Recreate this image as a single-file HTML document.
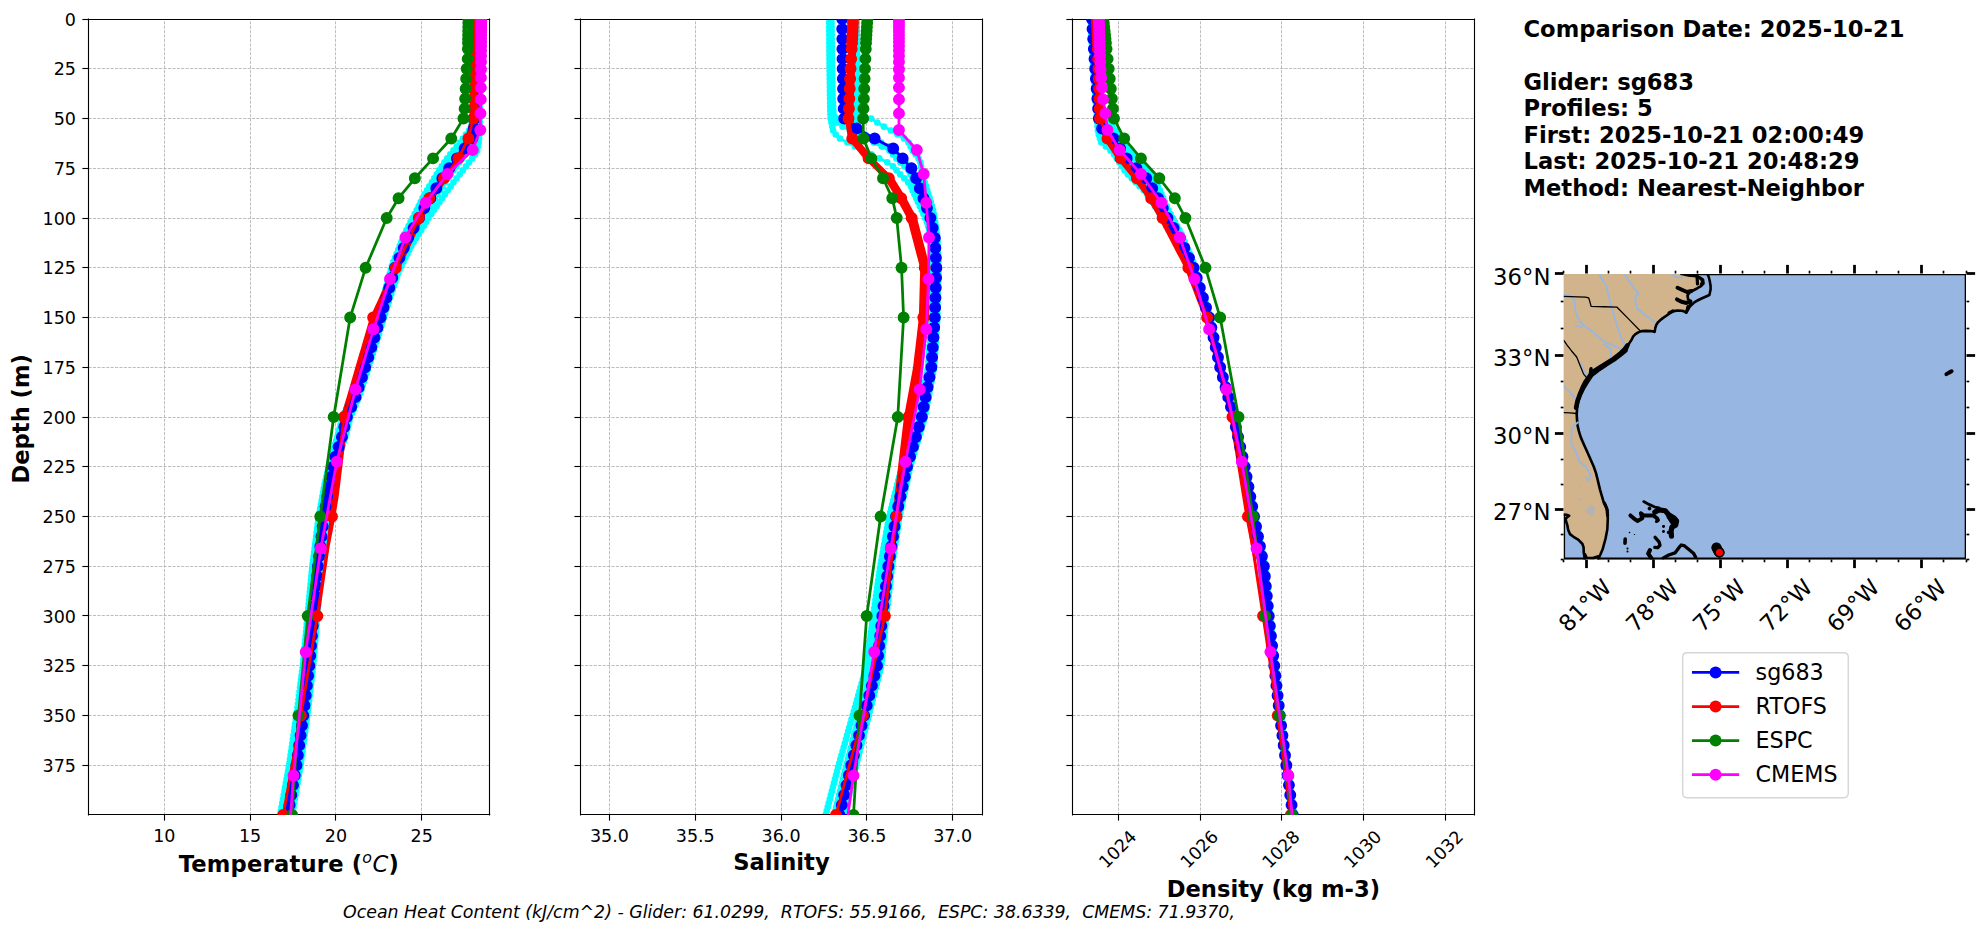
<!DOCTYPE html>
<html><head><meta charset="utf-8"><title>Glider comparison</title>
<style>html,body{margin:0;padding:0;background:#fff;overflow:hidden}svg{display:block}text{white-space:pre}</style></head><body>
<svg width="1978" height="934" viewBox="0 0 1424.16 672.48" version="1.1"><defs><style type="text/css">*{stroke-linejoin: round; stroke-linecap: butt}</style></defs><g id="figure_1"><g id="patch_1"><path d="M 0 672.48 L 1424.16 672.48 L 1424.16 0 L 0 0 z " style="fill: #ffffff"/></g><g id="axes_1"><g id="patch_2"><path d="M 63.72 586.76 L 352.58 586.76 L 352.58 13.75 L 63.72 13.75 z " style="fill: #ffffff"/></g><g id="matplotlib.axis_1"><g id="xtick_1"><g id="line2d_1"><path d="M 118.44 586.76 L 118.44 13.75" clip-path="url(#pdf5bd7e26a)" style="fill: none; stroke-dasharray: 2.22,0.96; stroke-dashoffset: 0; stroke: #b0b0b0; stroke-width: 0.6"/></g><g id="line2d_2"><defs><path id="m469b586308" d="M 0 0 L 0 4.4 " style="stroke: #000000; stroke-width: 0.8"/></defs><g><use href="#m469b586308" x="118.44" y="586.44" style="stroke: #000000; stroke-width: 0.8"/></g></g><g id="text_1"><text style="font-size: 12.6px; font-family: 'DejaVu Sans', 'Liberation Sans', sans-serif; text-anchor: middle" x="118.28" y="606.04" transform="rotate(-0 118.28 606.04)">10</text></g></g><g id="xtick_2"><g id="line2d_3"><path d="M 180.36 586.76 L 180.36 13.75" clip-path="url(#pdf5bd7e26a)" style="fill: none; stroke-dasharray: 2.22,0.96; stroke-dashoffset: 0; stroke: #b0b0b0; stroke-width: 0.6"/></g><g id="line2d_4"><g><use href="#m469b586308" x="180.36" y="586.44" style="stroke: #000000; stroke-width: 0.8"/></g></g><g id="text_2"><text style="font-size: 12.6px; font-family: 'DejaVu Sans', 'Liberation Sans', sans-serif; text-anchor: middle" x="180.07" y="606.04" transform="rotate(-0 180.07 606.04)">15</text></g></g><g id="xtick_3"><g id="line2d_5"><path d="M 241.56 586.76 L 241.56 13.75" clip-path="url(#pdf5bd7e26a)" style="fill: none; stroke-dasharray: 2.22,0.96; stroke-dashoffset: 0; stroke: #b0b0b0; stroke-width: 0.6"/></g><g id="line2d_6"><g><use href="#m469b586308" x="241.56" y="586.44" style="stroke: #000000; stroke-width: 0.8"/></g></g><g id="text_3"><text style="font-size: 12.6px; font-family: 'DejaVu Sans', 'Liberation Sans', sans-serif; text-anchor: middle" x="241.86" y="606.04" transform="rotate(-0 241.86 606.04)">20</text></g></g><g id="xtick_4"><g id="line2d_7"><path d="M 303.48 586.76 L 303.48 13.75" clip-path="url(#pdf5bd7e26a)" style="fill: none; stroke-dasharray: 2.22,0.96; stroke-dashoffset: 0; stroke: #b0b0b0; stroke-width: 0.6"/></g><g id="line2d_8"><g><use href="#m469b586308" x="303.48" y="586.44" style="stroke: #000000; stroke-width: 0.8"/></g></g><g id="text_4"><text style="font-size: 12.6px; font-family: 'DejaVu Sans', 'Liberation Sans', sans-serif; text-anchor: middle" x="303.65" y="606.04" transform="rotate(-0 303.65 606.04)">25</text></g></g><g id="text_5"><g transform="translate(128.61 628.37)"><text style="font-weight: 700; font-size: 16.3px; font-family: 'DejaVu Sans', 'Liberation Sans', sans-serif"><tspan x="0" y="-0.6" textLength="132.15" lengthAdjust="spacing">Temperature (</tspan><tspan x="132.28" y="-6.72" style="font-weight: 400; font-style: oblique; font-size: 11.41px; font-family: 'DejaVu Sans', 'Liberation Sans', sans-serif">o</tspan><tspan x="139.68" y="-0.6" style="font-weight: 400; font-style: oblique; font-size: 16.3px; font-family: 'DejaVu Sans', 'Liberation Sans', sans-serif">C</tspan><tspan x="151.02" y="-0.6">)</tspan></text></g></g></g><g id="matplotlib.axis_2"><g id="ytick_1"><g id="line2d_9"><path d="M 63.72 14.04 L 352.58 14.04" clip-path="url(#pdf5bd7e26a)" style="fill: none; stroke-dasharray: 2.22,0.96; stroke-dashoffset: 0; stroke: #b0b0b0; stroke-width: 0.6"/></g><g id="line2d_10"><defs><path id="ma31aeadfb0" d="M 0 0 L -4.4 0 " style="stroke: #000000; stroke-width: 0.8"/></defs><g><use href="#ma31aeadfb0" x="63.72" y="14.04" style="stroke: #000000; stroke-width: 0.8"/></g></g><g id="text_6"><text style="font-size: 12.6px; font-family: 'DejaVu Sans', 'Liberation Sans', sans-serif; text-anchor: end" x="54.72" y="18.54" transform="rotate(-0 54.72 18.54)">0</text></g></g><g id="ytick_2"><g id="line2d_11"><path d="M 63.72 49.32 L 352.58 49.32" clip-path="url(#pdf5bd7e26a)" style="fill: none; stroke-dasharray: 2.22,0.96; stroke-dashoffset: 0; stroke: #b0b0b0; stroke-width: 0.6"/></g><g id="line2d_12"><g><use href="#ma31aeadfb0" x="63.72" y="49.32" style="stroke: #000000; stroke-width: 0.8"/></g></g><g id="text_7"><text style="font-size: 12.6px; font-family: 'DejaVu Sans', 'Liberation Sans', sans-serif; text-anchor: end" x="54.72" y="54.35" transform="rotate(-0 54.72 54.35)">25</text></g></g><g id="ytick_3"><g id="line2d_13"><path d="M 63.72 85.32 L 352.58 85.32" clip-path="url(#pdf5bd7e26a)" style="fill: none; stroke-dasharray: 2.22,0.96; stroke-dashoffset: 0; stroke: #b0b0b0; stroke-width: 0.6"/></g><g id="line2d_14"><g><use href="#ma31aeadfb0" x="63.72" y="85.32" style="stroke: #000000; stroke-width: 0.8"/></g></g><g id="text_8"><text style="font-size: 12.6px; font-family: 'DejaVu Sans', 'Liberation Sans', sans-serif; text-anchor: end" x="54.72" y="90.17" transform="rotate(-0 54.72 90.17)">50</text></g></g><g id="ytick_4"><g id="line2d_15"><path d="M 63.72 121.32 L 352.58 121.32" clip-path="url(#pdf5bd7e26a)" style="fill: none; stroke-dasharray: 2.22,0.96; stroke-dashoffset: 0; stroke: #b0b0b0; stroke-width: 0.6"/></g><g id="line2d_16"><g><use href="#ma31aeadfb0" x="63.72" y="121.32" style="stroke: #000000; stroke-width: 0.8"/></g></g><g id="text_9"><text style="font-size: 12.6px; font-family: 'DejaVu Sans', 'Liberation Sans', sans-serif; text-anchor: end" x="54.72" y="125.98" transform="rotate(-0 54.72 125.98)">75</text></g></g><g id="ytick_5"><g id="line2d_17"><path d="M 63.72 157.32 L 352.58 157.32" clip-path="url(#pdf5bd7e26a)" style="fill: none; stroke-dasharray: 2.22,0.96; stroke-dashoffset: 0; stroke: #b0b0b0; stroke-width: 0.6"/></g><g id="line2d_18"><g><use href="#ma31aeadfb0" x="63.72" y="157.32" style="stroke: #000000; stroke-width: 0.8"/></g></g><g id="text_10"><text style="font-size: 12.6px; font-family: 'DejaVu Sans', 'Liberation Sans', sans-serif; text-anchor: end" x="54.72" y="161.79" transform="rotate(-0 54.72 161.79)">100</text></g></g><g id="ytick_6"><g id="line2d_19"><path d="M 63.72 192.6 L 352.58 192.6" clip-path="url(#pdf5bd7e26a)" style="fill: none; stroke-dasharray: 2.22,0.96; stroke-dashoffset: 0; stroke: #b0b0b0; stroke-width: 0.6"/></g><g id="line2d_20"><g><use href="#ma31aeadfb0" x="63.72" y="192.6" style="stroke: #000000; stroke-width: 0.8"/></g></g><g id="text_11"><text style="font-size: 12.6px; font-family: 'DejaVu Sans', 'Liberation Sans', sans-serif; text-anchor: end" x="54.72" y="197.61" transform="rotate(-0 54.72 197.61)">125</text></g></g><g id="ytick_7"><g id="line2d_21"><path d="M 63.72 228.6 L 352.58 228.6" clip-path="url(#pdf5bd7e26a)" style="fill: none; stroke-dasharray: 2.22,0.96; stroke-dashoffset: 0; stroke: #b0b0b0; stroke-width: 0.6"/></g><g id="line2d_22"><g><use href="#ma31aeadfb0" x="63.72" y="228.6" style="stroke: #000000; stroke-width: 0.8"/></g></g><g id="text_12"><text style="font-size: 12.6px; font-family: 'DejaVu Sans', 'Liberation Sans', sans-serif; text-anchor: end" x="54.72" y="233.42" transform="rotate(-0 54.72 233.42)">150</text></g></g><g id="ytick_8"><g id="line2d_23"><path d="M 63.72 264.6 L 352.58 264.6" clip-path="url(#pdf5bd7e26a)" style="fill: none; stroke-dasharray: 2.22,0.96; stroke-dashoffset: 0; stroke: #b0b0b0; stroke-width: 0.6"/></g><g id="line2d_24"><g><use href="#ma31aeadfb0" x="63.72" y="264.6" style="stroke: #000000; stroke-width: 0.8"/></g></g><g id="text_13"><text style="font-size: 12.6px; font-family: 'DejaVu Sans', 'Liberation Sans', sans-serif; text-anchor: end" x="54.72" y="269.23" transform="rotate(-0 54.72 269.23)">175</text></g></g><g id="ytick_9"><g id="line2d_25"><path d="M 63.72 300.6 L 352.58 300.6" clip-path="url(#pdf5bd7e26a)" style="fill: none; stroke-dasharray: 2.22,0.96; stroke-dashoffset: 0; stroke: #b0b0b0; stroke-width: 0.6"/></g><g id="line2d_26"><g><use href="#ma31aeadfb0" x="63.72" y="300.6" style="stroke: #000000; stroke-width: 0.8"/></g></g><g id="text_14"><text style="font-size: 12.6px; font-family: 'DejaVu Sans', 'Liberation Sans', sans-serif; text-anchor: end" x="54.72" y="305.05" transform="rotate(-0 54.72 305.05)">200</text></g></g><g id="ytick_10"><g id="line2d_27"><path d="M 63.72 335.88 L 352.58 335.88" clip-path="url(#pdf5bd7e26a)" style="fill: none; stroke-dasharray: 2.22,0.96; stroke-dashoffset: 0; stroke: #b0b0b0; stroke-width: 0.6"/></g><g id="line2d_28"><g><use href="#ma31aeadfb0" x="63.72" y="335.88" style="stroke: #000000; stroke-width: 0.8"/></g></g><g id="text_15"><text style="font-size: 12.6px; font-family: 'DejaVu Sans', 'Liberation Sans', sans-serif; text-anchor: end" x="54.72" y="340.86" transform="rotate(-0 54.72 340.86)">225</text></g></g><g id="ytick_11"><g id="line2d_29"><path d="M 63.72 371.88 L 352.58 371.88" clip-path="url(#pdf5bd7e26a)" style="fill: none; stroke-dasharray: 2.22,0.96; stroke-dashoffset: 0; stroke: #b0b0b0; stroke-width: 0.6"/></g><g id="line2d_30"><g><use href="#ma31aeadfb0" x="63.72" y="371.88" style="stroke: #000000; stroke-width: 0.8"/></g></g><g id="text_16"><text style="font-size: 12.6px; font-family: 'DejaVu Sans', 'Liberation Sans', sans-serif; text-anchor: end" x="54.72" y="376.67" transform="rotate(-0 54.72 376.67)">250</text></g></g><g id="ytick_12"><g id="line2d_31"><path d="M 63.72 407.88 L 352.58 407.88" clip-path="url(#pdf5bd7e26a)" style="fill: none; stroke-dasharray: 2.22,0.96; stroke-dashoffset: 0; stroke: #b0b0b0; stroke-width: 0.6"/></g><g id="line2d_32"><g><use href="#ma31aeadfb0" x="63.72" y="407.88" style="stroke: #000000; stroke-width: 0.8"/></g></g><g id="text_17"><text style="font-size: 12.6px; font-family: 'DejaVu Sans', 'Liberation Sans', sans-serif; text-anchor: end" x="54.72" y="412.48" transform="rotate(-0 54.72 412.48)">275</text></g></g><g id="ytick_13"><g id="line2d_33"><path d="M 63.72 443.16 L 352.58 443.16" clip-path="url(#pdf5bd7e26a)" style="fill: none; stroke-dasharray: 2.22,0.96; stroke-dashoffset: 0; stroke: #b0b0b0; stroke-width: 0.6"/></g><g id="line2d_34"><g><use href="#ma31aeadfb0" x="63.72" y="443.16" style="stroke: #000000; stroke-width: 0.8"/></g></g><g id="text_18"><text style="font-size: 12.6px; font-family: 'DejaVu Sans', 'Liberation Sans', sans-serif; text-anchor: end" x="54.72" y="448.3" transform="rotate(-0 54.72 448.3)">300</text></g></g><g id="ytick_14"><g id="line2d_35"><path d="M 63.72 479.16 L 352.58 479.16" clip-path="url(#pdf5bd7e26a)" style="fill: none; stroke-dasharray: 2.22,0.96; stroke-dashoffset: 0; stroke: #b0b0b0; stroke-width: 0.6"/></g><g id="line2d_36"><g><use href="#ma31aeadfb0" x="63.72" y="479.16" style="stroke: #000000; stroke-width: 0.8"/></g></g><g id="text_19"><text style="font-size: 12.6px; font-family: 'DejaVu Sans', 'Liberation Sans', sans-serif; text-anchor: end" x="54.72" y="484.11" transform="rotate(-0 54.72 484.11)">325</text></g></g><g id="ytick_15"><g id="line2d_37"><path d="M 63.72 515.16 L 352.58 515.16" clip-path="url(#pdf5bd7e26a)" style="fill: none; stroke-dasharray: 2.22,0.96; stroke-dashoffset: 0; stroke: #b0b0b0; stroke-width: 0.6"/></g><g id="line2d_38"><g><use href="#ma31aeadfb0" x="63.72" y="515.16" style="stroke: #000000; stroke-width: 0.8"/></g></g><g id="text_20"><text style="font-size: 12.6px; font-family: 'DejaVu Sans', 'Liberation Sans', sans-serif; text-anchor: end" x="54.72" y="519.92" transform="rotate(-0 54.72 519.92)">350</text></g></g><g id="ytick_16"><g id="line2d_39"><path d="M 63.72 551.16 L 352.58 551.16" clip-path="url(#pdf5bd7e26a)" style="fill: none; stroke-dasharray: 2.22,0.96; stroke-dashoffset: 0; stroke: #b0b0b0; stroke-width: 0.6"/></g><g id="line2d_40"><g><use href="#ma31aeadfb0" x="63.72" y="551.16" style="stroke: #000000; stroke-width: 0.8"/></g></g><g id="text_21"><text style="font-size: 12.6px; font-family: 'DejaVu Sans', 'Liberation Sans', sans-serif; text-anchor: end" x="54.72" y="555.74" transform="rotate(-0 54.72 555.74)">375</text></g></g><g id="text_22"><text style="font-weight: 700; font-size: 16.3px; font-family: 'DejaVu Sans', 'Liberation Sans', sans-serif; text-anchor: middle" x="21.08" y="301.55" transform="rotate(-90 21.08 301.55)">Depth (m)</text></g></g><g id="line2d_41"><path d="M 341.28 13.75 L 340.99 59.59 L 340.84 71.05 L 340.6 79.65 L 340.1 85.38 L 339.08 91.11 L 337.71 93.97 L 322.02 114.03 L 316.16 122.62 L 307.47 136.95 L 304.27 142.68 L 294.13 162.74 L 292.64 165.6 L 291.32 168.47 L 282.2 191.39 L 274.99 217.17 L 269.69 234.36 L 256.77 274.47 L 252.98 285.93 L 246.68 300.26 L 242.97 314.58 L 238.15 328.91 L 232.61 354.69 L 229.5 371.88 L 224.73 409.13 L 217.88 480.76 L 212.59 520.87 L 207.92 552.38 L 201.7 586.76 L 201.7 586.76 " clip-path="url(#pdf5bd7e26a)" style="fill: none; stroke: #00ffff; stroke-width: 2; stroke-linecap: square"/><defs><path id="m551fde6e4b" d="M 0 2.4 C 0.64 2.4 1.25 2.15 1.7 1.7 C 2.15 1.25 2.4 0.64 2.4 0 C 2.4 -0.64 2.15 -1.25 1.7 -1.7 C 1.25 -2.15 0.64 -2.4 0 -2.4 C -0.64 -2.4 -1.25 -2.15 -1.7 -1.7 C -2.15 -1.25 -2.4 -0.64 -2.4 0 C -2.4 0.64 -2.15 1.25 -1.7 1.7 C -1.25 2.15 -0.64 2.4 0 2.4 z "/></defs><g clip-path="url(#pdf5bd7e26a)"><path d="M341.28 13.75h0M341.25 16.62h0M341.23 19.48h0M341.2 22.35h0M341.18 25.21h0M341.15 28.08h0M341.13 30.94h0M341.1 33.81h0M341.09 36.67h0M341.07 39.54h0M341.06 42.4h0M341.05 45.27h0M341.04 48.13h0M341.02 51h0M341.01 53.86h0M341 56.73h0M340.99 59.59h0M340.97 62.46h0M340.94 65.32h0M340.89 68.19h0M340.84 71.05h0M340.79 73.92h0M340.75 76.78h0M340.6 79.65h0M340.35 82.51h0M340.1 85.38h0M339.59 88.24h0M339.08 91.11h0M337.71 93.97h0M335.46 96.84h0M333.22 99.7h0M330.98 102.57h0M328.74 105.43h0M326.5 108.3h0M324.26 111.16h0M322.02 114.03h0M320.03 116.89h0M318.03 119.76h0M316.16 122.62h0M314.41 125.49h0M312.67 128.35h0M310.91 131.22h0M309.15 134.08h0M307.47 136.95h0M305.87 139.81h0M304.27 142.68h0M302.84 145.54h0M301.46 148.41h0M300.08 151.27h0M298.6 154.14h0M297.11 157h0M295.62 159.87h0M294.13 162.74h0M292.64 165.6h0M291.32 168.47h0M290.17 171.33h0M289.02 174.2h0M287.87 177.06h0M286.71 179.93h0M285.56 182.79h0M284.41 185.66h0M283.26 188.52h0M282.2 191.39h0M281.4 194.25h0M280.61 197.12h0M279.82 199.98h0M279.03 202.85h0M278.24 205.71h0M277.44 208.58h0M276.65 211.44h0M275.86 214.31h0M274.99 217.17h0M274.12 220.04h0M273.25 222.9h0M272.39 225.77h0M271.52 228.63h0M270.6 231.5h0M269.69 234.36h0M268.77 237.23h0M267.86 240.09h0M266.94 242.96h0M266.03 245.82h0M265.12 248.69h0M264.2 251.55h0M263.29 254.42h0M262.37 257.28h0M261.46 260.15h0M260.54 263.01h0M259.61 265.88h0M258.66 268.74h0M257.72 271.61h0M256.77 274.47h0M255.82 277.34h0M254.87 280.2h0M253.93 283.07h0M252.98 285.93h0M251.72 288.8h0M250.46 291.66h0M249.2 294.53h0M247.94 297.39h0M246.68 300.26h0M245.94 303.12h0M245.19 305.99h0M244.45 308.85h0M243.71 311.72h0M242.97 314.58h0M242.01 317.45h0M241.04 320.31h0M240.08 323.18h0M239.11 326.04h0M238.15 328.91h0M237.53 331.77h0M236.91 334.64h0M236.28 337.5h0M235.64 340.37h0M235 343.23h0M234.36 346.1h0M233.71 348.96h0M233.13 351.83h0M232.61 354.69h0M232.1 357.56h0M231.58 360.42h0M231.06 363.29h0M230.54 366.15h0M230.02 369.02h0M229.5 371.88h0M229.13 374.75h0M228.76 377.61h0M228.39 380.48h0M228.02 383.34h0M227.65 386.21h0M227.28 389.07h0M226.9 391.94h0M226.53 394.8h0M226.16 397.67h0M225.79 400.54h0M225.42 403.4h0M225.05 406.27h0M224.73 409.13h0M224.46 412h0M224.19 414.86h0M223.91 417.73h0M223.64 420.59h0M223.37 423.46h0M223.1 426.32h0M222.83 429.19h0M222.56 432.05h0M222.28 434.92h0M222.01 437.78h0M221.74 440.65h0M221.47 443.51h0M221.2 446.38h0M220.92 449.24h0M220.65 452.11h0M220.38 454.97h0M220.11 457.84h0M219.84 460.7h0M219.56 463.57h0M219.29 466.43h0M219.02 469.3h0M218.75 472.16h0M218.48 475.03h0M218.21 477.89h0M217.88 480.76h0M217.51 483.62h0M217.14 486.49h0M216.77 489.35h0M216.4 492.22h0M216.03 495.08h0M215.66 497.95h0M215.29 500.81h0M214.92 503.68h0M214.55 506.54h0M214.18 509.41h0M213.81 512.27h0M213.43 515.14h0M213.01 518h0M212.59 520.87h0M212.17 523.73h0M211.75 526.6h0M211.33 529.46h0M210.91 532.33h0M210.49 535.19h0M210.07 538.06h0M209.65 540.92h0M209.23 543.79h0M208.81 546.65h0M208.39 549.52h0M207.92 552.38h0M207.4 555.25h0M206.89 558.11h0M206.37 560.98h0M205.85 563.84h0M205.33 566.71h0M204.81 569.57h0M204.29 572.44h0M203.77 575.3h0M203.25 578.17h0M202.73 581.03h0M202.21 583.9h0M201.7 586.76h0" style="fill:none;stroke:#00ffff;stroke-width:4.8;stroke-linecap:round"/></g></g><g id="line2d_42"><path d="M 342.55 13.75 L 342.23 62.46 L 342.1 73.92 L 341.96 82.51 L 341.42 88.24 L 341.01 91.11 L 339.94 96.84 L 321.94 119.76 L 317.9 125.49 L 310.92 136.95 L 304.26 148.41 L 299.83 157 L 293.57 168.47 L 292.2 171.33 L 283.74 191.39 L 282.01 197.12 L 274.47 222.9 L 270.08 237.23 L 258.4 274.47 L 254.71 285.93 L 248.53 300.26 L 244.95 314.58 L 240.25 328.91 L 234.94 354.69 L 231.97 371.88 L 227.42 409.13 L 220.98 480.76 L 215.92 520.87 L 211.43 552.38 L 205.4 586.76 L 205.4 586.76 " clip-path="url(#pdf5bd7e26a)" style="fill: none; stroke: #00ffff; stroke-width: 2; stroke-linecap: square"/><g clip-path="url(#pdf5bd7e26a)"><path d="M342.55 13.75h0M342.52 16.62h0M342.5 19.48h0M342.48 22.35h0M342.45 25.21h0M342.43 28.08h0M342.4 30.94h0M342.38 33.81h0M342.35 36.67h0M342.33 39.54h0M342.31 42.4h0M342.3 45.27h0M342.29 48.13h0M342.28 51h0M342.27 53.86h0M342.25 56.73h0M342.24 59.59h0M342.23 62.46h0M342.22 65.32h0M342.2 68.19h0M342.15 71.05h0M342.1 73.92h0M342.06 76.78h0M342.01 79.65h0M341.96 82.51h0M341.71 85.38h0M341.42 88.24h0M341.01 91.11h0M340.47 93.97h0M339.94 96.84h0M337.67 99.7h0M335.41 102.57h0M333.14 105.43h0M330.88 108.3h0M328.61 111.16h0M326.34 114.03h0M324.08 116.89h0M321.94 119.76h0M319.92 122.62h0M317.9 125.49h0M316.13 128.35h0M314.38 131.22h0M312.63 134.08h0M310.92 136.95h0M309.23 139.81h0M307.55 142.68h0M305.86 145.54h0M304.26 148.41h0M302.81 151.27h0M301.37 154.14h0M299.83 157h0M298.26 159.87h0M296.7 162.74h0M295.13 165.6h0M293.57 168.47h0M292.2 171.33h0M291 174.2h0M289.79 177.06h0M288.58 179.93h0M287.37 182.79h0M286.16 185.66h0M284.95 188.52h0M283.74 191.39h0M282.83 194.25h0M282.01 197.12h0M281.18 199.98h0M280.35 202.85h0M279.52 205.71h0M278.7 208.58h0M277.87 211.44h0M277.04 214.31h0M276.18 217.17h0M275.33 220.04h0M274.47 222.9h0M273.61 225.77h0M272.75 228.63h0M271.86 231.5h0M270.97 234.36h0M270.08 237.23h0M269.19 240.09h0M268.3 242.96h0M267.41 245.82h0M266.52 248.69h0M265.63 251.55h0M264.74 254.42h0M263.85 257.28h0M262.97 260.15h0M262.08 263.01h0M261.17 265.88h0M260.25 268.74h0M259.32 271.61h0M258.4 274.47h0M257.48 277.34h0M256.56 280.2h0M255.63 283.07h0M254.71 285.93h0M253.47 288.8h0M252.24 291.66h0M251 294.53h0M249.77 297.39h0M248.53 300.26h0M247.81 303.12h0M247.1 305.99h0M246.38 308.85h0M245.66 311.72h0M244.95 314.58h0M244.01 317.45h0M243.07 320.31h0M242.13 323.18h0M241.19 326.04h0M240.25 328.91h0M239.66 331.77h0M239.07 334.64h0M238.46 337.5h0M237.84 340.37h0M237.22 343.23h0M236.61 346.1h0M235.99 348.96h0M235.43 351.83h0M234.94 354.69h0M234.44 357.56h0M233.95 360.42h0M233.45 363.29h0M232.96 366.15h0M232.47 369.02h0M231.97 371.88h0M231.62 374.75h0M231.26 377.61h0M230.91 380.48h0M230.55 383.34h0M230.2 386.21h0M229.85 389.07h0M229.49 391.94h0M229.14 394.8h0M228.78 397.67h0M228.43 400.54h0M228.07 403.4h0M227.72 406.27h0M227.42 409.13h0M227.16 412h0M226.9 414.86h0M226.65 417.73h0M226.39 420.59h0M226.14 423.46h0M225.88 426.32h0M225.63 429.19h0M225.37 432.05h0M225.12 434.92h0M224.86 437.78h0M224.61 440.65h0M224.35 443.51h0M224.1 446.38h0M223.84 449.24h0M223.58 452.11h0M223.33 454.97h0M223.07 457.84h0M222.82 460.7h0M222.56 463.57h0M222.31 466.43h0M222.05 469.3h0M221.8 472.16h0M221.54 475.03h0M221.29 477.89h0M220.98 480.76h0M220.63 483.62h0M220.27 486.49h0M219.92 489.35h0M219.56 492.22h0M219.21 495.08h0M218.86 497.95h0M218.5 500.81h0M218.15 503.68h0M217.79 506.54h0M217.44 509.41h0M217.08 512.27h0M216.73 515.14h0M216.33 518h0M215.92 520.87h0M215.52 523.73h0M215.12 526.6h0M214.71 529.46h0M214.31 532.33h0M213.9 535.19h0M213.5 538.06h0M213.1 540.92h0M212.69 543.79h0M212.29 546.65h0M211.89 549.52h0M211.43 552.38h0M210.93 555.25h0M210.43 558.11h0M209.93 560.98h0M209.42 563.84h0M208.92 566.71h0M208.42 569.57h0M207.92 572.44h0M207.41 575.3h0M206.91 578.17h0M206.41 581.03h0M205.9 583.9h0M205.4 586.76h0" style="fill:none;stroke:#00ffff;stroke-width:4.8;stroke-linecap:round"/></g></g><g id="line2d_43"><path d="M 343.19 13.75 L 342.85 65.32 L 342.72 76.78 L 342.57 85.38 L 342.05 91.11 L 341.66 93.97 L 340.64 99.7 L 322.83 122.62 L 318.85 128.35 L 305.05 151.27 L 300.44 159.87 L 293.97 171.33 L 285.25 191.39 L 284.2 194.25 L 272.21 234.36 L 259.64 274.47 L 255.95 285.93 L 249.77 300.26 L 246.18 314.58 L 241.49 328.91 L 236.17 354.69 L 233.21 371.88 L 228.76 409.13 L 222.53 480.76 L 217.59 520.87 L 213.19 552.38 L 207.26 586.76 L 207.26 586.76 " clip-path="url(#pdf5bd7e26a)" style="fill: none; stroke: #00ffff; stroke-width: 2; stroke-linecap: square"/><g clip-path="url(#pdf5bd7e26a)"><path d="M343.19 13.75h0M343.17 16.62h0M343.14 19.48h0M343.12 22.35h0M343.09 25.21h0M343.07 28.08h0M343.04 30.94h0M343.02 33.81h0M342.99 36.67h0M342.97 39.54h0M342.94 42.4h0M342.93 45.27h0M342.92 48.13h0M342.91 51h0M342.9 53.86h0M342.88 56.73h0M342.87 59.59h0M342.86 62.46h0M342.85 65.32h0M342.83 68.19h0M342.82 71.05h0M342.77 73.92h0M342.72 76.78h0M342.67 79.65h0M342.62 82.51h0M342.57 85.38h0M342.31 88.24h0M342.05 91.11h0M341.66 93.97h0M341.15 96.84h0M340.64 99.7h0M338.4 102.57h0M336.16 105.43h0M333.92 108.3h0M331.67 111.16h0M329.43 114.03h0M327.19 116.89h0M324.95 119.76h0M322.83 122.62h0M320.84 125.49h0M318.85 128.35h0M317.11 131.22h0M315.37 134.08h0M313.63 136.95h0M311.88 139.81h0M310.14 142.68h0M308.4 145.54h0M306.66 148.41h0M305.05 151.27h0M303.55 154.14h0M302.06 157h0M300.44 159.87h0M298.82 162.74h0M297.21 165.6h0M295.59 168.47h0M293.97 171.33h0M292.73 174.2h0M291.48 177.06h0M290.23 179.93h0M288.99 182.79h0M287.74 185.66h0M286.49 188.52h0M285.25 191.39h0M284.2 194.25h0M283.35 197.12h0M282.5 199.98h0M281.65 202.85h0M280.8 205.71h0M279.94 208.58h0M279.09 211.44h0M278.24 214.31h0M277.39 217.17h0M276.54 220.04h0M275.69 222.9h0M274.84 225.77h0M273.99 228.63h0M273.1 231.5h0M272.21 234.36h0M271.32 237.23h0M270.43 240.09h0M269.54 242.96h0M268.65 245.82h0M267.76 248.69h0M266.87 251.55h0M265.98 254.42h0M265.09 257.28h0M264.2 260.15h0M263.31 263.01h0M262.4 265.88h0M261.48 268.74h0M260.56 271.61h0M259.64 274.47h0M258.71 277.34h0M257.79 280.2h0M256.87 283.07h0M255.95 285.93h0M254.71 288.8h0M253.47 291.66h0M252.24 294.53h0M251 297.39h0M249.77 300.26h0M249.05 303.12h0M248.33 305.99h0M247.62 308.85h0M246.9 311.72h0M246.18 314.58h0M245.24 317.45h0M244.3 320.31h0M243.37 323.18h0M242.43 326.04h0M241.49 328.91h0M240.89 331.77h0M240.3 334.64h0M239.7 337.5h0M239.08 340.37h0M238.46 343.23h0M237.84 346.1h0M237.22 348.96h0M236.67 351.83h0M236.17 354.69h0M235.68 357.56h0M235.18 360.42h0M234.69 363.29h0M234.2 366.15h0M233.7 369.02h0M233.21 371.88h0M232.86 374.75h0M232.52 377.61h0M232.17 380.48h0M231.82 383.34h0M231.48 386.21h0M231.13 389.07h0M230.79 391.94h0M230.44 394.8h0M230.09 397.67h0M229.75 400.54h0M229.4 403.4h0M229.06 406.27h0M228.76 409.13h0M228.51 412h0M228.26 414.86h0M228.02 417.73h0M227.77 420.59h0M227.52 423.46h0M227.28 426.32h0M227.03 429.19h0M226.78 432.05h0M226.53 434.92h0M226.29 437.78h0M226.04 440.65h0M225.79 443.51h0M225.55 446.38h0M225.3 449.24h0M225.05 452.11h0M224.8 454.97h0M224.56 457.84h0M224.31 460.7h0M224.06 463.57h0M223.82 466.43h0M223.57 469.3h0M223.32 472.16h0M223.07 475.03h0M222.83 477.89h0M222.53 480.76h0M222.18 483.62h0M221.84 486.49h0M221.49 489.35h0M221.15 492.22h0M220.8 495.08h0M220.45 497.95h0M220.11 500.81h0M219.76 503.68h0M219.42 506.54h0M219.07 509.41h0M218.72 512.27h0M218.38 515.14h0M217.98 518h0M217.59 520.87h0M217.19 523.73h0M216.8 526.6h0M216.4 529.46h0M216.01 532.33h0M215.61 535.19h0M215.21 538.06h0M214.82 540.92h0M214.42 543.79h0M214.03 546.65h0M213.63 549.52h0M213.19 552.38h0M212.69 555.25h0M212.2 558.11h0M211.7 560.98h0M211.21 563.84h0M210.72 566.71h0M210.22 569.57h0M209.73 572.44h0M209.23 575.3h0M208.74 578.17h0M208.24 581.03h0M207.75 583.9h0M207.26 586.76h0" style="fill:none;stroke:#00ffff;stroke-width:4.8;stroke-linecap:round"/></g></g><g id="line2d_44"><path d="M 340.72 13.75 L 340.62 30.94 L 340.37 71.05 L 340.25 82.51 L 340.2 85.38 L 340.35 91.11 L 340.1 96.84 L 339.86 99.7 L 339.11 105.43 L 322.43 128.35 L 318.55 134.08 L 313.15 142.68 L 305.87 154.14 L 301.11 162.74 L 294.35 174.2 L 285.32 194.25 L 278.44 217.17 L 274.33 231.5 L 260.87 274.47 L 257.18 285.93 L 251 300.26 L 247.42 314.58 L 242.72 328.91 L 237.41 354.69 L 234.44 371.88 L 230.1 409.13 L 224.08 480.76 L 219.25 520.87 L 214.94 552.38 L 209.11 586.76 L 209.11 586.76 " clip-path="url(#pdf5bd7e26a)" style="fill: none; stroke: #00ffff; stroke-width: 2; stroke-linecap: square"/><g clip-path="url(#pdf5bd7e26a)"><path d="M340.72 13.75h0M340.72 16.62h0M340.72 19.48h0M340.7 22.35h0M340.67 25.21h0M340.65 28.08h0M340.62 30.94h0M340.6 33.81h0M340.57 36.67h0M340.55 39.54h0M340.52 42.4h0M340.5 45.27h0M340.47 48.13h0M340.46 51h0M340.45 53.86h0M340.44 56.73h0M340.42 59.59h0M340.41 62.46h0M340.4 65.32h0M340.39 68.19h0M340.37 71.05h0M340.36 73.92h0M340.35 76.78h0M340.3 79.65h0M340.25 82.51h0M340.2 85.38h0M340.28 88.24h0M340.35 91.11h0M340.23 93.97h0M340.1 96.84h0M339.86 99.7h0M339.48 102.57h0M339.11 105.43h0M337.01 108.3h0M334.91 111.16h0M332.81 114.03h0M330.71 116.89h0M328.61 119.76h0M326.51 122.62h0M324.41 125.49h0M322.43 128.35h0M320.49 131.22h0M318.55 134.08h0M316.79 136.95h0M314.97 139.81h0M313.15 142.68h0M311.33 145.54h0M309.51 148.41h0M307.69 151.27h0M305.87 154.14h0M304.3 157h0M302.75 159.87h0M301.11 162.74h0M299.42 165.6h0M297.73 168.47h0M296.04 171.33h0M294.35 174.2h0M293.06 177.06h0M291.77 179.93h0M290.48 182.79h0M289.19 185.66h0M287.9 188.52h0M286.61 191.39h0M285.32 194.25h0M284.45 197.12h0M283.58 199.98h0M282.71 202.85h0M281.85 205.71h0M280.98 208.58h0M280.12 211.44h0M279.25 214.31h0M278.44 217.17h0M277.64 220.04h0M276.83 222.9h0M276.03 225.77h0M275.22 228.63h0M274.33 231.5h0M273.44 234.36h0M272.55 237.23h0M271.67 240.09h0M270.78 242.96h0M269.89 245.82h0M269 248.69h0M268.11 251.55h0M267.22 254.42h0M266.33 257.28h0M265.44 260.15h0M264.55 263.01h0M263.64 265.88h0M262.72 268.74h0M261.8 271.61h0M260.87 274.47h0M259.95 277.34h0M259.03 280.2h0M258.1 283.07h0M257.18 285.93h0M255.95 288.8h0M254.71 291.66h0M253.47 294.53h0M252.24 297.39h0M251 300.26h0M250.29 303.12h0M249.57 305.99h0M248.85 308.85h0M248.14 311.72h0M247.42 314.58h0M246.48 317.45h0M245.54 320.31h0M244.6 323.18h0M243.66 326.04h0M242.72 328.91h0M242.13 331.77h0M241.54 334.64h0M240.93 337.5h0M240.31 340.37h0M239.7 343.23h0M239.08 346.1h0M238.46 348.96h0M237.9 351.83h0M237.41 354.69h0M236.91 357.56h0M236.42 360.42h0M235.93 363.29h0M235.43 366.15h0M234.94 369.02h0M234.44 371.88h0M234.11 374.75h0M233.77 377.61h0M233.43 380.48h0M233.09 383.34h0M232.75 386.21h0M232.42 389.07h0M232.08 391.94h0M231.74 394.8h0M231.4 397.67h0M231.07 400.54h0M230.73 403.4h0M230.39 406.27h0M230.1 409.13h0M229.86 412h0M229.62 414.86h0M229.38 417.73h0M229.15 420.59h0M228.91 423.46h0M228.67 426.32h0M228.43 429.19h0M228.19 432.05h0M227.95 434.92h0M227.71 437.78h0M227.47 440.65h0M227.23 443.51h0M227 446.38h0M226.76 449.24h0M226.52 452.11h0M226.28 454.97h0M226.04 457.84h0M225.8 460.7h0M225.56 463.57h0M225.32 466.43h0M225.08 469.3h0M224.85 472.16h0M224.61 475.03h0M224.37 477.89h0M224.08 480.76h0M223.74 483.62h0M223.4 486.49h0M223.07 489.35h0M222.73 492.22h0M222.39 495.08h0M222.05 497.95h0M221.71 500.81h0M221.38 503.68h0M221.04 506.54h0M220.7 509.41h0M220.36 512.27h0M220.03 515.14h0M219.64 518h0M219.25 520.87h0M218.86 523.73h0M218.48 526.6h0M218.09 529.46h0M217.7 532.33h0M217.32 535.19h0M216.93 538.06h0M216.54 540.92h0M216.15 543.79h0M215.77 546.65h0M215.38 549.52h0M214.94 552.38h0M214.46 555.25h0M213.97 558.11h0M213.48 560.98h0M213 563.84h0M212.51 566.71h0M212.03 569.57h0M211.54 572.44h0M211.05 575.3h0M210.57 578.17h0M210.08 581.03h0M209.6 583.9h0M209.11 586.76h0" style="fill:none;stroke:#00ffff;stroke-width:4.8;stroke-linecap:round"/></g></g><g id="line2d_45"><path d="M 346.03 13.75 L 345.95 33.81 L 345.68 76.78 L 345.59 85.38 L 345.19 96.84 L 344.65 102.57 L 343.61 108.3 L 342.23 111.16 L 326.49 131.22 L 322.38 136.95 L 318.33 142.68 L 308.49 157 L 303.31 165.6 L 296.12 177.06 L 287.66 194.25 L 286.54 197.12 L 279.89 217.17 L 273.79 237.23 L 262.11 274.47 L 258.42 285.93 L 252.24 300.26 L 248.65 314.58 L 243.96 328.91 L 238.64 354.69 L 235.68 371.88 L 231.34 409.13 L 225.31 480.76 L 220.49 520.87 L 216.18 552.38 L 210.35 586.76 L 210.35 586.76 " clip-path="url(#pdf5bd7e26a)" style="fill: none; stroke: #00ffff; stroke-width: 2; stroke-linecap: square"/><g clip-path="url(#pdf5bd7e26a)"><path d="M346.03 13.75h0M346.03 16.62h0M346.03 19.48h0M346.03 22.35h0M346.02 25.21h0M346 28.08h0M345.97 30.94h0M345.95 33.81h0M345.92 36.67h0M345.9 39.54h0M345.87 42.4h0M345.85 45.27h0M345.82 48.13h0M345.8 51h0M345.78 53.86h0M345.77 56.73h0M345.76 59.59h0M345.74 62.46h0M345.73 65.32h0M345.72 68.19h0M345.71 71.05h0M345.69 73.92h0M345.68 76.78h0M345.67 79.65h0M345.64 82.51h0M345.59 85.38h0M345.52 88.24h0M345.44 91.11h0M345.37 93.97h0M345.19 96.84h0M344.92 99.7h0M344.65 102.57h0M344.13 105.43h0M343.61 108.3h0M342.23 111.16h0M339.98 114.03h0M337.73 116.89h0M335.48 119.76h0M333.23 122.62h0M330.98 125.49h0M328.73 128.35h0M326.49 131.22h0M324.5 134.08h0M322.38 136.95h0M320.3 139.81h0M318.33 142.68h0M316.36 145.54h0M314.4 148.41h0M312.43 151.27h0M310.46 154.14h0M308.49 157h0M306.79 159.87h0M305.1 162.74h0M303.31 165.6h0M301.48 168.47h0M299.65 171.33h0M297.82 174.2h0M296.12 177.06h0M294.71 179.93h0M293.3 182.79h0M291.89 185.66h0M290.48 188.52h0M289.07 191.39h0M287.66 194.25h0M286.54 197.12h0M285.57 199.98h0M284.61 202.85h0M283.64 205.71h0M282.68 208.58h0M281.71 211.44h0M280.75 214.31h0M279.89 217.17h0M279.03 220.04h0M278.18 222.9h0M277.32 225.77h0M276.46 228.63h0M275.57 231.5h0M274.68 234.36h0M273.79 237.23h0M272.9 240.09h0M272.01 242.96h0M271.12 245.82h0M270.23 248.69h0M269.34 251.55h0M268.45 254.42h0M267.56 257.28h0M266.67 260.15h0M265.78 263.01h0M264.88 265.88h0M263.95 268.74h0M263.03 271.61h0M262.11 274.47h0M261.19 277.34h0M260.26 280.2h0M259.34 283.07h0M258.42 285.93h0M257.18 288.8h0M255.95 291.66h0M254.71 294.53h0M253.47 297.39h0M252.24 300.26h0M251.52 303.12h0M250.81 305.99h0M250.09 308.85h0M249.37 311.72h0M248.65 314.58h0M247.72 317.45h0M246.78 320.31h0M245.84 323.18h0M244.9 326.04h0M243.96 328.91h0M243.37 331.77h0M242.77 334.64h0M242.17 337.5h0M241.55 340.37h0M240.93 343.23h0M240.31 346.1h0M239.7 348.96h0M239.14 351.83h0M238.64 354.69h0M238.15 357.56h0M237.66 360.42h0M237.16 363.29h0M236.67 366.15h0M236.17 369.02h0M235.68 371.88h0M235.34 374.75h0M235 377.61h0M234.67 380.48h0M234.33 383.34h0M233.99 386.21h0M233.65 389.07h0M233.31 391.94h0M232.98 394.8h0M232.64 397.67h0M232.3 400.54h0M231.96 403.4h0M231.63 406.27h0M231.34 409.13h0M231.1 412h0M230.86 414.86h0M230.62 417.73h0M230.38 420.59h0M230.14 423.46h0M229.9 426.32h0M229.66 429.19h0M229.43 432.05h0M229.19 434.92h0M228.95 437.78h0M228.71 440.65h0M228.47 443.51h0M228.23 446.38h0M227.99 449.24h0M227.75 452.11h0M227.51 454.97h0M227.28 457.84h0M227.04 460.7h0M226.8 463.57h0M226.56 466.43h0M226.32 469.3h0M226.08 472.16h0M225.84 475.03h0M225.6 477.89h0M225.31 480.76h0M224.98 483.62h0M224.64 486.49h0M224.3 489.35h0M223.96 492.22h0M223.63 495.08h0M223.29 497.95h0M222.95 500.81h0M222.61 503.68h0M222.27 506.54h0M221.94 509.41h0M221.6 512.27h0M221.26 515.14h0M220.87 518h0M220.49 520.87h0M220.1 523.73h0M219.71 526.6h0M219.33 529.46h0M218.94 532.33h0M218.55 535.19h0M218.16 538.06h0M217.78 540.92h0M217.39 543.79h0M217 546.65h0M216.62 549.52h0M216.18 552.38h0M215.69 555.25h0M215.21 558.11h0M214.72 560.98h0M214.23 563.84h0M213.75 566.71h0M213.26 569.57h0M212.78 572.44h0M212.29 575.3h0M211.8 578.17h0M211.32 581.03h0M210.83 583.9h0M210.35 586.76h0" style="fill:none;stroke:#00ffff;stroke-width:4.8;stroke-linecap:round"/></g></g><g id="FillBetweenPolyCollection_1"><defs><path id="m012cafd486" d="M 343.73 -658.73 L 338.69 -658.73 L 338.68 -655.86 L 338.66 -653 L 338.64 -650.13 L 338.62 -647.27 L 338.6 -644.4 L 338.58 -641.54 L 338.56 -638.67 L 338.54 -635.81 L 338.52 -632.94 L 338.5 -630.08 L 338.48 -627.21 L 338.46 -624.35 L 338.44 -621.48 L 338.42 -618.62 L 338.4 -615.75 L 338.38 -612.89 L 338.36 -610.02 L 338.34 -607.16 L 338.32 -604.29 L 338.3 -601.43 L 338.28 -598.56 L 338.26 -595.7 L 338.24 -592.83 L 338.22 -589.97 L 338.2 -587.1 L 337.45 -584.24 L 336.7 -581.37 L 335.94 -578.51 L 335.19 -575.64 L 334.44 -572.78 L 332.95 -569.91 L 331.52 -567.05 L 330.08 -564.18 L 328.65 -561.32 L 327.22 -558.45 L 325.12 -555.59 L 323.02 -552.72 L 320.92 -549.86 L 318.83 -546.99 L 316.73 -544.13 L 314.63 -541.26 L 312.53 -538.4 L 310.43 -535.53 L 308.33 -532.67 L 306.23 -529.8 L 304.73 -526.94 L 303.22 -524.07 L 301.72 -521.21 L 300.21 -518.34 L 298.7 -515.48 L 297.38 -512.61 L 296.06 -509.74 L 294.74 -506.88 L 293.41 -504.01 L 292.09 -501.15 L 290.77 -498.28 L 289.45 -495.42 L 288.12 -492.55 L 286.8 -489.69 L 285.48 -486.82 L 284.15 -483.96 L 282.83 -481.09 L 281.52 -478.23 L 280.22 -475.36 L 278.91 -472.5 L 277.61 -469.63 L 276.31 -466.77 L 275 -463.9 L 273.7 -461.04 L 272.4 -458.17 L 271.1 -455.31 L 269.79 -452.44 L 268.49 -449.58 L 267.19 -446.71 L 265.88 -443.85 L 265.05 -440.98 L 264.21 -438.12 L 263.37 -435.25 L 262.53 -432.39 L 261.69 -429.52 L 260.85 -426.66 L 260.02 -423.79 L 259.18 -420.93 L 258.34 -418.06 L 257.5 -415.2 L 256.66 -412.33 L 255.82 -409.47 L 254.99 -406.6 L 254.15 -403.74 L 253.31 -400.87 L 252.47 -398.01 L 251.63 -395.14 L 250.79 -392.28 L 249.96 -389.41 L 249.12 -386.55 L 248.28 -383.68 L 247.44 -380.82 L 246.6 -377.95 L 245.76 -375.09 L 244.93 -372.22 L 244.58 -369.36 L 244.24 -366.49 L 243.89 -363.63 L 243.55 -360.76 L 243.21 -357.9 L 242.86 -355.03 L 242.52 -352.17 L 242.17 -349.3 L 241.83 -346.44 L 241.49 -343.57 L 241.14 -340.71 L 240.8 -337.84 L 240.45 -334.98 L 240.11 -332.11 L 239.77 -329.25 L 239.42 -326.38 L 239.08 -323.52 L 238.73 -320.65 L 238.39 -317.79 L 238.05 -314.92 L 237.83 -312.06 L 237.61 -309.19 L 237.4 -306.33 L 237.18 -303.46 L 236.96 -300.6 L 236.67 -297.73 L 236.38 -294.87 L 236.09 -292 L 235.8 -289.14 L 235.51 -286.27 L 235.22 -283.41 L 234.93 -280.54 L 234.57 -277.68 L 234.15 -274.81 L 233.73 -271.94 L 233.31 -269.08 L 232.89 -266.21 L 232.47 -263.35 L 232.05 -260.48 L 231.63 -257.62 L 231.21 -254.75 L 230.79 -251.89 L 230.37 -249.02 L 229.95 -246.16 L 229.53 -243.29 L 229.11 -240.43 L 228.69 -237.56 L 228.27 -234.7 L 227.85 -231.83 L 227.43 -228.97 L 226.96 -226.1 L 226.48 -223.24 L 226.01 -220.37 L 225.53 -217.51 L 225.06 -214.64 L 224.58 -211.78 L 224.11 -208.91 L 223.64 -206.05 L 223.16 -203.18 L 222.69 -200.32 L 222.21 -197.45 L 221.74 -194.59 L 221.26 -191.72 L 220.79 -188.86 L 220.31 -185.99 L 219.84 -183.13 L 219.36 -180.26 L 218.89 -177.4 L 218.42 -174.53 L 217.94 -171.67 L 217.47 -168.8 L 216.99 -165.94 L 216.52 -163.07 L 216.04 -160.21 L 215.57 -157.34 L 215.06 -154.48 L 214.55 -151.61 L 214.04 -148.75 L 213.53 -145.88 L 213.02 -143.02 L 212.51 -140.15 L 212 -137.29 L 211.49 -134.42 L 210.99 -131.56 L 210.48 -128.69 L 209.97 -125.83 L 209.46 -122.96 L 208.95 -120.1 L 208.44 -117.23 L 207.93 -114.37 L 207.42 -111.5 L 206.91 -108.64 L 206.4 -105.77 L 205.89 -102.91 L 205.39 -100.04 L 204.88 -97.18 L 204.37 -94.31 L 203.86 -91.45 L 203.35 -88.58 L 202.84 -85.72 L 205 -85.72 L 205 -85.72 L 205.51 -88.58 L 206.02 -91.45 L 206.53 -94.31 L 207.04 -97.18 L 207.55 -100.04 L 208.05 -102.91 L 208.56 -105.77 L 209.07 -108.64 L 209.58 -111.5 L 210.09 -114.37 L 210.6 -117.23 L 211.11 -120.1 L 211.62 -122.96 L 212.13 -125.83 L 212.64 -128.69 L 213.15 -131.56 L 213.65 -134.42 L 214.16 -137.29 L 214.67 -140.15 L 215.18 -143.02 L 215.69 -145.88 L 216.2 -148.75 L 216.71 -151.61 L 217.22 -154.48 L 217.73 -157.34 L 218.2 -160.21 L 218.68 -163.07 L 219.15 -165.94 L 219.63 -168.8 L 220.1 -171.67 L 220.58 -174.53 L 221.05 -177.4 L 221.52 -180.26 L 222 -183.13 L 222.47 -185.99 L 222.95 -188.86 L 223.42 -191.72 L 223.9 -194.59 L 224.37 -197.45 L 224.85 -200.32 L 225.32 -203.18 L 225.8 -206.05 L 226.27 -208.91 L 226.74 -211.78 L 227.22 -214.64 L 227.69 -217.51 L 228.17 -220.37 L 228.64 -223.24 L 229.12 -226.1 L 229.59 -228.97 L 230.01 -231.83 L 230.43 -234.7 L 230.85 -237.56 L 231.27 -240.43 L 231.69 -243.29 L 232.11 -246.16 L 232.53 -249.02 L 232.95 -251.89 L 233.37 -254.75 L 233.79 -257.62 L 234.21 -260.48 L 234.63 -263.35 L 235.05 -266.21 L 235.47 -269.08 L 235.89 -271.94 L 236.31 -274.81 L 236.73 -277.68 L 237.22 -280.54 L 237.77 -283.41 L 238.32 -286.27 L 238.87 -289.14 L 239.42 -292 L 239.97 -294.87 L 240.52 -297.73 L 241.07 -300.6 L 241.54 -303.46 L 242.02 -306.33 L 242.49 -309.19 L 242.97 -312.06 L 243.45 -314.92 L 243.79 -317.79 L 244.14 -320.65 L 244.49 -323.52 L 244.84 -326.38 L 245.19 -329.25 L 245.53 -332.11 L 245.88 -334.98 L 246.23 -337.84 L 246.58 -340.71 L 246.93 -343.57 L 247.27 -346.44 L 247.62 -349.3 L 247.97 -352.17 L 248.32 -355.03 L 248.67 -357.9 L 249.01 -360.76 L 249.36 -363.63 L 249.71 -366.49 L 250.06 -369.36 L 250.41 -372.22 L 251.25 -375.09 L 252.09 -377.95 L 252.93 -380.82 L 253.78 -383.68 L 254.62 -386.55 L 255.46 -389.41 L 256.3 -392.28 L 257.15 -395.14 L 257.99 -398.01 L 258.83 -400.87 L 259.67 -403.74 L 260.51 -406.6 L 261.36 -409.47 L 262.2 -412.33 L 263.04 -415.2 L 263.88 -418.06 L 264.73 -420.93 L 265.57 -423.79 L 266.41 -426.66 L 267.25 -429.52 L 268.1 -432.39 L 268.94 -435.25 L 269.78 -438.12 L 270.62 -440.98 L 271.47 -443.85 L 272.77 -446.71 L 274.08 -449.58 L 275.39 -452.44 L 276.69 -455.31 L 278 -458.17 L 279.31 -461.04 L 280.61 -463.9 L 281.92 -466.77 L 283.23 -469.63 L 284.54 -472.5 L 285.84 -475.36 L 287.15 -478.23 L 288.47 -481.09 L 289.79 -483.96 L 291.12 -486.82 L 292.45 -489.69 L 293.77 -492.55 L 295.1 -495.42 L 296.43 -498.28 L 297.75 -501.15 L 299.08 -504.01 L 300.41 -506.88 L 301.73 -509.74 L 303.06 -512.61 L 304.39 -515.48 L 305.9 -518.34 L 307.41 -521.21 L 308.92 -524.07 L 310.43 -526.94 L 311.94 -529.8 L 314.04 -532.67 L 316.14 -535.53 L 318.24 -538.4 L 320.35 -541.26 L 322.45 -544.13 L 324.55 -546.99 L 326.66 -549.86 L 328.76 -552.72 L 330.86 -555.59 L 332.96 -558.45 L 334.4 -561.32 L 335.84 -564.18 L 337.27 -567.05 L 338.71 -569.91 L 340.08 -572.78 L 340.71 -575.64 L 341.34 -578.51 L 341.98 -581.37 L 342.61 -584.24 L 343.24 -587.1 L 343.26 -589.97 L 343.28 -592.83 L 343.3 -595.7 L 343.32 -598.56 L 343.34 -601.43 L 343.36 -604.29 L 343.38 -607.16 L 343.4 -610.02 L 343.42 -612.89 L 343.44 -615.75 L 343.46 -618.62 L 343.48 -621.48 L 343.5 -624.35 L 343.52 -627.21 L 343.54 -630.08 L 343.56 -632.94 L 343.58 -635.81 L 343.6 -638.67 L 343.62 -641.54 L 343.64 -644.4 L 343.66 -647.27 L 343.68 -650.13 L 343.7 -653 L 343.72 -655.86 L 343.73 -658.73 z "/></defs><g clip-path="url(#pdf5bd7e26a)"><use href="#m012cafd486" x="0.36" y="672.84" style="fill: #ff0000"/></g></g><g id="patch_3"><path d="M 63.72 586.76 L 63.72 13.75" style="fill: none; stroke: #000000; stroke-width: 0.8; stroke-linejoin: miter; stroke-linecap: square"/></g><g id="patch_4"><path d="M 352.44 586.76 L 352.44 13.75" style="fill: none; stroke: #000000; stroke-width: 0.8; stroke-linejoin: miter; stroke-linecap: square"/></g><g id="patch_5"><path d="M 63.72 586.44 L 352.58 586.44" style="fill: none; stroke: #000000; stroke-width: 0.8; stroke-linejoin: miter; stroke-linecap: square"/></g><g id="patch_6"><path d="M 63.72 14.04 L 352.58 14.04" style="fill: none; stroke: #000000; stroke-width: 0.8; stroke-linejoin: miter; stroke-linecap: square"/></g><g id="line2d_46"><path d="M 342.57 13.75 L 342.51 20.91 L 342.45 28.08 L 342.39 35.24 L 342.33 42.4 L 342.3 49.57 L 342.27 56.73 L 342.23 63.89 L 342.2 71.05 L 342.08 78.22 L 341.96 85.38 L 341.34 92.54 L 340.1 99.7 L 334.54 106.87 L 328.98 114.03 L 323.42 121.19 L 318.48 128.35 L 314.15 135.52 L 309.83 142.68 L 305.5 149.84 L 301.79 157 L 297.78 164.17 L 293.76 171.33 L 290.67 178.49 L 287.58 185.66 L 284.49 192.82 L 282.39 199.98 L 280.29 207.14 L 278.19 214.31 L 276.09 221.47 L 273.99 228.63 L 271.76 235.79 L 269.54 242.96 L 267.32 250.12 L 265.09 257.28 L 262.87 264.44 L 260.56 271.61 L 258.25 278.77 L 255.95 285.93 L 252.86 293.1 L 249.77 300.26 L 247.98 307.42 L 246.18 314.58 L 243.84 321.75 L 241.49 328.91 L 240 336.07 L 238.46 343.23 L 236.91 350.4 L 235.68 357.56 L 234.44 364.72 L 233.21 371.88 L 232.34 379.05 L 231.48 386.21 L 230.61 393.37 L 229.75 400.54 L 228.88 407.7 L 228.26 414.86 L 227.65 422.02 L 227.03 429.19 L 226.41 436.35 L 225.79 443.51 L 225.17 450.67 L 224.56 457.84 L 223.94 465 L 223.32 472.16 L 222.7 479.32 L 221.84 486.49 L 220.97 493.65 L 220.11 500.81 L 219.24 507.97 L 218.38 515.14 L 217.39 522.3 L 216.4 529.46 L 215.41 536.63 L 214.42 543.79 L 213.43 550.95 L 212.2 558.11 L 210.96 565.28 L 209.73 572.44 L 208.49 579.6 L 207.26 586.76 " clip-path="url(#pdf5bd7e26a)" style="fill: none; stroke: #0000ff; stroke-width: 2; stroke-linecap: square"/><defs><path id="m5e9c58046e" d="M 0 3.8 C 1.01 3.8 1.97 3.4 2.69 2.69 C 3.4 1.97 3.8 1.01 3.8 0 C 3.8 -1.01 3.4 -1.97 2.69 -2.69 C 1.97 -3.4 1.01 -3.8 0 -3.8 C -1.01 -3.8 -1.97 -3.4 -2.69 -2.69 C -3.4 -1.97 -3.8 -1.01 -3.8 0 C -3.8 1.01 -3.4 1.97 -2.69 2.69 C -1.97 3.4 -1.01 3.8 0 3.8 z " style="stroke: #0000ff"/></defs><g clip-path="url(#pdf5bd7e26a)"><path d="M342.57 13.75h0M342.51 20.91h0M342.45 28.08h0M342.39 35.24h0M342.33 42.4h0M342.3 49.57h0M342.27 56.73h0M342.23 63.89h0M342.2 71.05h0M342.08 78.22h0M341.96 85.38h0M341.34 92.54h0M340.1 99.7h0M334.54 106.87h0M328.98 114.03h0M323.42 121.19h0M318.48 128.35h0M314.15 135.52h0M309.83 142.68h0M305.5 149.84h0M301.79 157h0M297.78 164.17h0M293.76 171.33h0M290.67 178.49h0M287.58 185.66h0M284.49 192.82h0M282.39 199.98h0M280.29 207.14h0M278.19 214.31h0M276.09 221.47h0M273.99 228.63h0M271.76 235.79h0M269.54 242.96h0M267.32 250.12h0M265.09 257.28h0M262.87 264.44h0M260.56 271.61h0M258.25 278.77h0M255.95 285.93h0M252.86 293.1h0M249.77 300.26h0M247.98 307.42h0M246.18 314.58h0M243.84 321.75h0M241.49 328.91h0M240 336.07h0M238.46 343.23h0M236.91 350.4h0M235.68 357.56h0M234.44 364.72h0M233.21 371.88h0M232.34 379.05h0M231.48 386.21h0M230.61 393.37h0M229.75 400.54h0M228.88 407.7h0M228.26 414.86h0M227.65 422.02h0M227.03 429.19h0M226.41 436.35h0M225.79 443.51h0M225.17 450.67h0M224.56 457.84h0M223.94 465h0M223.32 472.16h0M222.7 479.32h0M221.84 486.49h0M220.97 493.65h0M220.11 500.81h0M219.24 507.97h0M218.38 515.14h0M217.39 522.3h0M216.4 529.46h0M215.41 536.63h0M214.42 543.79h0M213.43 550.95h0M212.2 558.11h0M210.96 565.28h0M209.73 572.44h0M208.49 579.6h0M207.26 586.76h0" style="fill:none;stroke:#0000ff;stroke-width:8.6;stroke-linecap:round"/></g></g><g id="line2d_47"><path d="M 341.21 13.75 L 341.2 16.62 L 341.18 19.48 L 341.16 22.35 L 341.14 25.21 L 341.12 28.08 L 341.1 30.94 L 341.07 35.24 L 341.02 42.4 L 340.97 49.57 L 340.92 56.73 L 340.87 63.89 L 340.82 71.05 L 340.77 78.22 L 340.72 85.38 L 337.26 99.7 L 330.09 114.03 L 319.59 128.35 L 309.08 142.68 L 301.55 157 L 284.99 192.82 L 268.67 228.63 L 247.67 300.26 L 239.02 371.88 L 228.51 443.51 L 216.65 515.14 L 203.92 586.76 L 193.22 673.48 " clip-path="url(#pdf5bd7e26a)" style="fill: none; stroke: #ff0000; stroke-width: 2; stroke-linecap: square"/><defs><path id="m0191178d98" d="M 0 3.8 C 1.01 3.8 1.97 3.4 2.69 2.69 C 3.4 1.97 3.8 1.01 3.8 0 C 3.8 -1.01 3.4 -1.97 2.69 -2.69 C 1.97 -3.4 1.01 -3.8 0 -3.8 C -1.01 -3.8 -1.97 -3.4 -2.69 -2.69 C -3.4 -1.97 -3.8 -1.01 -3.8 0 C -3.8 1.01 -3.4 1.97 -2.69 2.69 C -1.97 3.4 -1.01 3.8 0 3.8 z " style="stroke: #ff0000"/></defs><g clip-path="url(#pdf5bd7e26a)"><path d="M341.21 13.75h0M341.2 16.62h0M341.18 19.48h0M341.16 22.35h0M341.14 25.21h0M341.12 28.08h0M341.1 30.94h0M341.07 35.24h0M341.02 42.4h0M340.97 49.57h0M340.92 56.73h0M340.87 63.89h0M340.82 71.05h0M340.77 78.22h0M340.72 85.38h0M337.26 99.7h0M330.09 114.03h0M319.59 128.35h0M309.08 142.68h0M301.55 157h0M284.99 192.82h0M268.67 228.63h0M247.67 300.26h0M239.02 371.88h0M228.51 443.51h0M216.65 515.14h0M203.92 586.76h0M186.25 730.02h0" style="fill:none;stroke:#ff0000;stroke-width:8.6;stroke-linecap:round"/></g></g><g id="line2d_48"><path d="M 337.26 13.75 L 337.21 16.62 L 337.16 19.48 L 337.11 22.35 L 337.06 25.21 L 337.01 28.08 L 336.96 30.94 L 336.89 35.24 L 336.77 42.4 L 336.02 49.57 L 335.65 56.73 L 335.28 63.89 L 334.91 71.05 L 334.54 78.22 L 333.68 85.38 L 324.9 99.7 L 311.8 114.03 L 298.7 128.35 L 286.96 142.68 L 278.44 157 L 263.24 192.82 L 252.11 228.63 L 240.25 300.26 L 230.61 371.88 L 221.59 443.51 L 214.92 515.14 L 210.35 586.76 L 203.24 673.48 " clip-path="url(#pdf5bd7e26a)" style="fill: none; stroke: #008000; stroke-width: 2; stroke-linecap: square"/><defs><path id="m16afb9689b" d="M 0 3.8 C 1.01 3.8 1.97 3.4 2.69 2.69 C 3.4 1.97 3.8 1.01 3.8 0 C 3.8 -1.01 3.4 -1.97 2.69 -2.69 C 1.97 -3.4 1.01 -3.8 0 -3.8 C -1.01 -3.8 -1.97 -3.4 -2.69 -2.69 C -3.4 -1.97 -3.8 -1.01 -3.8 0 C -3.8 1.01 -3.4 1.97 -2.69 2.69 C -1.97 3.4 -1.01 3.8 0 3.8 z " style="stroke: #008000"/></defs><g clip-path="url(#pdf5bd7e26a)"><path d="M337.26 13.75h0M337.21 16.62h0M337.16 19.48h0M337.11 22.35h0M337.06 25.21h0M337.01 28.08h0M336.96 30.94h0M336.89 35.24h0M336.77 42.4h0M336.02 49.57h0M335.65 56.73h0M335.28 63.89h0M334.91 71.05h0M334.54 78.22h0M333.68 85.38h0M324.9 99.7h0M311.8 114.03h0M298.7 128.35h0M286.96 142.68h0M278.44 157h0M263.24 192.82h0M252.11 228.63h0M240.25 300.26h0M230.61 371.88h0M221.59 443.51h0M214.92 515.14h0M210.35 586.76h0M198.61 730.02h0" style="fill:none;stroke:#008000;stroke-width:8.6;stroke-linecap:round"/></g></g><g id="line2d_49"><path d="M 346.52 14.46 L 346.51 15.96 L 346.5 17.54 L 346.49 19.22 L 346.48 21.03 L 346.47 22.98 L 346.46 25.11 L 346.44 27.47 L 346.42 30.09 L 346.4 33.04 L 346.38 36.4 L 346.36 40.25 L 346.33 44.69 L 346.3 49.87 L 346.26 55.93 L 346.21 63.08 L 346.15 71.55 L 345.91 81.62 L 345.79 93.64 L 340.35 108.02 L 322.18 125.28 L 306.49 146.01 L 291.91 170.94 L 280.79 200.93 L 268.92 237.01 L 255.95 280.38 L 242.48 332.45 L 230.98 394.86 L 220.11 469.48 L 211.33 558.42 L 203.55 664.03 " clip-path="url(#pdf5bd7e26a)" style="fill: none; stroke: #ff00ff; stroke-width: 2; stroke-linecap: square"/><defs><path id="m396e9d902f" d="M 0 3.8 C 1.01 3.8 1.97 3.4 2.69 2.69 C 3.4 1.97 3.8 1.01 3.8 0 C 3.8 -1.01 3.4 -1.97 2.69 -2.69 C 1.97 -3.4 1.01 -3.8 0 -3.8 C -1.01 -3.8 -1.97 -3.4 -2.69 -2.69 C -3.4 -1.97 -3.8 -1.01 -3.8 0 C -3.8 1.01 -3.4 1.97 -2.69 2.69 C -1.97 3.4 -1.01 3.8 0 3.8 z " style="stroke: #ff00ff"/></defs><g clip-path="url(#pdf5bd7e26a)"><path d="M346.52 14.46h0M346.51 15.96h0M346.5 17.54h0M346.49 19.22h0M346.48 21.03h0M346.47 22.98h0M346.46 25.11h0M346.44 27.47h0M346.42 30.09h0M346.4 33.04h0M346.38 36.4h0M346.36 40.25h0M346.33 44.69h0M346.3 49.87h0M346.26 55.93h0M346.21 63.08h0M346.15 71.55h0M345.91 81.62h0M345.79 93.64h0M340.35 108.02h0M322.18 125.28h0M306.49 146.01h0M291.91 170.94h0M280.79 200.93h0M268.92 237.01h0M255.95 280.38h0M242.48 332.45h0M230.98 394.86h0M220.11 469.48h0M211.33 558.42h0M203.55 664.03h0" style="fill:none;stroke:#ff00ff;stroke-width:8.6;stroke-linecap:round"/></g></g></g><g id="axes_2"><g id="patch_7"><path d="M 418.03 586.76 L 707.18 586.76 L 707.18 13.75 L 418.03 13.75 z " style="fill: #ffffff"/></g><g id="matplotlib.axis_3"><g id="xtick_5"><g id="line2d_50"><path d="M 438.84 586.76 L 438.84 13.75" clip-path="url(#pc8701a8b06)" style="fill: none; stroke-dasharray: 2.22,0.96; stroke-dashoffset: 0; stroke: #b0b0b0; stroke-width: 0.6"/></g><g id="line2d_51"><g><use href="#m469b586308" x="438.84" y="586.44" style="stroke: #000000; stroke-width: 0.8"/></g></g><g id="text_23"><text style="font-size: 12.6px; font-family: 'DejaVu Sans', 'Liberation Sans', sans-serif; text-anchor: middle" x="438.79" y="606.04" transform="rotate(-0 438.79 606.04)">35.0</text></g></g><g id="xtick_6"><g id="line2d_52"><path d="M 500.76 586.76 L 500.76 13.75" clip-path="url(#pc8701a8b06)" style="fill: none; stroke-dasharray: 2.22,0.96; stroke-dashoffset: 0; stroke: #b0b0b0; stroke-width: 0.6"/></g><g id="line2d_53"><g><use href="#m469b586308" x="500.76" y="586.44" style="stroke: #000000; stroke-width: 0.8"/></g></g><g id="text_24"><text style="font-size: 12.6px; font-family: 'DejaVu Sans', 'Liberation Sans', sans-serif; text-anchor: middle" x="500.58" y="606.04" transform="rotate(-0 500.58 606.04)">35.5</text></g></g><g id="xtick_7"><g id="line2d_54"><path d="M 562.68 586.76 L 562.68 13.75" clip-path="url(#pc8701a8b06)" style="fill: none; stroke-dasharray: 2.22,0.96; stroke-dashoffset: 0; stroke: #b0b0b0; stroke-width: 0.6"/></g><g id="line2d_55"><g><use href="#m469b586308" x="562.68" y="586.44" style="stroke: #000000; stroke-width: 0.8"/></g></g><g id="text_25"><text style="font-size: 12.6px; font-family: 'DejaVu Sans', 'Liberation Sans', sans-serif; text-anchor: middle" x="562.36" y="606.04" transform="rotate(-0 562.36 606.04)">36.0</text></g></g><g id="xtick_8"><g id="line2d_56"><path d="M 623.88 586.76 L 623.88 13.75" clip-path="url(#pc8701a8b06)" style="fill: none; stroke-dasharray: 2.22,0.96; stroke-dashoffset: 0; stroke: #b0b0b0; stroke-width: 0.6"/></g><g id="line2d_57"><g><use href="#m469b586308" x="623.88" y="586.44" style="stroke: #000000; stroke-width: 0.8"/></g></g><g id="text_26"><text style="font-size: 12.6px; font-family: 'DejaVu Sans', 'Liberation Sans', sans-serif; text-anchor: middle" x="624.15" y="606.04" transform="rotate(-0 624.15 606.04)">36.5</text></g></g><g id="xtick_9"><g id="line2d_58"><path d="M 685.8 586.76 L 685.8 13.75" clip-path="url(#pc8701a8b06)" style="fill: none; stroke-dasharray: 2.22,0.96; stroke-dashoffset: 0; stroke: #b0b0b0; stroke-width: 0.6"/></g><g id="line2d_59"><g><use href="#m469b586308" x="685.8" y="586.44" style="stroke: #000000; stroke-width: 0.8"/></g></g><g id="text_27"><text style="font-size: 12.6px; font-family: 'DejaVu Sans', 'Liberation Sans', sans-serif; text-anchor: middle" x="685.93" y="606.04" transform="rotate(-0 685.93 606.04)">37.0</text></g></g><g id="text_28"><text style="font-weight: 700; font-size: 16.3px; font-family: 'DejaVu Sans', 'Liberation Sans', sans-serif; text-anchor: middle" x="562.61" y="626.6" transform="rotate(-0 562.61 626.6)">Salinity</text></g></g><g id="matplotlib.axis_4"><g id="ytick_17"><g id="line2d_60"><path d="M 418.03 14.04 L 707.18 14.04" clip-path="url(#pc8701a8b06)" style="fill: none; stroke-dasharray: 2.22,0.96; stroke-dashoffset: 0; stroke: #b0b0b0; stroke-width: 0.6"/></g><g id="line2d_61"><g><use href="#ma31aeadfb0" x="417.96" y="14.04" style="stroke: #000000; stroke-width: 0.8"/></g></g></g><g id="ytick_18"><g id="line2d_62"><path d="M 418.03 49.32 L 707.18 49.32" clip-path="url(#pc8701a8b06)" style="fill: none; stroke-dasharray: 2.22,0.96; stroke-dashoffset: 0; stroke: #b0b0b0; stroke-width: 0.6"/></g><g id="line2d_63"><g><use href="#ma31aeadfb0" x="417.96" y="49.32" style="stroke: #000000; stroke-width: 0.8"/></g></g></g><g id="ytick_19"><g id="line2d_64"><path d="M 418.03 85.32 L 707.18 85.32" clip-path="url(#pc8701a8b06)" style="fill: none; stroke-dasharray: 2.22,0.96; stroke-dashoffset: 0; stroke: #b0b0b0; stroke-width: 0.6"/></g><g id="line2d_65"><g><use href="#ma31aeadfb0" x="417.96" y="85.32" style="stroke: #000000; stroke-width: 0.8"/></g></g></g><g id="ytick_20"><g id="line2d_66"><path d="M 418.03 121.32 L 707.18 121.32" clip-path="url(#pc8701a8b06)" style="fill: none; stroke-dasharray: 2.22,0.96; stroke-dashoffset: 0; stroke: #b0b0b0; stroke-width: 0.6"/></g><g id="line2d_67"><g><use href="#ma31aeadfb0" x="417.96" y="121.32" style="stroke: #000000; stroke-width: 0.8"/></g></g></g><g id="ytick_21"><g id="line2d_68"><path d="M 418.03 157.32 L 707.18 157.32" clip-path="url(#pc8701a8b06)" style="fill: none; stroke-dasharray: 2.22,0.96; stroke-dashoffset: 0; stroke: #b0b0b0; stroke-width: 0.6"/></g><g id="line2d_69"><g><use href="#ma31aeadfb0" x="417.96" y="157.32" style="stroke: #000000; stroke-width: 0.8"/></g></g></g><g id="ytick_22"><g id="line2d_70"><path d="M 418.03 192.6 L 707.18 192.6" clip-path="url(#pc8701a8b06)" style="fill: none; stroke-dasharray: 2.22,0.96; stroke-dashoffset: 0; stroke: #b0b0b0; stroke-width: 0.6"/></g><g id="line2d_71"><g><use href="#ma31aeadfb0" x="417.96" y="192.6" style="stroke: #000000; stroke-width: 0.8"/></g></g></g><g id="ytick_23"><g id="line2d_72"><path d="M 418.03 228.6 L 707.18 228.6" clip-path="url(#pc8701a8b06)" style="fill: none; stroke-dasharray: 2.22,0.96; stroke-dashoffset: 0; stroke: #b0b0b0; stroke-width: 0.6"/></g><g id="line2d_73"><g><use href="#ma31aeadfb0" x="417.96" y="228.6" style="stroke: #000000; stroke-width: 0.8"/></g></g></g><g id="ytick_24"><g id="line2d_74"><path d="M 418.03 264.6 L 707.18 264.6" clip-path="url(#pc8701a8b06)" style="fill: none; stroke-dasharray: 2.22,0.96; stroke-dashoffset: 0; stroke: #b0b0b0; stroke-width: 0.6"/></g><g id="line2d_75"><g><use href="#ma31aeadfb0" x="417.96" y="264.6" style="stroke: #000000; stroke-width: 0.8"/></g></g></g><g id="ytick_25"><g id="line2d_76"><path d="M 418.03 300.6 L 707.18 300.6" clip-path="url(#pc8701a8b06)" style="fill: none; stroke-dasharray: 2.22,0.96; stroke-dashoffset: 0; stroke: #b0b0b0; stroke-width: 0.6"/></g><g id="line2d_77"><g><use href="#ma31aeadfb0" x="417.96" y="300.6" style="stroke: #000000; stroke-width: 0.8"/></g></g></g><g id="ytick_26"><g id="line2d_78"><path d="M 418.03 335.88 L 707.18 335.88" clip-path="url(#pc8701a8b06)" style="fill: none; stroke-dasharray: 2.22,0.96; stroke-dashoffset: 0; stroke: #b0b0b0; stroke-width: 0.6"/></g><g id="line2d_79"><g><use href="#ma31aeadfb0" x="417.96" y="335.88" style="stroke: #000000; stroke-width: 0.8"/></g></g></g><g id="ytick_27"><g id="line2d_80"><path d="M 418.03 371.88 L 707.18 371.88" clip-path="url(#pc8701a8b06)" style="fill: none; stroke-dasharray: 2.22,0.96; stroke-dashoffset: 0; stroke: #b0b0b0; stroke-width: 0.6"/></g><g id="line2d_81"><g><use href="#ma31aeadfb0" x="417.96" y="371.88" style="stroke: #000000; stroke-width: 0.8"/></g></g></g><g id="ytick_28"><g id="line2d_82"><path d="M 418.03 407.88 L 707.18 407.88" clip-path="url(#pc8701a8b06)" style="fill: none; stroke-dasharray: 2.22,0.96; stroke-dashoffset: 0; stroke: #b0b0b0; stroke-width: 0.6"/></g><g id="line2d_83"><g><use href="#ma31aeadfb0" x="417.96" y="407.88" style="stroke: #000000; stroke-width: 0.8"/></g></g></g><g id="ytick_29"><g id="line2d_84"><path d="M 418.03 443.16 L 707.18 443.16" clip-path="url(#pc8701a8b06)" style="fill: none; stroke-dasharray: 2.22,0.96; stroke-dashoffset: 0; stroke: #b0b0b0; stroke-width: 0.6"/></g><g id="line2d_85"><g><use href="#ma31aeadfb0" x="417.96" y="443.16" style="stroke: #000000; stroke-width: 0.8"/></g></g></g><g id="ytick_30"><g id="line2d_86"><path d="M 418.03 479.16 L 707.18 479.16" clip-path="url(#pc8701a8b06)" style="fill: none; stroke-dasharray: 2.22,0.96; stroke-dashoffset: 0; stroke: #b0b0b0; stroke-width: 0.6"/></g><g id="line2d_87"><g><use href="#ma31aeadfb0" x="417.96" y="479.16" style="stroke: #000000; stroke-width: 0.8"/></g></g></g><g id="ytick_31"><g id="line2d_88"><path d="M 418.03 515.16 L 707.18 515.16" clip-path="url(#pc8701a8b06)" style="fill: none; stroke-dasharray: 2.22,0.96; stroke-dashoffset: 0; stroke: #b0b0b0; stroke-width: 0.6"/></g><g id="line2d_89"><g><use href="#ma31aeadfb0" x="417.96" y="515.16" style="stroke: #000000; stroke-width: 0.8"/></g></g></g><g id="ytick_32"><g id="line2d_90"><path d="M 418.03 551.16 L 707.18 551.16" clip-path="url(#pc8701a8b06)" style="fill: none; stroke-dasharray: 2.22,0.96; stroke-dashoffset: 0; stroke: #b0b0b0; stroke-width: 0.6"/></g><g id="line2d_91"><g><use href="#ma31aeadfb0" x="417.96" y="551.16" style="stroke: #000000; stroke-width: 0.8"/></g></g></g></g><g id="line2d_92"><path d="M 616.92 13.75 L 617.28 45.27 L 617.67 65.32 L 618.26 76.78 L 619.66 79.65 L 622.29 82.51 L 627.23 85.38 L 631.64 88.24 L 636.38 91.11 L 641.45 93.97 L 650.95 99.7 L 654.1 102.57 L 657.18 108.3 L 661.35 114.03 L 662.65 116.89 L 664.75 128.35 L 667.63 136.95 L 671.77 151.27 L 674.34 165.6 L 674.63 168.47 L 675.09 191.39 L 673.08 228.63 L 669.52 263.01 L 669.05 265.88 L 661.22 300.26 L 648.99 337.5 L 640.21 371.88 L 633.62 409.13 L 627.93 449.24 L 624.21 477.89 L 623.62 480.76 L 602.72 555.25 L 594.49 586.76 L 594.49 586.76 " clip-path="url(#pc8701a8b06)" style="fill: none; stroke: #00ffff; stroke-width: 2; stroke-linecap: square"/><g clip-path="url(#pc8701a8b06)"><path d="M616.92 13.75h0M616.94 16.62h0M616.97 19.48h0M616.99 22.35h0M617.02 25.21h0M617.04 28.08h0M617.06 30.94h0M617.09 33.81h0M617.13 36.67h0M617.18 39.54h0M617.23 42.4h0M617.28 45.27h0M617.32 48.13h0M617.37 51h0M617.42 53.86h0M617.47 56.73h0M617.52 59.59h0M617.57 62.46h0M617.67 65.32h0M617.82 68.19h0M617.97 71.05h0M618.12 73.92h0M618.26 76.78h0M619.66 79.65h0M622.29 82.51h0M627.23 85.38h0M631.64 88.24h0M636.38 91.11h0M641.45 93.97h0M646.2 96.84h0M650.95 99.7h0M654.1 102.57h0M655.64 105.43h0M657.18 108.3h0M659.26 111.16h0M661.35 114.03h0M662.65 116.89h0M663.18 119.76h0M663.7 122.62h0M664.22 125.49h0M664.75 128.35h0M665.74 131.22h0M666.72 134.08h0M667.63 136.95h0M668.46 139.81h0M669.29 142.68h0M670.12 145.54h0M670.94 148.41h0M671.77 151.27h0M672.29 154.14h0M672.8 157h0M673.31 159.87h0M673.83 162.74h0M674.34 165.6h0M674.63 168.47h0M674.69 171.33h0M674.76 174.2h0M674.82 177.06h0M674.89 179.93h0M674.95 182.79h0M675.01 185.66h0M675.08 188.52h0M675.09 191.39h0M674.94 194.25h0M674.79 197.12h0M674.63 199.98h0M674.48 202.85h0M674.33 205.71h0M674.18 208.58h0M674.03 211.44h0M673.88 214.31h0M673.72 217.17h0M673.56 220.04h0M673.4 222.9h0M673.24 225.77h0M673.08 228.63h0M672.78 231.5h0M672.49 234.36h0M672.19 237.23h0M671.89 240.09h0M671.6 242.96h0M671.3 245.82h0M671 248.69h0M670.71 251.55h0M670.41 254.42h0M670.11 257.28h0M669.82 260.15h0M669.52 263.01h0M669.05 265.88h0M668.39 268.74h0M667.74 271.61h0M667.09 274.47h0M666.44 277.34h0M665.78 280.2h0M665.13 283.07h0M664.48 285.93h0M663.83 288.8h0M663.17 291.66h0M662.52 294.53h0M661.87 297.39h0M661.22 300.26h0M660.27 303.12h0M659.32 305.99h0M658.37 308.85h0M657.42 311.72h0M656.47 314.58h0M655.52 317.45h0M654.57 320.31h0M653.62 323.18h0M652.68 326.04h0M651.73 328.91h0M650.78 331.77h0M649.83 334.64h0M648.99 337.5h0M648.26 340.37h0M647.52 343.23h0M646.79 346.1h0M646.06 348.96h0M645.33 351.83h0M644.6 354.69h0M643.87 357.56h0M643.14 360.42h0M642.4 363.29h0M641.67 366.15h0M640.94 369.02h0M640.21 371.88h0M639.7 374.75h0M639.19 377.61h0M638.68 380.48h0M638.17 383.34h0M637.66 386.21h0M637.14 389.07h0M636.63 391.94h0M636.12 394.8h0M635.61 397.67h0M635.1 400.54h0M634.59 403.4h0M634.08 406.27h0M633.62 409.13h0M633.21 412h0M632.8 414.86h0M632.38 417.73h0M631.97 420.59h0M631.56 423.46h0M631.15 426.32h0M630.74 429.19h0M630.32 432.05h0M629.91 434.92h0M629.5 437.78h0M629.09 440.65h0M628.68 443.51h0M628.3 446.38h0M627.93 449.24h0M627.56 452.11h0M627.19 454.97h0M626.81 457.84h0M626.44 460.7h0M626.07 463.57h0M625.7 466.43h0M625.33 469.3h0M624.95 472.16h0M624.58 475.03h0M624.21 477.89h0M623.62 480.76h0M622.81 483.62h0M622 486.49h0M621.2 489.35h0M620.39 492.22h0M619.58 495.08h0M618.77 497.95h0M617.97 500.81h0M617.16 503.68h0M616.35 506.54h0M615.55 509.41h0M614.74 512.27h0M613.93 515.14h0M613.12 518h0M612.32 520.87h0M611.51 523.73h0M610.7 526.6h0M609.89 529.46h0M609.09 532.33h0M608.28 535.19h0M607.47 538.06h0M606.66 540.92h0M605.86 543.79h0M605.05 546.65h0M604.24 549.52h0M603.46 552.38h0M602.72 555.25h0M601.97 558.11h0M601.22 560.98h0M600.47 563.84h0M599.72 566.71h0M598.98 569.57h0M598.23 572.44h0M597.48 575.3h0M596.73 578.17h0M595.98 581.03h0M595.24 583.9h0M594.49 586.76h0" style="fill:none;stroke:#00ffff;stroke-width:4.8;stroke-linecap:round"/></g></g><g id="line2d_93"><path d="M 598.71 13.75 L 599.14 51 L 599.58 71.05 L 600.17 82.51 L 602.81 85.38 L 606.86 88.24 L 617.28 93.97 L 628.85 99.7 L 639.95 105.43 L 644.63 111.16 L 647.24 114.03 L 653.01 119.76 L 656.98 128.35 L 661.3 139.81 L 666.24 154.14 L 667.63 159.87 L 669.6 168.47 L 669.98 171.33 L 671.23 191.39 L 671.13 199.98 L 670.61 228.63 L 668.23 263.01 L 667.86 265.88 L 661.22 300.26 L 650.27 337.5 L 642.68 371.88 L 636.73 409.13 L 631.74 449.24 L 628.51 477.89 L 627.97 480.76 L 608.35 555.25 L 600.67 586.76 L 600.67 586.76 " clip-path="url(#pc8701a8b06)" style="fill: none; stroke: #00ffff; stroke-width: 2; stroke-linecap: square"/><g clip-path="url(#pc8701a8b06)"><path d="M598.71 13.75h0M598.74 16.62h0M598.76 19.48h0M598.79 22.35h0M598.81 25.21h0M598.84 28.08h0M598.86 30.94h0M598.89 33.81h0M598.91 36.67h0M598.94 39.54h0M598.99 42.4h0M599.04 45.27h0M599.09 48.13h0M599.14 51h0M599.18 53.86h0M599.23 56.73h0M599.28 59.59h0M599.33 62.46h0M599.38 65.32h0M599.43 68.19h0M599.58 71.05h0M599.73 73.92h0M599.88 76.78h0M600.02 79.65h0M600.17 82.51h0M602.81 85.38h0M606.86 88.24h0M612.07 91.11h0M617.28 93.97h0M623.14 96.84h0M628.85 99.7h0M634.4 102.57h0M639.95 105.43h0M642.29 108.3h0M644.63 111.16h0M647.24 114.03h0M650.13 116.89h0M653.01 119.76h0M654.33 122.62h0M655.66 125.49h0M656.98 128.35h0M658.07 131.22h0M659.17 134.08h0M660.24 136.95h0M661.3 139.81h0M662.29 142.68h0M663.28 145.54h0M664.27 148.41h0M665.26 151.27h0M666.24 154.14h0M666.98 157h0M667.63 159.87h0M668.29 162.74h0M668.94 165.6h0M669.6 168.47h0M669.98 171.33h0M670.16 174.2h0M670.34 177.06h0M670.52 179.93h0M670.7 182.79h0M670.87 185.66h0M671.05 188.52h0M671.23 191.39h0M671.23 194.25h0M671.18 197.12h0M671.13 199.98h0M671.08 202.85h0M671.03 205.71h0M670.98 208.58h0M670.93 211.44h0M670.88 214.31h0M670.82 217.17h0M670.77 220.04h0M670.71 222.9h0M670.66 225.77h0M670.61 228.63h0M670.41 231.5h0M670.21 234.36h0M670.01 237.23h0M669.82 240.09h0M669.62 242.96h0M669.42 245.82h0M669.22 248.69h0M669.03 251.55h0M668.83 254.42h0M668.63 257.28h0M668.43 260.15h0M668.23 263.01h0M667.86 265.88h0M667.31 268.74h0M666.75 271.61h0M666.2 274.47h0M665.64 277.34h0M665.09 280.2h0M664.54 283.07h0M663.98 285.93h0M663.43 288.8h0M662.88 291.66h0M662.32 294.53h0M661.77 297.39h0M661.22 300.26h0M660.37 303.12h0M659.52 305.99h0M658.67 308.85h0M657.82 311.72h0M656.97 314.58h0M656.12 317.45h0M655.27 320.31h0M654.41 323.18h0M653.56 326.04h0M652.71 328.91h0M651.86 331.77h0M651.01 334.64h0M650.27 337.5h0M649.64 340.37h0M649.01 343.23h0M648.37 346.1h0M647.74 348.96h0M647.11 351.83h0M646.48 354.69h0M645.84 357.56h0M645.21 360.42h0M644.58 363.29h0M643.95 366.15h0M643.31 369.02h0M642.68 371.88h0M642.22 374.75h0M641.76 377.61h0M641.3 380.48h0M640.84 383.34h0M640.37 386.21h0M639.91 389.07h0M639.45 391.94h0M638.99 394.8h0M638.53 397.67h0M638.07 400.54h0M637.61 403.4h0M637.14 406.27h0M636.73 409.13h0M636.37 412h0M636.01 414.86h0M635.65 417.73h0M635.28 420.59h0M634.92 423.46h0M634.56 426.32h0M634.2 429.19h0M633.83 432.05h0M633.47 434.92h0M633.11 437.78h0M632.75 440.65h0M632.38 443.51h0M632.06 446.38h0M631.74 449.24h0M631.41 452.11h0M631.09 454.97h0M630.77 457.84h0M630.45 460.7h0M630.12 463.57h0M629.8 466.43h0M629.48 469.3h0M629.15 472.16h0M628.83 475.03h0M628.51 477.89h0M627.97 480.76h0M627.21 483.62h0M626.45 486.49h0M625.69 489.35h0M624.94 492.22h0M624.18 495.08h0M623.42 497.95h0M622.66 500.81h0M621.9 503.68h0M621.15 506.54h0M620.39 509.41h0M619.63 512.27h0M618.87 515.14h0M618.12 518h0M617.36 520.87h0M616.6 523.73h0M615.84 526.6h0M615.08 529.46h0M614.33 532.33h0M613.57 535.19h0M612.81 538.06h0M612.05 540.92h0M611.29 543.79h0M610.54 546.65h0M609.78 549.52h0M609.05 552.38h0M608.35 555.25h0M607.65 558.11h0M606.95 560.98h0M606.26 563.84h0M605.56 566.71h0M604.86 569.57h0M604.16 572.44h0M603.46 575.3h0M602.76 578.17h0M602.06 581.03h0M601.37 583.9h0M600.67 586.76h0" style="fill:none;stroke:#00ffff;stroke-width:4.8;stroke-linecap:round"/></g></g><g id="line2d_94"><path d="M 597.95 13.75 L 598.39 53.86 L 598.84 73.92 L 599.43 85.38 L 602.46 88.24 L 606.65 91.11 L 617.32 96.84 L 629.16 102.57 L 640.53 108.3 L 645.47 114.03 L 648.22 116.89 L 654.25 122.62 L 657.16 128.35 L 663.86 145.54 L 668.1 157 L 671.67 171.33 L 673.2 191.39 L 673.3 194.25 L 673.08 228.63 L 670.71 263.01 L 670.33 265.88 L 663.69 300.26 L 652.74 337.5 L 645.15 371.88 L 639.42 409.13 L 634.65 449.24 L 631.59 477.89 L 631.07 480.76 L 611.88 555.25 L 604.37 586.76 L 604.37 586.76 " clip-path="url(#pc8701a8b06)" style="fill: none; stroke: #00ffff; stroke-width: 2; stroke-linecap: square"/><g clip-path="url(#pc8701a8b06)"><path d="M597.95 13.75h0M597.97 16.62h0M598 19.48h0M598.02 22.35h0M598.05 25.21h0M598.07 28.08h0M598.1 30.94h0M598.12 33.81h0M598.15 36.67h0M598.17 39.54h0M598.2 42.4h0M598.25 45.27h0M598.29 48.13h0M598.34 51h0M598.39 53.86h0M598.44 56.73h0M598.49 59.59h0M598.54 62.46h0M598.59 65.32h0M598.64 68.19h0M598.69 71.05h0M598.84 73.92h0M598.99 76.78h0M599.14 79.65h0M599.28 82.51h0M599.43 85.38h0M602.46 88.24h0M606.65 91.11h0M611.99 93.97h0M617.32 96.84h0M623.32 99.7h0M629.16 102.57h0M634.85 105.43h0M640.53 108.3h0M643 111.16h0M645.47 114.03h0M648.22 116.89h0M651.23 119.76h0M654.25 122.62h0M655.7 125.49h0M657.16 128.35h0M658.29 131.22h0M659.42 134.08h0M660.55 136.95h0M661.68 139.81h0M662.8 142.68h0M663.86 145.54h0M664.92 148.41h0M665.98 151.27h0M667.04 154.14h0M668.1 157h0M668.81 159.87h0M669.53 162.74h0M670.24 165.6h0M670.95 168.47h0M671.67 171.33h0M671.89 174.2h0M672.1 177.06h0M672.32 179.93h0M672.54 182.79h0M672.76 185.66h0M672.98 188.52h0M673.2 191.39h0M673.3 194.25h0M673.28 197.12h0M673.26 199.98h0M673.24 202.85h0M673.23 205.71h0M673.21 208.58h0M673.19 211.44h0M673.17 214.31h0M673.15 217.17h0M673.13 220.04h0M673.12 222.9h0M673.1 225.77h0M673.08 228.63h0M672.88 231.5h0M672.68 234.36h0M672.49 237.23h0M672.29 240.09h0M672.09 242.96h0M671.89 245.82h0M671.69 248.69h0M671.5 251.55h0M671.3 254.42h0M671.1 257.28h0M670.9 260.15h0M670.71 263.01h0M670.33 265.88h0M669.78 268.74h0M669.22 271.61h0M668.67 274.47h0M668.12 277.34h0M667.56 280.2h0M667.01 283.07h0M666.46 285.93h0M665.9 288.8h0M665.35 291.66h0M664.79 294.53h0M664.24 297.39h0M663.69 300.26h0M662.84 303.12h0M661.99 305.99h0M661.14 308.85h0M660.29 311.72h0M659.44 314.58h0M658.59 317.45h0M657.74 320.31h0M656.89 323.18h0M656.04 326.04h0M655.19 328.91h0M654.34 331.77h0M653.49 334.64h0M652.74 337.5h0M652.11 340.37h0M651.48 343.23h0M650.85 346.1h0M650.21 348.96h0M649.58 351.83h0M648.95 354.69h0M648.32 357.56h0M647.68 360.42h0M647.05 363.29h0M646.42 366.15h0M645.78 369.02h0M645.15 371.88h0M644.71 374.75h0M644.26 377.61h0M643.82 380.48h0M643.37 383.34h0M642.93 386.21h0M642.48 389.07h0M642.04 391.94h0M641.59 394.8h0M641.15 397.67h0M640.7 400.54h0M640.26 403.4h0M639.81 406.27h0M639.42 409.13h0M639.07 412h0M638.73 414.86h0M638.38 417.73h0M638.03 420.59h0M637.69 423.46h0M637.34 426.32h0M637 429.19h0M636.65 432.05h0M636.3 434.92h0M635.96 437.78h0M635.61 440.65h0M635.27 443.51h0M634.96 446.38h0M634.65 449.24h0M634.35 452.11h0M634.04 454.97h0M633.73 457.84h0M633.43 460.7h0M633.12 463.57h0M632.82 466.43h0M632.51 469.3h0M632.2 472.16h0M631.9 475.03h0M631.59 477.89h0M631.07 480.76h0M630.32 483.62h0M629.58 486.49h0M628.84 489.35h0M628.1 492.22h0M627.36 495.08h0M626.62 497.95h0M625.88 500.81h0M625.13 503.68h0M624.39 506.54h0M623.65 509.41h0M622.91 512.27h0M622.17 515.14h0M621.43 518h0M620.69 520.87h0M619.94 523.73h0M619.2 526.6h0M618.46 529.46h0M617.72 532.33h0M616.98 535.19h0M616.24 538.06h0M615.5 540.92h0M614.75 543.79h0M614.01 546.65h0M613.27 549.52h0M612.56 552.38h0M611.88 555.25h0M611.2 558.11h0M610.51 560.98h0M609.83 563.84h0M609.15 566.71h0M608.47 569.57h0M607.78 572.44h0M607.1 575.3h0M606.42 578.17h0M605.74 581.03h0M605.06 583.9h0M604.37 586.76h0" style="fill:none;stroke:#00ffff;stroke-width:4.8;stroke-linecap:round"/></g></g><g id="line2d_95"><path d="M 615 13.75 L 615.1 30.94 L 615.45 59.59 L 615.89 79.65 L 616.19 85.38 L 615.66 91.11 L 617.88 93.97 L 621.26 96.84 L 630.32 102.57 L 640.55 108.3 L 650.3 114.03 L 653.63 119.76 L 655.57 122.62 L 659.98 128.35 L 664.19 139.81 L 668.5 151.27 L 671.57 159.87 L 672.36 162.74 L 674.97 174.2 L 675.85 194.25 L 674.12 231.5 L 671.94 263.01 L 671.57 265.88 L 664.92 300.26 L 653.98 337.5 L 646.39 371.88 L 640.87 409.13 L 636.33 449.24 L 633.43 477.89 L 632.93 480.76 L 614.17 555.25 L 606.85 586.76 L 606.85 586.76 " clip-path="url(#pc8701a8b06)" style="fill: none; stroke: #00ffff; stroke-width: 2; stroke-linecap: square"/><g clip-path="url(#pc8701a8b06)"><path d="M615 13.75h0M615 16.62h0M615 19.48h0M615.03 22.35h0M615.05 25.21h0M615.08 28.08h0M615.1 30.94h0M615.12 33.81h0M615.15 36.67h0M615.17 39.54h0M615.2 42.4h0M615.22 45.27h0M615.25 48.13h0M615.3 51h0M615.35 53.86h0M615.4 56.73h0M615.45 59.59h0M615.5 62.46h0M615.55 65.32h0M615.59 68.19h0M615.64 71.05h0M615.69 73.92h0M615.74 76.78h0M615.89 79.65h0M616.04 82.51h0M616.19 85.38h0M615.92 88.24h0M615.66 91.11h0M617.88 93.97h0M621.26 96.84h0M625.79 99.7h0M630.32 102.57h0M635.51 105.43h0M640.55 108.3h0M645.42 111.16h0M650.3 114.03h0M651.97 116.89h0M653.63 119.76h0M655.57 122.62h0M657.77 125.49h0M659.98 128.35h0M661 131.22h0M662.03 134.08h0M663.09 136.95h0M664.19 139.81h0M665.29 142.68h0M666.39 145.54h0M667.47 148.41h0M668.5 151.27h0M669.52 154.14h0M670.55 157h0M671.57 159.87h0M672.36 162.74h0M673.01 165.6h0M673.67 168.47h0M674.32 171.33h0M674.97 174.2h0M675.11 177.06h0M675.23 179.93h0M675.35 182.79h0M675.48 185.66h0M675.6 188.52h0M675.73 191.39h0M675.85 194.25h0M675.72 197.12h0M675.59 199.98h0M675.46 202.85h0M675.33 205.71h0M675.2 208.58h0M675.07 211.44h0M674.94 214.31h0M674.81 217.17h0M674.69 220.04h0M674.56 222.9h0M674.44 225.77h0M674.31 228.63h0M674.12 231.5h0M673.92 234.36h0M673.72 237.23h0M673.52 240.09h0M673.33 242.96h0M673.13 245.82h0M672.93 248.69h0M672.73 251.55h0M672.54 254.42h0M672.34 257.28h0M672.14 260.15h0M671.94 263.01h0M671.57 265.88h0M671.01 268.74h0M670.46 271.61h0M669.91 274.47h0M669.35 277.34h0M668.8 280.2h0M668.24 283.07h0M667.69 285.93h0M667.14 288.8h0M666.58 291.66h0M666.03 294.53h0M665.48 297.39h0M664.92 300.26h0M664.07 303.12h0M663.22 305.99h0M662.37 308.85h0M661.52 311.72h0M660.67 314.58h0M659.82 317.45h0M658.97 320.31h0M658.12 323.18h0M657.27 326.04h0M656.42 328.91h0M655.57 331.77h0M654.72 334.64h0M653.98 337.5h0M653.35 340.37h0M652.71 343.23h0M652.08 346.1h0M651.45 348.96h0M650.82 351.83h0M650.18 354.69h0M649.55 357.56h0M648.92 360.42h0M648.29 363.29h0M647.65 366.15h0M647.02 369.02h0M646.39 371.88h0M645.96 374.75h0M645.53 377.61h0M645.1 380.48h0M644.67 383.34h0M644.25 386.21h0M643.82 389.07h0M643.39 391.94h0M642.96 394.8h0M642.53 397.67h0M642.1 400.54h0M641.68 403.4h0M641.25 406.27h0M640.87 409.13h0M640.54 412h0M640.21 414.86h0M639.88 417.73h0M639.55 420.59h0M639.22 423.46h0M638.89 426.32h0M638.56 429.19h0M638.23 432.05h0M637.9 434.92h0M637.57 437.78h0M637.24 440.65h0M636.91 443.51h0M636.62 446.38h0M636.33 449.24h0M636.04 452.11h0M635.75 454.97h0M635.46 457.84h0M635.17 460.7h0M634.88 463.57h0M634.59 466.43h0M634.3 469.3h0M634.01 472.16h0M633.72 475.03h0M633.43 477.89h0M632.93 480.76h0M632.2 483.62h0M631.48 486.49h0M630.75 489.35h0M630.03 492.22h0M629.3 495.08h0M628.58 497.95h0M627.85 500.81h0M627.13 503.68h0M626.4 506.54h0M625.68 509.41h0M624.95 512.27h0M624.23 515.14h0M623.5 518h0M622.78 520.87h0M622.05 523.73h0M621.33 526.6h0M620.6 529.46h0M619.88 532.33h0M619.15 535.19h0M618.43 538.06h0M617.7 540.92h0M616.98 543.79h0M616.25 546.65h0M615.53 549.52h0M614.83 552.38h0M614.17 555.25h0M613.5 558.11h0M612.84 560.98h0M612.17 563.84h0M611.51 566.71h0M610.84 569.57h0M610.17 572.44h0M609.51 575.3h0M608.84 578.17h0M608.18 581.03h0M607.51 583.9h0M606.85 586.76h0" style="fill:none;stroke:#00ffff;stroke-width:4.8;stroke-linecap:round"/></g></g><g id="line2d_96"><path d="M 597.08 13.75 L 597.17 33.81 L 597.5 62.46 L 597.9 82.51 L 598.05 85.38 L 599.85 93.97 L 601.7 96.84 L 604.79 99.7 L 615.58 105.43 L 621.3 108.3 L 627.36 111.16 L 638.84 116.89 L 642.98 119.76 L 648.04 125.49 L 651.11 128.35 L 653.85 131.22 L 655.81 134.08 L 658.38 139.81 L 664.88 154.14 L 668.59 162.74 L 670.39 168.47 L 672.08 174.2 L 672.76 177.06 L 674.5 194.25 L 674.64 199.98 L 674.93 228.63 L 672.71 263.01 L 672.34 265.88 L 665.85 300.26 L 655.07 337.5 L 647.62 371.88 L 642.1 409.13 L 637.57 449.24 L 634.67 477.89 L 634.16 480.76 L 615.4 555.25 L 608.08 586.76 L 608.08 586.76 " clip-path="url(#pc8701a8b06)" style="fill: none; stroke: #00ffff; stroke-width: 2; stroke-linecap: square"/><g clip-path="url(#pc8701a8b06)"><path d="M597.08 13.75h0M597.08 16.62h0M597.08 19.48h0M597.08 22.35h0M597.1 25.21h0M597.12 28.08h0M597.15 30.94h0M597.17 33.81h0M597.2 36.67h0M597.22 39.54h0M597.24 42.4h0M597.27 45.27h0M597.29 48.13h0M597.32 51h0M597.36 53.86h0M597.41 56.73h0M597.45 59.59h0M597.5 62.46h0M597.55 65.32h0M597.6 68.19h0M597.65 71.05h0M597.7 73.92h0M597.75 76.78h0M597.8 79.65h0M597.9 82.51h0M598.05 85.38h0M598.65 88.24h0M599.25 91.11h0M599.85 93.97h0M601.7 96.84h0M604.79 99.7h0M610.18 102.57h0M615.58 105.43h0M621.3 108.3h0M627.36 111.16h0M633.1 114.03h0M638.84 116.89h0M642.98 119.76h0M645.51 122.62h0M648.04 125.49h0M651.11 128.35h0M653.85 131.22h0M655.81 134.08h0M657.06 136.95h0M658.38 139.81h0M659.7 142.68h0M661.02 145.54h0M662.33 148.41h0M663.64 151.27h0M664.88 154.14h0M666.11 157h0M667.35 159.87h0M668.59 162.74h0M669.54 165.6h0M670.39 168.47h0M671.23 171.33h0M672.08 174.2h0M672.76 177.06h0M673.05 179.93h0M673.34 182.79h0M673.63 185.66h0M673.92 188.52h0M674.21 191.39h0M674.5 194.25h0M674.62 197.12h0M674.64 199.98h0M674.67 202.85h0M674.69 205.71h0M674.71 208.58h0M674.74 211.44h0M674.76 214.31h0M674.79 217.17h0M674.83 220.04h0M674.86 222.9h0M674.9 225.77h0M674.93 228.63h0M674.75 231.5h0M674.56 234.36h0M674.38 237.23h0M674.19 240.09h0M674.01 242.96h0M673.82 245.82h0M673.63 248.69h0M673.45 251.55h0M673.26 254.42h0M673.08 257.28h0M672.89 260.15h0M672.71 263.01h0M672.34 265.88h0M671.8 268.74h0M671.26 271.61h0M670.72 274.47h0M670.18 277.34h0M669.64 280.2h0M669.1 283.07h0M668.56 285.93h0M668.02 288.8h0M667.47 291.66h0M666.93 294.53h0M666.39 297.39h0M665.85 300.26h0M665.01 303.12h0M664.17 305.99h0M663.34 308.85h0M662.5 311.72h0M661.66 314.58h0M660.82 317.45h0M659.99 320.31h0M659.15 323.18h0M658.31 326.04h0M657.47 328.91h0M656.63 331.77h0M655.8 334.64h0M655.07 337.5h0M654.45 340.37h0M653.83 343.23h0M653.21 346.1h0M652.59 348.96h0M651.97 351.83h0M651.35 354.69h0M650.73 357.56h0M650.1 360.42h0M649.48 363.29h0M648.86 366.15h0M648.24 369.02h0M647.62 371.88h0M647.2 374.75h0M646.77 377.61h0M646.34 380.48h0M645.91 383.34h0M645.48 386.21h0M645.05 389.07h0M644.63 391.94h0M644.2 394.8h0M643.77 397.67h0M643.34 400.54h0M642.91 403.4h0M642.48 406.27h0M642.1 409.13h0M641.77 412h0M641.45 414.86h0M641.12 417.73h0M640.79 420.59h0M640.46 423.46h0M640.13 426.32h0M639.8 429.19h0M639.47 432.05h0M639.14 434.92h0M638.81 437.78h0M638.48 440.65h0M638.15 443.51h0M637.86 446.38h0M637.57 449.24h0M637.28 452.11h0M636.99 454.97h0M636.7 457.84h0M636.41 460.7h0M636.12 463.57h0M635.83 466.43h0M635.54 469.3h0M635.25 472.16h0M634.96 475.03h0M634.67 477.89h0M634.16 480.76h0M633.44 483.62h0M632.71 486.49h0M631.99 489.35h0M631.26 492.22h0M630.54 495.08h0M629.81 497.95h0M629.09 500.81h0M628.36 503.68h0M627.64 506.54h0M626.91 509.41h0M626.19 512.27h0M625.46 515.14h0M624.74 518h0M624.01 520.87h0M623.29 523.73h0M622.56 526.6h0M621.84 529.46h0M621.11 532.33h0M620.39 535.19h0M619.66 538.06h0M618.94 540.92h0M618.21 543.79h0M617.49 546.65h0M616.76 549.52h0M616.07 552.38h0M615.4 555.25h0M614.74 558.11h0M614.07 560.98h0M613.41 563.84h0M612.74 566.71h0M612.08 569.57h0M611.41 572.44h0M610.74 575.3h0M610.08 578.17h0M609.41 581.03h0M608.75 583.9h0M608.08 586.76h0" style="fill:none;stroke:#00ffff;stroke-width:4.8;stroke-linecap:round"/></g></g><g id="FillBetweenPolyCollection_2"><defs><path id="m6e2e1d6f95" d="M 617.14 -658.73 L 611.38 -658.73 L 611.26 -655.86 L 611.13 -653 L 611.01 -650.13 L 610.89 -647.27 L 610.76 -644.4 L 610.6 -641.54 L 610.43 -638.67 L 610.27 -635.81 L 610.1 -632.94 L 609.94 -630.08 L 609.77 -627.21 L 609.61 -624.35 L 609.47 -621.48 L 609.35 -618.62 L 609.23 -615.75 L 609.11 -612.89 L 608.99 -610.02 L 608.87 -607.16 L 608.76 -604.29 L 608.64 -601.43 L 608.52 -598.56 L 608.4 -595.7 L 608.28 -592.83 L 608.16 -589.97 L 608.04 -587.1 L 608.47 -584.24 L 608.89 -581.37 L 609.31 -578.51 L 609.74 -575.64 L 610.16 -572.78 L 612.39 -569.91 L 614.74 -567.05 L 617.09 -564.18 L 619.43 -561.32 L 621.78 -558.45 L 624.7 -555.59 L 627.61 -552.72 L 630.53 -549.86 L 633.45 -546.99 L 636.36 -544.13 L 638.14 -541.26 L 639.92 -538.4 L 641.7 -535.53 L 643.48 -532.67 L 645.26 -529.8 L 646.77 -526.94 L 648.27 -524.07 L 649.78 -521.21 L 651.29 -518.34 L 652.8 -515.48 L 653.55 -512.61 L 654.3 -509.74 L 655.05 -506.88 L 655.8 -504.01 L 656.55 -501.15 L 657.3 -498.28 L 658.06 -495.42 L 658.81 -492.55 L 659.56 -489.69 L 660.31 -486.82 L 661.06 -483.96 L 661.81 -481.09 L 662.15 -478.23 L 662.07 -475.36 L 661.99 -472.5 L 661.91 -469.63 L 661.83 -466.77 L 661.75 -463.9 L 661.67 -461.04 L 661.6 -458.17 L 661.52 -455.31 L 661.44 -452.44 L 661.36 -449.58 L 661.28 -446.71 L 661.2 -443.85 L 660.86 -440.98 L 660.53 -438.12 L 660.19 -435.25 L 659.86 -432.39 L 659.52 -429.52 L 659.18 -426.66 L 658.85 -423.79 L 658.51 -420.93 L 658.17 -418.06 L 657.84 -415.2 L 657.5 -412.33 L 657.17 -409.47 L 656.74 -406.6 L 656.21 -403.74 L 655.69 -400.87 L 655.16 -398.01 L 654.64 -395.14 L 654.12 -392.28 L 653.59 -389.41 L 653.07 -386.55 L 652.54 -383.68 L 652.02 -380.82 L 651.5 -377.95 L 650.97 -375.09 L 650.45 -372.22 L 650.11 -369.36 L 649.77 -366.49 L 649.43 -363.63 L 649.09 -360.76 L 648.74 -357.9 L 648.4 -355.03 L 648.06 -352.17 L 647.72 -349.3 L 647.38 -346.44 L 647.04 -343.57 L 646.7 -340.71 L 646.36 -337.84 L 646.02 -334.98 L 645.67 -332.11 L 645.33 -329.25 L 644.99 -326.38 L 644.65 -323.52 L 644.31 -320.65 L 643.97 -317.79 L 643.63 -314.92 L 643.49 -312.06 L 643.35 -309.19 L 643.21 -306.33 L 643.07 -303.46 L 642.93 -300.6 L 642.8 -297.73 L 642.66 -294.87 L 642.53 -292 L 642.39 -289.14 L 642.26 -286.27 L 642.12 -283.41 L 641.99 -280.54 L 641.75 -277.68 L 641.42 -274.81 L 641.08 -271.94 L 640.75 -269.08 L 640.41 -266.21 L 640.07 -263.35 L 639.74 -260.48 L 639.4 -257.62 L 639.07 -254.75 L 638.73 -251.89 L 638.39 -249.02 L 638.06 -246.16 L 637.72 -243.29 L 637.38 -240.43 L 637.05 -237.56 L 636.71 -234.7 L 636.38 -231.83 L 636.04 -228.97 L 635.41 -226.1 L 634.77 -223.24 L 634.14 -220.37 L 633.51 -217.51 L 632.88 -214.64 L 632.24 -211.78 L 631.61 -208.91 L 630.98 -206.05 L 630.35 -203.18 L 629.71 -200.32 L 629.08 -197.45 L 628.45 -194.59 L 627.82 -191.72 L 627.18 -188.86 L 626.55 -185.99 L 625.92 -183.13 L 625.28 -180.26 L 624.65 -177.4 L 624.02 -174.53 L 623.39 -171.67 L 622.75 -168.8 L 622.12 -165.94 L 621.49 -163.07 L 620.86 -160.21 L 620.22 -157.34 L 619.45 -154.48 L 618.67 -151.61 L 617.9 -148.75 L 617.12 -145.88 L 616.34 -143.02 L 615.57 -140.15 L 614.79 -137.29 L 614.02 -134.42 L 613.24 -131.56 L 612.46 -128.69 L 611.69 -125.83 L 610.91 -122.96 L 610.14 -120.1 L 609.36 -117.23 L 608.58 -114.37 L 607.81 -111.5 L 607.03 -108.64 L 606.26 -105.77 L 605.48 -102.91 L 604.7 -100.04 L 603.93 -97.18 L 603.15 -94.31 L 602.38 -91.45 L 601.6 -88.58 L 600.82 -85.72 L 602.98 -85.72 L 602.98 -85.72 L 603.76 -88.58 L 604.54 -91.45 L 605.31 -94.31 L 606.09 -97.18 L 606.86 -100.04 L 607.64 -102.91 L 608.42 -105.77 L 609.19 -108.64 L 609.97 -111.5 L 610.74 -114.37 L 611.52 -117.23 L 612.3 -120.1 L 613.07 -122.96 L 613.85 -125.83 L 614.62 -128.69 L 615.4 -131.56 L 616.18 -134.42 L 616.95 -137.29 L 617.73 -140.15 L 618.5 -143.02 L 619.28 -145.88 L 620.06 -148.75 L 620.83 -151.61 L 621.61 -154.48 L 622.38 -157.34 L 623.02 -160.21 L 623.65 -163.07 L 624.28 -165.94 L 624.91 -168.8 L 625.55 -171.67 L 626.18 -174.53 L 626.81 -177.4 L 627.44 -180.26 L 628.08 -183.13 L 628.71 -185.99 L 629.34 -188.86 L 629.98 -191.72 L 630.61 -194.59 L 631.24 -197.45 L 631.87 -200.32 L 632.51 -203.18 L 633.14 -206.05 L 633.77 -208.91 L 634.4 -211.78 L 635.04 -214.64 L 635.67 -217.51 L 636.3 -220.37 L 636.93 -223.24 L 637.57 -226.1 L 638.2 -228.97 L 638.54 -231.83 L 638.87 -234.7 L 639.21 -237.56 L 639.54 -240.43 L 639.88 -243.29 L 640.22 -246.16 L 640.55 -249.02 L 640.89 -251.89 L 641.23 -254.75 L 641.56 -257.62 L 641.9 -260.48 L 642.23 -263.35 L 642.57 -266.21 L 642.91 -269.08 L 643.24 -271.94 L 643.58 -274.81 L 643.91 -277.68 L 644.35 -280.54 L 644.89 -283.41 L 645.43 -286.27 L 645.96 -289.14 L 646.5 -292 L 647.04 -294.87 L 647.58 -297.73 L 648.11 -300.6 L 648.66 -303.46 L 649.2 -306.33 L 649.74 -309.19 L 650.29 -312.06 L 650.83 -314.92 L 651.17 -317.79 L 651.51 -320.65 L 651.85 -323.52 L 652.19 -326.38 L 652.53 -329.25 L 652.87 -332.11 L 653.22 -334.98 L 653.56 -337.84 L 653.9 -340.71 L 654.24 -343.57 L 654.58 -346.44 L 654.92 -349.3 L 655.26 -352.17 L 655.6 -355.03 L 655.94 -357.9 L 656.29 -360.76 L 656.63 -363.63 L 656.97 -366.49 L 657.31 -369.36 L 657.65 -372.22 L 658.17 -375.09 L 658.7 -377.95 L 659.22 -380.82 L 659.74 -383.68 L 660.27 -386.55 L 660.79 -389.41 L 661.32 -392.28 L 661.84 -395.14 L 662.36 -398.01 L 662.89 -400.87 L 663.41 -403.74 L 663.94 -406.6 L 664.37 -409.47 L 664.7 -412.33 L 665.04 -415.2 L 665.37 -418.06 L 665.71 -420.93 L 666.05 -423.79 L 666.38 -426.66 L 666.72 -429.52 L 667.06 -432.39 L 667.39 -435.25 L 667.73 -438.12 L 668.06 -440.98 L 668.4 -443.85 L 668.48 -446.71 L 668.56 -449.58 L 668.64 -452.44 L 668.72 -455.31 L 668.8 -458.17 L 668.87 -461.04 L 668.95 -463.9 L 669.03 -466.77 L 669.11 -469.63 L 669.19 -472.5 L 669.27 -475.36 L 669.35 -478.23 L 669.01 -481.09 L 668.26 -483.96 L 667.51 -486.82 L 666.76 -489.69 L 666.01 -492.55 L 665.26 -495.42 L 664.5 -498.28 L 663.75 -501.15 L 663 -504.01 L 662.25 -506.88 L 661.5 -509.74 L 660.75 -512.61 L 660 -515.48 L 658.49 -518.34 L 656.98 -521.21 L 655.47 -524.07 L 653.97 -526.94 L 652.46 -529.8 L 650.68 -532.67 L 648.9 -535.53 L 647.12 -538.4 L 645.34 -541.26 L 643.56 -544.13 L 640.65 -546.99 L 637.73 -549.86 L 634.81 -552.72 L 631.9 -555.59 L 628.98 -558.45 L 626.63 -561.32 L 624.29 -564.18 L 621.94 -567.05 L 619.59 -569.91 L 617.12 -572.78 L 616.46 -575.64 L 615.79 -578.51 L 615.13 -581.37 L 614.47 -584.24 L 613.8 -587.1 L 613.92 -589.97 L 614.04 -592.83 L 614.16 -595.7 L 614.28 -598.56 L 614.4 -601.43 L 614.52 -604.29 L 614.63 -607.16 L 614.75 -610.02 L 614.87 -612.89 L 614.99 -615.75 L 615.11 -618.62 L 615.23 -621.48 L 615.37 -624.35 L 615.53 -627.21 L 615.7 -630.08 L 615.86 -632.94 L 616.03 -635.81 L 616.19 -638.67 L 616.36 -641.54 L 616.52 -644.4 L 616.65 -647.27 L 616.77 -650.13 L 616.89 -653 L 617.02 -655.86 L 617.14 -658.73 z "/></defs><g clip-path="url(#pc8701a8b06)"><use href="#m6e2e1d6f95" x="0.36" y="672.84" style="fill: #ff0000"/></g></g><g id="patch_8"><path d="M 417.96 586.76 L 417.96 13.75" style="fill: none; stroke: #000000; stroke-width: 0.8; stroke-linejoin: miter; stroke-linecap: square"/></g><g id="patch_9"><path d="M 707.4 586.76 L 707.4 13.75" style="fill: none; stroke: #000000; stroke-width: 0.8; stroke-linejoin: miter; stroke-linecap: square"/></g><g id="patch_10"><path d="M 418.03 586.44 L 707.18 586.44" style="fill: none; stroke: #000000; stroke-width: 0.8; stroke-linejoin: miter; stroke-linecap: square"/></g><g id="patch_11"><path d="M 418.03 14.04 L 707.18 14.04" style="fill: none; stroke: #000000; stroke-width: 0.8; stroke-linejoin: miter; stroke-linecap: square"/></g><g id="line2d_97"><path d="M 606.35 13.75 L 606.41 20.91 L 606.48 28.08 L 606.54 35.24 L 606.6 42.4 L 606.72 49.57 L 606.85 56.73 L 606.97 63.89 L 607.09 71.05 L 607.46 78.22 L 607.83 85.38 L 616.73 92.54 L 629.75 99.7 L 643.13 106.87 L 649.92 114.03 L 656.2 121.19 L 659.63 128.35 L 662.28 135.52 L 664.92 142.68 L 667.39 149.84 L 669.87 157 L 671.47 164.17 L 673.08 171.33 L 673.45 178.49 L 673.82 185.66 L 674.19 192.82 L 673.97 199.98 L 673.75 207.14 L 673.52 214.31 L 673.3 221.47 L 673.08 228.63 L 672.58 235.79 L 672.09 242.96 L 671.6 250.12 L 671.1 257.28 L 670.61 264.44 L 669.22 271.61 L 667.84 278.77 L 666.46 285.93 L 665.07 293.1 L 663.69 300.26 L 661.56 307.42 L 659.44 314.58 L 657.31 321.75 L 655.19 328.91 L 653.06 336.07 L 651.48 343.23 L 649.9 350.4 L 648.32 357.56 L 646.73 364.72 L 645.15 371.88 L 644.04 379.05 L 642.93 386.21 L 641.82 393.37 L 640.7 400.54 L 639.59 407.7 L 638.73 414.86 L 637.86 422.02 L 637 429.19 L 636.13 436.35 L 635.27 443.51 L 634.5 450.67 L 633.73 457.84 L 632.97 465 L 632.2 472.16 L 631.44 479.32 L 629.58 486.49 L 627.73 493.65 L 625.88 500.81 L 624.02 507.97 L 622.17 515.14 L 620.31 522.3 L 618.46 529.46 L 616.61 536.63 L 614.75 543.79 L 612.9 550.95 L 611.2 558.11 L 609.49 565.28 L 607.78 572.44 L 606.08 579.6 L 604.37 586.76 " clip-path="url(#pc8701a8b06)" style="fill: none; stroke: #0000ff; stroke-width: 2; stroke-linecap: square"/><g clip-path="url(#pc8701a8b06)"><path d="M606.35 13.75h0M606.41 20.91h0M606.48 28.08h0M606.54 35.24h0M606.6 42.4h0M606.72 49.57h0M606.85 56.73h0M606.97 63.89h0M607.09 71.05h0M607.46 78.22h0M607.83 85.38h0M616.73 92.54h0M629.75 99.7h0M643.13 106.87h0M649.92 114.03h0M656.2 121.19h0M659.63 128.35h0M662.28 135.52h0M664.92 142.68h0M667.39 149.84h0M669.87 157h0M671.47 164.17h0M673.08 171.33h0M673.45 178.49h0M673.82 185.66h0M674.19 192.82h0M673.97 199.98h0M673.75 207.14h0M673.52 214.31h0M673.3 221.47h0M673.08 228.63h0M672.58 235.79h0M672.09 242.96h0M671.6 250.12h0M671.1 257.28h0M670.61 264.44h0M669.22 271.61h0M667.84 278.77h0M666.46 285.93h0M665.07 293.1h0M663.69 300.26h0M661.56 307.42h0M659.44 314.58h0M657.31 321.75h0M655.19 328.91h0M653.06 336.07h0M651.48 343.23h0M649.9 350.4h0M648.32 357.56h0M646.73 364.72h0M645.15 371.88h0M644.04 379.05h0M642.93 386.21h0M641.82 393.37h0M640.7 400.54h0M639.59 407.7h0M638.73 414.86h0M637.86 422.02h0M637 429.19h0M636.13 436.35h0M635.27 443.51h0M634.5 450.67h0M633.73 457.84h0M632.97 465h0M632.2 472.16h0M631.44 479.32h0M629.58 486.49h0M627.73 493.65h0M625.88 500.81h0M624.02 507.97h0M622.17 515.14h0M620.31 522.3h0M618.46 529.46h0M616.61 536.63h0M614.75 543.79h0M612.9 550.95h0M611.2 558.11h0M609.49 565.28h0M607.78 572.44h0M606.08 579.6h0M604.37 586.76h0" style="fill:none;stroke:#0000ff;stroke-width:8.6;stroke-linecap:round"/></g></g><g id="line2d_98"><path d="M 614.26 13.75 L 614.14 16.62 L 614.01 19.48 L 613.89 22.35 L 613.77 25.21 L 613.64 28.08 L 613.48 30.94 L 613.23 35.24 L 612.82 42.4 L 612.41 49.57 L 612.11 56.73 L 611.81 63.89 L 611.52 71.05 L 611.22 78.22 L 610.92 85.38 L 613.64 99.7 L 625.38 114.03 L 639.96 128.35 L 648.86 142.68 L 656.4 157 L 665.79 192.82 L 664.8 228.63 L 654.05 300.26 L 645.52 371.88 L 637.12 443.51 L 621.3 515.14 L 601.9 586.76 L 585.45 673.48 " clip-path="url(#pc8701a8b06)" style="fill: none; stroke: #ff0000; stroke-width: 2; stroke-linecap: square"/><g clip-path="url(#pc8701a8b06)"><path d="M614.26 13.75h0M614.14 16.62h0M614.01 19.48h0M613.89 22.35h0M613.77 25.21h0M613.64 28.08h0M613.48 30.94h0M613.23 35.24h0M612.82 42.4h0M612.41 49.57h0M612.11 56.73h0M611.81 63.89h0M611.52 71.05h0M611.22 78.22h0M610.92 85.38h0M613.64 99.7h0M625.38 114.03h0M639.96 128.35h0M648.86 142.68h0M656.4 157h0M665.79 192.82h0M664.8 228.63h0M654.05 300.26h0M645.52 371.88h0M637.12 443.51h0M621.3 515.14h0M601.9 586.76h0M574.72 730.02h0" style="fill:none;stroke:#ff0000;stroke-width:8.6;stroke-linecap:round"/></g></g><g id="line2d_99"><path d="M 624.52 13.75 L 624.34 16.62 L 624.17 19.48 L 624 22.35 L 623.82 25.21 L 623.65 28.08 L 623.54 30.94 L 623.36 35.24 L 623.07 42.4 L 622.79 49.57 L 622.51 56.73 L 622.24 63.89 L 621.97 71.05 L 621.7 78.22 L 621.43 85.38 L 621.67 99.7 L 627.36 114.03 L 635.76 128.35 L 642.43 142.68 L 645.65 157 L 649.11 192.82 L 650.59 228.63 L 646.39 300.26 L 634.03 371.88 L 624.02 443.51 L 618.83 515.14 L 614.51 586.76 L 605.38 673.48 " clip-path="url(#pc8701a8b06)" style="fill: none; stroke: #008000; stroke-width: 2; stroke-linecap: square"/><g clip-path="url(#pc8701a8b06)"><path d="M624.52 13.75h0M624.34 16.62h0M624.17 19.48h0M624 22.35h0M623.82 25.21h0M623.65 28.08h0M623.54 30.94h0M623.36 35.24h0M623.07 42.4h0M622.79 49.57h0M622.51 56.73h0M622.24 63.89h0M621.97 71.05h0M621.7 78.22h0M621.43 85.38h0M621.67 99.7h0M627.36 114.03h0M635.76 128.35h0M642.43 142.68h0M645.65 157h0M649.11 192.82h0M650.59 228.63h0M646.39 300.26h0M634.03 371.88h0M624.02 443.51h0M618.83 515.14h0M614.51 586.76h0M599.43 730.02h0" style="fill:none;stroke:#008000;stroke-width:8.6;stroke-linecap:round"/></g></g><g id="line2d_100"><path d="M 647.25 14.46 L 647.25 15.96 L 647.25 17.54 L 647.25 19.22 L 647.25 21.03 L 647.25 22.98 L 647.25 25.11 L 647.25 27.47 L 647.25 30.09 L 647.25 33.04 L 647.25 36.4 L 647.25 40.25 L 647.25 44.69 L 647.25 49.87 L 647.25 55.93 L 647.25 63.08 L 647.25 71.55 L 647.25 81.62 L 647.25 93.64 L 660.1 108.02 L 665.05 125.28 L 666.9 146.01 L 668.88 170.94 L 668.51 200.93 L 666.9 237.01 L 662.2 280.38 L 651.95 332.45 L 641.32 394.86 L 629.46 469.48 L 614.51 558.42 L 599.43 664.03 " clip-path="url(#pc8701a8b06)" style="fill: none; stroke: #ff00ff; stroke-width: 2; stroke-linecap: square"/><g clip-path="url(#pc8701a8b06)"><path d="M647.25 14.46h0M647.25 15.96h0M647.25 17.54h0M647.25 19.22h0M647.25 21.03h0M647.25 22.98h0M647.25 25.11h0M647.25 27.47h0M647.25 30.09h0M647.25 33.04h0M647.25 36.4h0M647.25 40.25h0M647.25 44.69h0M647.25 49.87h0M647.25 55.93h0M647.25 63.08h0M647.25 71.55h0M647.25 81.62h0M647.25 93.64h0M660.1 108.02h0M665.05 125.28h0M666.9 146.01h0M668.88 170.94h0M668.51 200.93h0M666.9 237.01h0M662.2 280.38h0M651.95 332.45h0M641.32 394.86h0M629.46 469.48h0M614.51 558.42h0M599.43 664.03h0" style="fill:none;stroke:#ff00ff;stroke-width:8.6;stroke-linecap:round"/></g></g></g><g id="axes_3"><g id="patch_12"><path d="M 772.27 586.76 L 1061.42 586.76 L 1061.42 13.75 L 772.27 13.75 z " style="fill: #ffffff"/></g><g id="matplotlib.axis_5"><g id="xtick_10"><g id="line2d_101"><path d="M 805.32 586.76 L 805.32 13.75" clip-path="url(#p26298f7945)" style="fill: none; stroke-dasharray: 2.22,0.96; stroke-dashoffset: 0; stroke: #b0b0b0; stroke-width: 0.6"/></g><g id="line2d_102"><g><use href="#m469b586308" x="805.32" y="586.44" style="stroke: #000000; stroke-width: 0.8"/></g></g><g id="text_29"><text style="font-size: 12.6px; font-family: 'DejaVu Sans', 'Liberation Sans', sans-serif" transform="translate(796.42 625.91) rotate(-45)">1024</text></g></g><g id="xtick_11"><g id="line2d_103"><path d="M 864.36 586.76 L 864.36 13.75" clip-path="url(#p26298f7945)" style="fill: none; stroke-dasharray: 2.22,0.96; stroke-dashoffset: 0; stroke: #b0b0b0; stroke-width: 0.6"/></g><g id="line2d_104"><g><use href="#m469b586308" x="864.36" y="586.44" style="stroke: #000000; stroke-width: 0.8"/></g></g><g id="text_30"><text style="font-size: 12.6px; font-family: 'DejaVu Sans', 'Liberation Sans', sans-serif" transform="translate(855.23 625.91) rotate(-45)">1026</text></g></g><g id="xtick_12"><g id="line2d_105"><path d="M 922.68 586.76 L 922.68 13.75" clip-path="url(#p26298f7945)" style="fill: none; stroke-dasharray: 2.22,0.96; stroke-dashoffset: 0; stroke: #b0b0b0; stroke-width: 0.6"/></g><g id="line2d_106"><g><use href="#m469b586308" x="922.68" y="586.44" style="stroke: #000000; stroke-width: 0.8"/></g></g><g id="text_31"><text style="font-size: 12.6px; font-family: 'DejaVu Sans', 'Liberation Sans', sans-serif" transform="translate(914.04 625.91) rotate(-45)">1028</text></g></g><g id="xtick_13"><g id="line2d_107"><path d="M 981.72 586.76 L 981.72 13.75" clip-path="url(#p26298f7945)" style="fill: none; stroke-dasharray: 2.22,0.96; stroke-dashoffset: 0; stroke: #b0b0b0; stroke-width: 0.6"/></g><g id="line2d_108"><g><use href="#m469b586308" x="981.72" y="586.44" style="stroke: #000000; stroke-width: 0.8"/></g></g><g id="text_32"><text style="font-size: 12.6px; font-family: 'DejaVu Sans', 'Liberation Sans', sans-serif" transform="translate(972.85 625.91) rotate(-45)">1030</text></g></g><g id="xtick_14"><g id="line2d_109"><path d="M 1040.76 586.76 L 1040.76 13.75" clip-path="url(#p26298f7945)" style="fill: none; stroke-dasharray: 2.22,0.96; stroke-dashoffset: 0; stroke: #b0b0b0; stroke-width: 0.6"/></g><g id="line2d_110"><g><use href="#m469b586308" x="1040.76" y="586.44" style="stroke: #000000; stroke-width: 0.8"/></g></g><g id="text_33"><text style="font-size: 12.6px; font-family: 'DejaVu Sans', 'Liberation Sans', sans-serif" transform="translate(1031.67 625.91) rotate(-45)">1032</text></g></g><g id="text_34"><text style="font-weight: 700; font-size: 16.3px; font-family: 'DejaVu Sans', 'Liberation Sans', sans-serif; text-anchor: middle" x="916.85" y="645.71" transform="rotate(-0 916.85 645.71)">Density (kg m-3)</text></g></g><g id="matplotlib.axis_6"><g id="ytick_33"><g id="line2d_111"><path d="M 772.27 14.04 L 1061.42 14.04" clip-path="url(#p26298f7945)" style="fill: none; stroke-dasharray: 2.22,0.96; stroke-dashoffset: 0; stroke: #b0b0b0; stroke-width: 0.6"/></g><g id="line2d_112"><g><use href="#ma31aeadfb0" x="772.2" y="14.04" style="stroke: #000000; stroke-width: 0.8"/></g></g></g><g id="ytick_34"><g id="line2d_113"><path d="M 772.27 49.32 L 1061.42 49.32" clip-path="url(#p26298f7945)" style="fill: none; stroke-dasharray: 2.22,0.96; stroke-dashoffset: 0; stroke: #b0b0b0; stroke-width: 0.6"/></g><g id="line2d_114"><g><use href="#ma31aeadfb0" x="772.2" y="49.32" style="stroke: #000000; stroke-width: 0.8"/></g></g></g><g id="ytick_35"><g id="line2d_115"><path d="M 772.27 85.32 L 1061.42 85.32" clip-path="url(#p26298f7945)" style="fill: none; stroke-dasharray: 2.22,0.96; stroke-dashoffset: 0; stroke: #b0b0b0; stroke-width: 0.6"/></g><g id="line2d_116"><g><use href="#ma31aeadfb0" x="772.2" y="85.32" style="stroke: #000000; stroke-width: 0.8"/></g></g></g><g id="ytick_36"><g id="line2d_117"><path d="M 772.27 121.32 L 1061.42 121.32" clip-path="url(#p26298f7945)" style="fill: none; stroke-dasharray: 2.22,0.96; stroke-dashoffset: 0; stroke: #b0b0b0; stroke-width: 0.6"/></g><g id="line2d_118"><g><use href="#ma31aeadfb0" x="772.2" y="121.32" style="stroke: #000000; stroke-width: 0.8"/></g></g></g><g id="ytick_37"><g id="line2d_119"><path d="M 772.27 157.32 L 1061.42 157.32" clip-path="url(#p26298f7945)" style="fill: none; stroke-dasharray: 2.22,0.96; stroke-dashoffset: 0; stroke: #b0b0b0; stroke-width: 0.6"/></g><g id="line2d_120"><g><use href="#ma31aeadfb0" x="772.2" y="157.32" style="stroke: #000000; stroke-width: 0.8"/></g></g></g><g id="ytick_38"><g id="line2d_121"><path d="M 772.27 192.6 L 1061.42 192.6" clip-path="url(#p26298f7945)" style="fill: none; stroke-dasharray: 2.22,0.96; stroke-dashoffset: 0; stroke: #b0b0b0; stroke-width: 0.6"/></g><g id="line2d_122"><g><use href="#ma31aeadfb0" x="772.2" y="192.6" style="stroke: #000000; stroke-width: 0.8"/></g></g></g><g id="ytick_39"><g id="line2d_123"><path d="M 772.27 228.6 L 1061.42 228.6" clip-path="url(#p26298f7945)" style="fill: none; stroke-dasharray: 2.22,0.96; stroke-dashoffset: 0; stroke: #b0b0b0; stroke-width: 0.6"/></g><g id="line2d_124"><g><use href="#ma31aeadfb0" x="772.2" y="228.6" style="stroke: #000000; stroke-width: 0.8"/></g></g></g><g id="ytick_40"><g id="line2d_125"><path d="M 772.27 264.6 L 1061.42 264.6" clip-path="url(#p26298f7945)" style="fill: none; stroke-dasharray: 2.22,0.96; stroke-dashoffset: 0; stroke: #b0b0b0; stroke-width: 0.6"/></g><g id="line2d_126"><g><use href="#ma31aeadfb0" x="772.2" y="264.6" style="stroke: #000000; stroke-width: 0.8"/></g></g></g><g id="ytick_41"><g id="line2d_127"><path d="M 772.27 300.6 L 1061.42 300.6" clip-path="url(#p26298f7945)" style="fill: none; stroke-dasharray: 2.22,0.96; stroke-dashoffset: 0; stroke: #b0b0b0; stroke-width: 0.6"/></g><g id="line2d_128"><g><use href="#ma31aeadfb0" x="772.2" y="300.6" style="stroke: #000000; stroke-width: 0.8"/></g></g></g><g id="ytick_42"><g id="line2d_129"><path d="M 772.27 335.88 L 1061.42 335.88" clip-path="url(#p26298f7945)" style="fill: none; stroke-dasharray: 2.22,0.96; stroke-dashoffset: 0; stroke: #b0b0b0; stroke-width: 0.6"/></g><g id="line2d_130"><g><use href="#ma31aeadfb0" x="772.2" y="335.88" style="stroke: #000000; stroke-width: 0.8"/></g></g></g><g id="ytick_43"><g id="line2d_131"><path d="M 772.27 371.88 L 1061.42 371.88" clip-path="url(#p26298f7945)" style="fill: none; stroke-dasharray: 2.22,0.96; stroke-dashoffset: 0; stroke: #b0b0b0; stroke-width: 0.6"/></g><g id="line2d_132"><g><use href="#ma31aeadfb0" x="772.2" y="371.88" style="stroke: #000000; stroke-width: 0.8"/></g></g></g><g id="ytick_44"><g id="line2d_133"><path d="M 772.27 407.88 L 1061.42 407.88" clip-path="url(#p26298f7945)" style="fill: none; stroke-dasharray: 2.22,0.96; stroke-dashoffset: 0; stroke: #b0b0b0; stroke-width: 0.6"/></g><g id="line2d_134"><g><use href="#ma31aeadfb0" x="772.2" y="407.88" style="stroke: #000000; stroke-width: 0.8"/></g></g></g><g id="ytick_45"><g id="line2d_135"><path d="M 772.27 443.16 L 1061.42 443.16" clip-path="url(#p26298f7945)" style="fill: none; stroke-dasharray: 2.22,0.96; stroke-dashoffset: 0; stroke: #b0b0b0; stroke-width: 0.6"/></g><g id="line2d_136"><g><use href="#ma31aeadfb0" x="772.2" y="443.16" style="stroke: #000000; stroke-width: 0.8"/></g></g></g><g id="ytick_46"><g id="line2d_137"><path d="M 772.27 479.16 L 1061.42 479.16" clip-path="url(#p26298f7945)" style="fill: none; stroke-dasharray: 2.22,0.96; stroke-dashoffset: 0; stroke: #b0b0b0; stroke-width: 0.6"/></g><g id="line2d_138"><g><use href="#ma31aeadfb0" x="772.2" y="479.16" style="stroke: #000000; stroke-width: 0.8"/></g></g></g><g id="ytick_47"><g id="line2d_139"><path d="M 772.27 515.16 L 1061.42 515.16" clip-path="url(#p26298f7945)" style="fill: none; stroke-dasharray: 2.22,0.96; stroke-dashoffset: 0; stroke: #b0b0b0; stroke-width: 0.6"/></g><g id="line2d_140"><g><use href="#ma31aeadfb0" x="772.2" y="515.16" style="stroke: #000000; stroke-width: 0.8"/></g></g></g><g id="ytick_48"><g id="line2d_141"><path d="M 772.27 551.16 L 1061.42 551.16" clip-path="url(#p26298f7945)" style="fill: none; stroke-dasharray: 2.22,0.96; stroke-dashoffset: 0; stroke: #b0b0b0; stroke-width: 0.6"/></g><g id="line2d_142"><g><use href="#ma31aeadfb0" x="772.2" y="551.16" style="stroke: #000000; stroke-width: 0.8"/></g></g></g></g><g id="line2d_143"><path d="M 787.53 13.75 L 790.26 53.86 L 791.96 76.78 L 792.53 79.65 L 794.41 85.38 L 800.96 91.11 L 803.53 93.97 L 810.98 105.43 L 813.31 108.3 L 824.53 119.76 L 826.77 122.62 L 833.55 134.08 L 835.02 136.95 L 841.17 151.27 L 849.19 165.6 L 850.6 168.47 L 860.19 191.39 L 867.59 217.17 L 871.17 228.63 L 879.49 265.88 L 888.81 300.26 L 897.02 337.5 L 905.77 383.34 L 910.29 406.27 L 910.71 409.13 L 915.05 452.11 L 922.41 518 L 931.45 586.76 L 931.45 586.76 " clip-path="url(#p26298f7945)" style="fill: none; stroke: #00ffff; stroke-width: 2; stroke-linecap: square"/><g clip-path="url(#p26298f7945)"><path d="M787.53 13.75h0M787.72 16.62h0M787.91 19.48h0M788.1 22.35h0M788.29 25.21h0M788.47 28.08h0M788.66 30.94h0M788.85 33.81h0M789.04 36.67h0M789.23 39.54h0M789.42 42.4h0M789.63 45.27h0M789.84 48.13h0M790.05 51h0M790.26 53.86h0M790.47 56.73h0M790.69 59.59h0M790.9 62.46h0M791.11 65.32h0M791.32 68.19h0M791.53 71.05h0M791.74 73.92h0M791.96 76.78h0M792.53 79.65h0M793.47 82.51h0M794.41 85.38h0M797.69 88.24h0M800.96 91.11h0M803.53 93.97h0M805.39 96.84h0M807.26 99.7h0M809.12 102.57h0M810.98 105.43h0M813.31 108.3h0M816.12 111.16h0M818.92 114.03h0M821.72 116.89h0M824.53 119.76h0M826.77 122.62h0M828.46 125.49h0M830.14 128.35h0M831.85 131.22h0M833.55 134.08h0M835.02 136.95h0M836.25 139.81h0M837.48 142.68h0M838.71 145.54h0M839.94 148.41h0M841.17 151.27h0M842.77 154.14h0M844.38 157h0M845.98 159.87h0M847.59 162.74h0M849.19 165.6h0M850.6 168.47h0M851.81 171.33h0M853.02 174.2h0M854.23 177.06h0M855.45 179.93h0M856.66 182.79h0M857.87 185.66h0M859.08 188.52h0M860.19 191.39h0M861.01 194.25h0M861.82 197.12h0M862.63 199.98h0M863.44 202.85h0M864.26 205.71h0M865.07 208.58h0M865.88 211.44h0M866.7 214.31h0M867.59 217.17h0M868.48 220.04h0M869.38 222.9h0M870.27 225.77h0M871.17 228.63h0M871.8 231.5h0M872.44 234.36h0M873.07 237.23h0M873.71 240.09h0M874.34 242.96h0M874.98 245.82h0M875.61 248.69h0M876.25 251.55h0M876.88 254.42h0M877.52 257.28h0M878.15 260.15h0M878.79 263.01h0M879.49 265.88h0M880.27 268.74h0M881.05 271.61h0M881.82 274.47h0M882.6 277.34h0M883.37 280.2h0M884.15 283.07h0M884.93 285.93h0M885.7 288.8h0M886.48 291.66h0M887.26 294.53h0M888.03 297.39h0M888.81 300.26h0M889.44 303.12h0M890.08 305.99h0M890.71 308.85h0M891.35 311.72h0M891.98 314.58h0M892.62 317.45h0M893.26 320.31h0M893.89 323.18h0M894.53 326.04h0M895.16 328.91h0M895.8 331.77h0M896.43 334.64h0M897.02 337.5h0M897.56 340.37h0M898.1 343.23h0M898.64 346.1h0M899.18 348.96h0M899.72 351.83h0M900.27 354.69h0M900.81 357.56h0M901.35 360.42h0M901.89 363.29h0M902.43 366.15h0M902.97 369.02h0M903.51 371.88h0M904.08 374.75h0M904.64 377.61h0M905.21 380.48h0M905.77 383.34h0M906.34 386.21h0M906.9 389.07h0M907.46 391.94h0M908.03 394.8h0M908.59 397.67h0M909.16 400.54h0M909.72 403.4h0M910.29 406.27h0M910.71 409.13h0M910.99 412h0M911.28 414.86h0M911.56 417.73h0M911.84 420.59h0M912.12 423.46h0M912.4 426.32h0M912.69 429.19h0M912.97 432.05h0M913.25 434.92h0M913.53 437.78h0M913.82 440.65h0M914.1 443.51h0M914.42 446.38h0M914.73 449.24h0M915.05 452.11h0M915.37 454.97h0M915.69 457.84h0M916 460.7h0M916.32 463.57h0M916.64 466.43h0M916.96 469.3h0M917.27 472.16h0M917.59 475.03h0M917.91 477.89h0M918.23 480.76h0M918.54 483.62h0M918.86 486.49h0M919.18 489.35h0M919.5 492.22h0M919.82 495.08h0M920.13 497.95h0M920.45 500.81h0M920.77 503.68h0M921.09 506.54h0M921.4 509.41h0M921.72 512.27h0M922.04 515.14h0M922.41 518h0M922.79 520.87h0M923.17 523.73h0M923.54 526.6h0M923.92 529.46h0M924.3 532.33h0M924.67 535.19h0M925.05 538.06h0M925.43 540.92h0M925.8 543.79h0M926.18 546.65h0M926.56 549.52h0M926.93 552.38h0M927.31 555.25h0M927.68 558.11h0M928.06 560.98h0M928.44 563.84h0M928.81 566.71h0M929.19 569.57h0M929.57 572.44h0M929.94 575.3h0M930.32 578.17h0M930.7 581.03h0M931.07 583.9h0M931.45 586.76h0" style="fill:none;stroke:#00ffff;stroke-width:4.8;stroke-linecap:round"/></g></g><g id="line2d_144"><path d="M 786.66 13.75 L 789.78 59.59 L 791.47 82.51 L 793.34 88.24 L 795.43 91.11 L 801.98 96.84 L 811.29 111.16 L 825.31 125.49 L 833.73 139.81 L 840.26 154.14 L 843.57 159.87 L 848.67 168.47 L 850.13 171.33 L 859.12 191.39 L 860.94 197.12 L 868.79 222.9 L 870.58 228.63 L 878.91 265.88 L 888.22 300.26 L 896.43 337.5 L 905.18 383.34 L 909.7 406.27 L 910.12 409.13 L 914.46 452.11 L 921.83 518 L 930.86 586.76 L 930.86 586.76 " clip-path="url(#p26298f7945)" style="fill: none; stroke: #00ffff; stroke-width: 2; stroke-linecap: square"/><g clip-path="url(#p26298f7945)"><path d="M786.66 13.75h0M786.85 16.62h0M787.04 19.48h0M787.23 22.35h0M787.42 25.21h0M787.6 28.08h0M787.79 30.94h0M787.98 33.81h0M788.17 36.67h0M788.36 39.54h0M788.55 42.4h0M788.73 45.27h0M788.93 48.13h0M789.15 51h0M789.36 53.86h0M789.57 56.73h0M789.78 59.59h0M789.99 62.46h0M790.2 65.32h0M790.42 68.19h0M790.63 71.05h0M790.84 73.92h0M791.05 76.78h0M791.26 79.65h0M791.47 82.51h0M792.42 85.38h0M793.34 88.24h0M795.43 91.11h0M798.71 93.97h0M801.98 96.84h0M803.84 99.7h0M805.71 102.57h0M807.57 105.43h0M809.43 108.3h0M811.29 111.16h0M814.1 114.03h0M816.9 116.89h0M819.7 119.76h0M822.51 122.62h0M825.31 125.49h0M827 128.35h0M828.7 131.22h0M830.41 134.08h0M832.08 136.95h0M833.73 139.81h0M835.05 142.68h0M836.35 145.54h0M837.66 148.41h0M838.96 151.27h0M840.26 154.14h0M841.87 157h0M843.57 159.87h0M845.27 162.74h0M846.97 165.6h0M848.67 168.47h0M850.13 171.33h0M851.42 174.2h0M852.7 177.06h0M853.99 179.93h0M855.27 182.79h0M856.55 185.66h0M857.84 188.52h0M859.12 191.39h0M860.08 194.25h0M860.94 197.12h0M861.8 199.98h0M862.66 202.85h0M863.52 205.71h0M864.38 208.58h0M865.25 211.44h0M866.11 214.31h0M867 217.17h0M867.9 220.04h0M868.79 222.9h0M869.68 225.77h0M870.58 228.63h0M871.21 231.5h0M871.85 234.36h0M872.48 237.23h0M873.12 240.09h0M873.75 242.96h0M874.39 245.82h0M875.02 248.69h0M875.66 251.55h0M876.29 254.42h0M876.93 257.28h0M877.56 260.15h0M878.2 263.01h0M878.91 265.88h0M879.68 268.74h0M880.46 271.61h0M881.23 274.47h0M882.01 277.34h0M882.79 280.2h0M883.56 283.07h0M884.34 285.93h0M885.12 288.8h0M885.89 291.66h0M886.67 294.53h0M887.44 297.39h0M888.22 300.26h0M888.86 303.12h0M889.49 305.99h0M890.13 308.85h0M890.76 311.72h0M891.4 314.58h0M892.03 317.45h0M892.67 320.31h0M893.3 323.18h0M893.94 326.04h0M894.57 328.91h0M895.21 331.77h0M895.84 334.64h0M896.43 337.5h0M896.97 340.37h0M897.51 343.23h0M898.05 346.1h0M898.6 348.96h0M899.14 351.83h0M899.68 354.69h0M900.22 357.56h0M900.76 360.42h0M901.3 363.29h0M901.84 366.15h0M902.38 369.02h0M902.92 371.88h0M903.49 374.75h0M904.05 377.61h0M904.62 380.48h0M905.18 383.34h0M905.75 386.21h0M906.31 389.07h0M906.88 391.94h0M907.44 394.8h0M908.01 397.67h0M908.57 400.54h0M909.13 403.4h0M909.7 406.27h0M910.12 409.13h0M910.41 412h0M910.69 414.86h0M910.97 417.73h0M911.25 420.59h0M911.53 423.46h0M911.82 426.32h0M912.1 429.19h0M912.38 432.05h0M912.66 434.92h0M912.95 437.78h0M913.23 440.65h0M913.51 443.51h0M913.83 446.38h0M914.15 449.24h0M914.46 452.11h0M914.78 454.97h0M915.1 457.84h0M915.42 460.7h0M915.73 463.57h0M916.05 466.43h0M916.37 469.3h0M916.69 472.16h0M917 475.03h0M917.32 477.89h0M917.64 480.76h0M917.96 483.62h0M918.27 486.49h0M918.59 489.35h0M918.91 492.22h0M919.23 495.08h0M919.54 497.95h0M919.86 500.81h0M920.18 503.68h0M920.5 506.54h0M920.81 509.41h0M921.13 512.27h0M921.45 515.14h0M921.83 518h0M922.2 520.87h0M922.58 523.73h0M922.96 526.6h0M923.33 529.46h0M923.71 532.33h0M924.08 535.19h0M924.46 538.06h0M924.84 540.92h0M925.21 543.79h0M925.59 546.65h0M925.97 549.52h0M926.34 552.38h0M926.72 555.25h0M927.1 558.11h0M927.47 560.98h0M927.85 563.84h0M928.23 566.71h0M928.6 569.57h0M928.98 572.44h0M929.35 575.3h0M929.73 578.17h0M930.11 581.03h0M930.48 583.9h0M930.86 586.76h0" style="fill:none;stroke:#00ffff;stroke-width:4.8;stroke-linecap:round"/></g></g><g id="line2d_145"><path d="M 786.18 13.75 L 789.49 62.46 L 791.18 85.38 L 793.02 91.11 L 795.12 93.97 L 801.67 99.7 L 810.98 114.03 L 825 128.35 L 833.48 142.68 L 840.2 157 L 848.98 171.33 L 858.26 191.39 L 859.36 194.25 L 869.99 228.63 L 878.32 265.88 L 887.63 300.26 L 895.84 337.5 L 904.59 383.34 L 909.11 406.27 L 909.53 409.13 L 913.88 452.11 L 921.24 518 L 930.27 586.76 L 930.27 586.76 " clip-path="url(#p26298f7945)" style="fill: none; stroke: #00ffff; stroke-width: 2; stroke-linecap: square"/><g clip-path="url(#p26298f7945)"><path d="M786.18 13.75h0M786.37 16.62h0M786.56 19.48h0M786.75 22.35h0M786.93 25.21h0M787.12 28.08h0M787.31 30.94h0M787.5 33.81h0M787.69 36.67h0M787.87 39.54h0M788.06 42.4h0M788.25 45.27h0M788.44 48.13h0M788.64 51h0M788.85 53.86h0M789.06 56.73h0M789.27 59.59h0M789.49 62.46h0M789.7 65.32h0M789.91 68.19h0M790.12 71.05h0M790.33 73.92h0M790.55 76.78h0M790.76 79.65h0M790.97 82.51h0M791.18 85.38h0M792.1 88.24h0M793.02 91.11h0M795.12 93.97h0M798.39 96.84h0M801.67 99.7h0M803.53 102.57h0M805.39 105.43h0M807.26 108.3h0M809.12 111.16h0M810.98 114.03h0M813.78 116.89h0M816.59 119.76h0M819.39 122.62h0M822.19 125.49h0M825 128.35h0M826.69 131.22h0M828.39 134.08h0M830.09 136.95h0M831.79 139.81h0M833.48 142.68h0M834.83 145.54h0M836.17 148.41h0M837.52 151.27h0M838.86 154.14h0M840.2 157h0M841.96 159.87h0M843.72 162.74h0M845.47 165.6h0M847.23 168.47h0M848.98 171.33h0M850.31 174.2h0M851.63 177.06h0M852.96 179.93h0M854.28 182.79h0M855.61 185.66h0M856.93 188.52h0M858.26 191.39h0M859.36 194.25h0M860.25 197.12h0M861.13 199.98h0M862.02 202.85h0M862.9 205.71h0M863.79 208.58h0M864.68 211.44h0M865.56 214.31h0M866.45 217.17h0M867.33 220.04h0M868.22 222.9h0M869.1 225.77h0M869.99 228.63h0M870.62 231.5h0M871.26 234.36h0M871.89 237.23h0M872.53 240.09h0M873.16 242.96h0M873.8 245.82h0M874.44 248.69h0M875.07 251.55h0M875.71 254.42h0M876.34 257.28h0M876.98 260.15h0M877.61 263.01h0M878.32 265.88h0M879.09 268.74h0M879.87 271.61h0M880.65 274.47h0M881.42 277.34h0M882.2 280.2h0M882.97 283.07h0M883.75 285.93h0M884.53 288.8h0M885.3 291.66h0M886.08 294.53h0M886.86 297.39h0M887.63 300.26h0M888.27 303.12h0M888.9 305.99h0M889.54 308.85h0M890.17 311.72h0M890.81 314.58h0M891.44 317.45h0M892.08 320.31h0M892.71 323.18h0M893.35 326.04h0M893.98 328.91h0M894.62 331.77h0M895.25 334.64h0M895.84 337.5h0M896.38 340.37h0M896.93 343.23h0M897.47 346.1h0M898.01 348.96h0M898.55 351.83h0M899.09 354.69h0M899.63 357.56h0M900.17 360.42h0M900.71 363.29h0M901.25 366.15h0M901.79 369.02h0M902.34 371.88h0M902.9 374.75h0M903.47 377.61h0M904.03 380.48h0M904.59 383.34h0M905.16 386.21h0M905.72 389.07h0M906.29 391.94h0M906.85 394.8h0M907.42 397.67h0M907.98 400.54h0M908.55 403.4h0M909.11 406.27h0M909.53 409.13h0M909.82 412h0M910.1 414.86h0M910.38 417.73h0M910.66 420.59h0M910.95 423.46h0M911.23 426.32h0M911.51 429.19h0M911.79 432.05h0M912.08 434.92h0M912.36 437.78h0M912.64 440.65h0M912.92 443.51h0M913.24 446.38h0M913.56 449.24h0M913.88 452.11h0M914.19 454.97h0M914.51 457.84h0M914.83 460.7h0M915.15 463.57h0M915.46 466.43h0M915.78 469.3h0M916.1 472.16h0M916.42 475.03h0M916.73 477.89h0M917.05 480.76h0M917.37 483.62h0M917.69 486.49h0M918 489.35h0M918.32 492.22h0M918.64 495.08h0M918.96 497.95h0M919.27 500.81h0M919.59 503.68h0M919.91 506.54h0M920.23 509.41h0M920.54 512.27h0M920.86 515.14h0M921.24 518h0M921.61 520.87h0M921.99 523.73h0M922.37 526.6h0M922.74 529.46h0M923.12 532.33h0M923.5 535.19h0M923.87 538.06h0M924.25 540.92h0M924.63 543.79h0M925 546.65h0M925.38 549.52h0M925.76 552.38h0M926.13 555.25h0M926.51 558.11h0M926.88 560.98h0M927.26 563.84h0M927.64 566.71h0M928.01 569.57h0M928.39 572.44h0M928.77 575.3h0M929.14 578.17h0M929.52 581.03h0M929.9 583.9h0M930.27 586.76h0" style="fill:none;stroke:#00ffff;stroke-width:4.8;stroke-linecap:round"/></g></g><g id="line2d_146"><path d="M 786.77 13.75 L 786.77 19.48 L 790.07 68.19 L 791.81 91.11 L 793.73 96.84 L 795.87 99.7 L 802.49 105.43 L 812 119.76 L 826.17 134.08 L 831.6 142.68 L 835.14 148.41 L 840.95 159.87 L 842.68 162.74 L 850.25 174.2 L 860.27 194.25 L 867.88 217.17 L 871.46 228.63 L 879.79 265.88 L 889.1 300.26 L 897.31 337.5 L 906.06 383.34 L 910.58 406.27 L 911 409.13 L 915.35 452.11 L 922.71 518 L 931.74 586.76 L 931.74 586.76 " clip-path="url(#p26298f7945)" style="fill: none; stroke: #00ffff; stroke-width: 2; stroke-linecap: square"/><g clip-path="url(#p26298f7945)"><path d="M786.77 13.75h0M786.77 16.62h0M786.77 19.48h0M786.96 22.35h0M787.15 25.21h0M787.33 28.08h0M787.52 30.94h0M787.71 33.81h0M787.9 36.67h0M788.09 39.54h0M788.27 42.4h0M788.46 45.27h0M788.65 48.13h0M788.84 51h0M789.03 53.86h0M789.23 56.73h0M789.44 59.59h0M789.65 62.46h0M789.86 65.32h0M790.07 68.19h0M790.29 71.05h0M790.5 73.92h0M790.71 76.78h0M790.92 79.65h0M791.13 82.51h0M791.34 85.38h0M791.58 88.24h0M791.81 91.11h0M792.77 93.97h0M793.73 96.84h0M795.87 99.7h0M799.18 102.57h0M802.49 105.43h0M804.39 108.3h0M806.3 111.16h0M808.2 114.03h0M810.1 116.89h0M812 119.76h0M814.84 122.62h0M817.69 125.49h0M820.53 128.35h0M823.35 131.22h0M826.17 134.08h0M827.94 136.95h0M829.77 139.81h0M831.6 142.68h0M833.43 145.54h0M835.14 148.41h0M836.6 151.27h0M838.05 154.14h0M839.5 157h0M840.95 159.87h0M842.68 162.74h0M844.58 165.6h0M846.47 168.47h0M848.36 171.33h0M850.25 174.2h0M851.69 177.06h0M853.12 179.93h0M854.55 182.79h0M855.98 185.66h0M857.41 188.52h0M858.84 191.39h0M860.27 194.25h0M861.24 197.12h0M862.19 199.98h0M863.15 202.85h0M864.11 205.71h0M865.07 208.58h0M866.03 211.44h0M866.99 214.31h0M867.88 217.17h0M868.78 220.04h0M869.67 222.9h0M870.57 225.77h0M871.46 228.63h0M872.09 231.5h0M872.73 234.36h0M873.36 237.23h0M874 240.09h0M874.64 242.96h0M875.27 245.82h0M875.91 248.69h0M876.54 251.55h0M877.18 254.42h0M877.81 257.28h0M878.45 260.15h0M879.08 263.01h0M879.79 265.88h0M880.56 268.74h0M881.34 271.61h0M882.12 274.47h0M882.89 277.34h0M883.67 280.2h0M884.45 283.07h0M885.22 285.93h0M886 288.8h0M886.77 291.66h0M887.55 294.53h0M888.33 297.39h0M889.1 300.26h0M889.74 303.12h0M890.37 305.99h0M891.01 308.85h0M891.64 311.72h0M892.28 314.58h0M892.91 317.45h0M893.55 320.31h0M894.18 323.18h0M894.82 326.04h0M895.45 328.91h0M896.09 331.77h0M896.73 334.64h0M897.31 337.5h0M897.85 340.37h0M898.4 343.23h0M898.94 346.1h0M899.48 348.96h0M900.02 351.83h0M900.56 354.69h0M901.1 357.56h0M901.64 360.42h0M902.18 363.29h0M902.72 366.15h0M903.27 369.02h0M903.81 371.88h0M904.37 374.75h0M904.94 377.61h0M905.5 380.48h0M906.06 383.34h0M906.63 386.21h0M907.19 389.07h0M907.76 391.94h0M908.32 394.8h0M908.89 397.67h0M909.45 400.54h0M910.02 403.4h0M910.58 406.27h0M911 409.13h0M911.29 412h0M911.57 414.86h0M911.85 417.73h0M912.13 420.59h0M912.42 423.46h0M912.7 426.32h0M912.98 429.19h0M913.26 432.05h0M913.55 434.92h0M913.83 437.78h0M914.11 440.65h0M914.39 443.51h0M914.71 446.38h0M915.03 449.24h0M915.35 452.11h0M915.66 454.97h0M915.98 457.84h0M916.3 460.7h0M916.62 463.57h0M916.93 466.43h0M917.25 469.3h0M917.57 472.16h0M917.89 475.03h0M918.2 477.89h0M918.52 480.76h0M918.84 483.62h0M919.16 486.49h0M919.47 489.35h0M919.79 492.22h0M920.11 495.08h0M920.43 497.95h0M920.74 500.81h0M921.06 503.68h0M921.38 506.54h0M921.7 509.41h0M922.01 512.27h0M922.33 515.14h0M922.71 518h0M923.09 520.87h0M923.46 523.73h0M923.84 526.6h0M924.21 529.46h0M924.59 532.33h0M924.97 535.19h0M925.34 538.06h0M925.72 540.92h0M926.1 543.79h0M926.47 546.65h0M926.85 549.52h0M927.23 552.38h0M927.6 555.25h0M927.98 558.11h0M928.35 560.98h0M928.73 563.84h0M929.11 566.71h0M929.48 569.57h0M929.86 572.44h0M930.24 575.3h0M930.61 578.17h0M930.99 581.03h0M931.37 583.9h0M931.74 586.76h0" style="fill:none;stroke:#00ffff;stroke-width:4.8;stroke-linecap:round"/></g></g><g id="line2d_147"><path d="M 785.59 13.75 L 785.69 25.21 L 788.79 71.05 L 790.49 93.97 L 791.06 96.84 L 792.94 102.57 L 799.53 108.3 L 802.12 111.16 L 809.65 122.62 L 812 125.49 L 820.47 134.08 L 823.47 136.95 L 825.88 139.81 L 833.5 151.27 L 839.6 162.74 L 843.46 168.47 L 847.44 174.2 L 849.28 177.06 L 858.29 194.25 L 859.47 197.12 L 866.41 217.17 L 869.99 228.63 L 878.32 265.88 L 887.63 300.26 L 895.84 337.5 L 904.59 383.34 L 909.11 406.27 L 909.53 409.13 L 913.88 452.11 L 921.24 518 L 930.27 586.76 L 930.27 586.76 " clip-path="url(#p26298f7945)" style="fill: none; stroke: #00ffff; stroke-width: 2; stroke-linecap: square"/><g clip-path="url(#p26298f7945)"><path d="M785.59 13.75h0M785.59 16.62h0M785.59 19.48h0M785.59 22.35h0M785.69 25.21h0M785.88 28.08h0M786.06 30.94h0M786.25 33.81h0M786.44 36.67h0M786.63 39.54h0M786.82 42.4h0M787 45.27h0M787.19 48.13h0M787.38 51h0M787.57 53.86h0M787.76 56.73h0M787.95 59.59h0M788.16 62.46h0M788.37 65.32h0M788.58 68.19h0M788.79 71.05h0M789 73.92h0M789.22 76.78h0M789.43 79.65h0M789.64 82.51h0M789.85 85.38h0M790.06 88.24h0M790.27 91.11h0M790.49 93.97h0M791.06 96.84h0M792 99.7h0M792.94 102.57h0M796.24 105.43h0M799.53 108.3h0M802.12 111.16h0M804 114.03h0M805.88 116.89h0M807.77 119.76h0M809.65 122.62h0M812 125.49h0M814.82 128.35h0M817.65 131.22h0M820.47 134.08h0M823.47 136.95h0M825.88 139.81h0M827.8 142.68h0M829.73 145.54h0M831.65 148.41h0M833.5 151.27h0M835.03 154.14h0M836.55 157h0M838.08 159.87h0M839.6 162.74h0M841.47 165.6h0M843.46 168.47h0M845.45 171.33h0M847.44 174.2h0M849.28 177.06h0M850.78 179.93h0M852.28 182.79h0M853.79 185.66h0M855.29 188.52h0M856.79 191.39h0M858.29 194.25h0M859.47 197.12h0M860.48 199.98h0M861.49 202.85h0M862.5 205.71h0M863.5 208.58h0M864.51 211.44h0M865.52 214.31h0M866.41 217.17h0M867.31 220.04h0M868.2 222.9h0M869.1 225.77h0M869.99 228.63h0M870.62 231.5h0M871.26 234.36h0M871.89 237.23h0M872.53 240.09h0M873.16 242.96h0M873.8 245.82h0M874.44 248.69h0M875.07 251.55h0M875.71 254.42h0M876.34 257.28h0M876.98 260.15h0M877.61 263.01h0M878.32 265.88h0M879.09 268.74h0M879.87 271.61h0M880.65 274.47h0M881.42 277.34h0M882.2 280.2h0M882.97 283.07h0M883.75 285.93h0M884.53 288.8h0M885.3 291.66h0M886.08 294.53h0M886.86 297.39h0M887.63 300.26h0M888.27 303.12h0M888.9 305.99h0M889.54 308.85h0M890.17 311.72h0M890.81 314.58h0M891.44 317.45h0M892.08 320.31h0M892.71 323.18h0M893.35 326.04h0M893.98 328.91h0M894.62 331.77h0M895.25 334.64h0M895.84 337.5h0M896.38 340.37h0M896.93 343.23h0M897.47 346.1h0M898.01 348.96h0M898.55 351.83h0M899.09 354.69h0M899.63 357.56h0M900.17 360.42h0M900.71 363.29h0M901.25 366.15h0M901.79 369.02h0M902.34 371.88h0M902.9 374.75h0M903.47 377.61h0M904.03 380.48h0M904.59 383.34h0M905.16 386.21h0M905.72 389.07h0M906.29 391.94h0M906.85 394.8h0M907.42 397.67h0M907.98 400.54h0M908.55 403.4h0M909.11 406.27h0M909.53 409.13h0M909.82 412h0M910.1 414.86h0M910.38 417.73h0M910.66 420.59h0M910.95 423.46h0M911.23 426.32h0M911.51 429.19h0M911.79 432.05h0M912.08 434.92h0M912.36 437.78h0M912.64 440.65h0M912.92 443.51h0M913.24 446.38h0M913.56 449.24h0M913.88 452.11h0M914.19 454.97h0M914.51 457.84h0M914.83 460.7h0M915.15 463.57h0M915.46 466.43h0M915.78 469.3h0M916.1 472.16h0M916.42 475.03h0M916.73 477.89h0M917.05 480.76h0M917.37 483.62h0M917.69 486.49h0M918 489.35h0M918.32 492.22h0M918.64 495.08h0M918.96 497.95h0M919.27 500.81h0M919.59 503.68h0M919.91 506.54h0M920.23 509.41h0M920.54 512.27h0M920.86 515.14h0M921.24 518h0M921.61 520.87h0M921.99 523.73h0M922.37 526.6h0M922.74 529.46h0M923.12 532.33h0M923.5 535.19h0M923.87 538.06h0M924.25 540.92h0M924.63 543.79h0M925 546.65h0M925.38 549.52h0M925.76 552.38h0M926.13 555.25h0M926.51 558.11h0M926.88 560.98h0M927.26 563.84h0M927.64 566.71h0M928.01 569.57h0M928.39 572.44h0M928.77 575.3h0M929.14 578.17h0M929.52 581.03h0M929.9 583.9h0M930.27 586.76h0" style="fill:none;stroke:#00ffff;stroke-width:4.8;stroke-linecap:round"/></g></g><g id="FillBetweenPolyCollection_3"><defs><path id="m6adc822fbb" d="M 791.87 -658.73 L 787.55 -658.73 L 787.64 -655.86 L 787.74 -653 L 787.83 -650.13 L 787.93 -647.27 L 788.02 -644.4 L 788.11 -641.54 L 788.21 -638.67 L 788.3 -635.81 L 788.4 -632.94 L 788.49 -630.08 L 788.59 -627.21 L 788.68 -624.35 L 788.77 -621.48 L 788.87 -618.62 L 788.96 -615.75 L 789.06 -612.89 L 789.15 -610.02 L 789.24 -607.16 L 789.34 -604.29 L 789.43 -601.43 L 789.53 -598.56 L 789.62 -595.7 L 789.71 -592.83 L 789.81 -589.97 L 789.9 -587.1 L 790.78 -584.24 L 791.66 -581.37 L 792.54 -578.51 L 793.42 -575.64 L 794.3 -572.78 L 796 -569.91 L 797.89 -567.05 L 799.78 -564.18 L 801.67 -561.32 L 803.56 -558.45 L 805.92 -555.59 L 808.29 -552.72 L 810.65 -549.86 L 813.01 -546.99 L 815.37 -544.13 L 817.44 -541.26 L 819.51 -538.4 L 821.57 -535.53 L 823.64 -532.67 L 825.71 -529.8 L 827.37 -526.94 L 829.02 -524.07 L 830.68 -521.21 L 832.33 -518.34 L 833.99 -515.48 L 835.48 -512.61 L 836.97 -509.74 L 838.46 -506.88 L 839.95 -504.01 L 841.45 -501.15 L 842.94 -498.28 L 844.43 -495.42 L 845.92 -492.55 L 847.41 -489.69 L 848.9 -486.82 L 850.39 -483.96 L 851.89 -481.09 L 853.18 -478.23 L 854.27 -475.36 L 855.36 -472.5 L 856.45 -469.63 L 857.54 -466.77 L 858.63 -463.9 L 859.72 -461.04 L 860.82 -458.17 L 861.91 -455.31 L 863.01 -452.44 L 864.1 -449.58 L 865.2 -446.71 L 866.29 -443.85 L 867.03 -440.98 L 867.78 -438.12 L 868.52 -435.25 L 869.26 -432.39 L 870 -429.52 L 870.75 -426.66 L 871.49 -423.79 L 872.23 -420.93 L 872.97 -418.06 L 873.72 -415.2 L 874.46 -412.33 L 875.2 -409.47 L 875.94 -406.6 L 876.69 -403.74 L 877.43 -400.87 L 878.17 -398.01 L 878.91 -395.14 L 879.65 -392.28 L 880.4 -389.41 L 881.14 -386.55 L 881.88 -383.68 L 882.62 -380.82 L 883.37 -377.95 L 884.11 -375.09 L 884.85 -372.22 L 885.31 -369.36 L 885.77 -366.49 L 886.23 -363.63 L 886.69 -360.76 L 887.15 -357.9 L 887.61 -355.03 L 888.07 -352.17 L 888.53 -349.3 L 888.99 -346.44 L 889.45 -343.57 L 889.91 -340.71 L 890.37 -337.84 L 890.83 -334.98 L 891.29 -332.11 L 891.75 -329.25 L 892.21 -326.38 L 892.67 -323.52 L 893.13 -320.65 L 893.59 -317.79 L 894.05 -314.92 L 894.51 -312.06 L 894.97 -309.19 L 895.43 -306.33 L 895.89 -303.46 L 896.35 -300.6 L 896.9 -297.73 L 897.45 -294.87 L 898 -292 L 898.55 -289.14 L 899.11 -286.27 L 899.66 -283.41 L 900.21 -280.54 L 900.76 -277.68 L 901.31 -274.81 L 901.86 -271.94 L 902.41 -269.08 L 902.96 -266.21 L 903.45 -263.35 L 903.89 -260.48 L 904.32 -257.62 L 904.76 -254.75 L 905.19 -251.89 L 905.63 -249.02 L 906.06 -246.16 L 906.5 -243.29 L 906.93 -240.43 L 907.37 -237.56 L 907.8 -234.7 L 908.24 -231.83 L 908.67 -228.97 L 909.1 -226.1 L 909.52 -223.24 L 909.94 -220.37 L 910.37 -217.51 L 910.79 -214.64 L 911.21 -211.78 L 911.64 -208.91 L 912.06 -206.05 L 912.48 -203.18 L 912.91 -200.32 L 913.33 -197.45 L 913.75 -194.59 L 914.18 -191.72 L 914.6 -188.86 L 915.03 -185.99 L 915.45 -183.13 L 915.87 -180.26 L 916.3 -177.4 L 916.72 -174.53 L 917.14 -171.67 L 917.57 -168.8 L 917.99 -165.94 L 918.41 -163.07 L 918.84 -160.21 L 919.26 -157.34 L 919.64 -154.48 L 920.01 -151.61 L 920.39 -148.75 L 920.77 -145.88 L 921.14 -143.02 L 921.52 -140.15 L 921.89 -137.29 L 922.27 -134.42 L 922.65 -131.56 L 923.02 -128.69 L 923.4 -125.83 L 923.78 -122.96 L 924.15 -120.1 L 924.53 -117.23 L 924.91 -114.37 L 925.28 -111.5 L 925.66 -108.64 L 926.03 -105.77 L 926.41 -102.91 L 926.79 -100.04 L 927.16 -97.18 L 927.54 -94.31 L 927.92 -91.45 L 928.29 -88.58 L 928.67 -85.72 L 930.11 -85.72 L 930.11 -85.72 L 929.73 -88.58 L 929.36 -91.45 L 928.98 -94.31 L 928.6 -97.18 L 928.23 -100.04 L 927.85 -102.91 L 927.47 -105.77 L 927.1 -108.64 L 926.72 -111.5 L 926.35 -114.37 L 925.97 -117.23 L 925.59 -120.1 L 925.22 -122.96 L 924.84 -125.83 L 924.46 -128.69 L 924.09 -131.56 L 923.71 -134.42 L 923.33 -137.29 L 922.96 -140.15 L 922.58 -143.02 L 922.21 -145.88 L 921.83 -148.75 L 921.45 -151.61 L 921.08 -154.48 L 920.7 -157.34 L 920.28 -160.21 L 919.85 -163.07 L 919.43 -165.94 L 919.01 -168.8 L 918.58 -171.67 L 918.16 -174.53 L 917.74 -177.4 L 917.31 -180.26 L 916.89 -183.13 L 916.47 -185.99 L 916.04 -188.86 L 915.62 -191.72 L 915.19 -194.59 L 914.77 -197.45 L 914.35 -200.32 L 913.92 -203.18 L 913.5 -206.05 L 913.08 -208.91 L 912.65 -211.78 L 912.23 -214.64 L 911.81 -217.51 L 911.38 -220.37 L 910.96 -223.24 L 910.54 -226.1 L 910.11 -228.97 L 909.68 -231.83 L 909.24 -234.7 L 908.81 -237.56 L 908.37 -240.43 L 907.94 -243.29 L 907.5 -246.16 L 907.07 -249.02 L 906.63 -251.89 L 906.2 -254.75 L 905.76 -257.62 L 905.33 -260.48 L 904.89 -263.35 L 904.51 -266.21 L 904.19 -269.08 L 903.87 -271.94 L 903.55 -274.81 L 903.23 -277.68 L 902.91 -280.54 L 902.59 -283.41 L 902.27 -286.27 L 901.95 -289.14 L 901.63 -292 L 901.31 -294.87 L 900.99 -297.73 L 900.67 -300.6 L 900.24 -303.46 L 899.81 -306.33 L 899.37 -309.19 L 898.94 -312.06 L 898.5 -314.92 L 898.07 -317.79 L 897.64 -320.65 L 897.2 -323.52 L 896.77 -326.38 L 896.33 -329.25 L 895.9 -332.11 L 895.47 -334.98 L 895.03 -337.84 L 894.6 -340.71 L 894.16 -343.57 L 893.73 -346.44 L 893.3 -349.3 L 892.86 -352.17 L 892.43 -355.03 L 892 -357.9 L 891.56 -360.76 L 891.13 -363.63 L 890.69 -366.49 L 890.26 -369.36 L 889.83 -372.22 L 889.11 -375.09 L 888.39 -377.95 L 887.68 -380.82 L 886.96 -383.68 L 886.25 -386.55 L 885.53 -389.41 L 884.81 -392.28 L 884.1 -395.14 L 883.38 -398.01 L 882.66 -400.87 L 881.95 -403.74 L 881.23 -406.6 L 880.52 -409.47 L 879.8 -412.33 L 879.08 -415.2 L 878.37 -418.06 L 877.65 -420.93 L 876.93 -423.79 L 876.22 -426.66 L 875.5 -429.52 L 874.79 -432.39 L 874.07 -435.25 L 873.35 -438.12 L 872.64 -440.98 L 871.92 -443.85 L 870.85 -446.71 L 869.78 -449.58 L 868.71 -452.44 L 867.65 -455.31 L 866.58 -458.17 L 865.5 -461.04 L 864.43 -463.9 L 863.36 -466.77 L 862.28 -469.63 L 861.21 -472.5 L 860.14 -475.36 L 859.07 -478.23 L 857.79 -481.09 L 856.32 -483.96 L 854.85 -486.82 L 853.37 -489.69 L 851.9 -492.55 L 850.43 -495.42 L 848.96 -498.28 L 847.48 -501.15 L 846.01 -504.01 L 844.54 -506.88 L 843.06 -509.74 L 841.59 -512.61 L 840.12 -515.48 L 838.48 -518.34 L 836.84 -521.21 L 835.21 -524.07 L 833.57 -526.94 L 831.93 -529.8 L 829.88 -532.67 L 827.83 -535.53 L 825.78 -538.4 L 823.73 -541.26 L 821.69 -544.13 L 819.34 -546.99 L 817 -549.86 L 814.66 -552.72 L 812.31 -555.59 L 809.97 -558.45 L 808.1 -561.32 L 806.22 -564.18 L 804.35 -567.05 L 802.48 -569.91 L 800.42 -572.78 L 799.18 -575.64 L 797.94 -578.51 L 796.7 -581.37 L 795.46 -584.24 L 794.22 -587.1 L 794.13 -589.97 L 794.03 -592.83 L 793.94 -595.7 L 793.85 -598.56 L 793.75 -601.43 L 793.66 -604.29 L 793.56 -607.16 L 793.47 -610.02 L 793.38 -612.89 L 793.28 -615.75 L 793.19 -618.62 L 793.09 -621.48 L 793 -624.35 L 792.91 -627.21 L 792.81 -630.08 L 792.72 -632.94 L 792.62 -635.81 L 792.53 -638.67 L 792.43 -641.54 L 792.34 -644.4 L 792.25 -647.27 L 792.15 -650.13 L 792.06 -653 L 791.96 -655.86 L 791.87 -658.73 z "/></defs><g clip-path="url(#p26298f7945)"><use href="#m6adc822fbb" x="0.36" y="672.84" style="fill: #ff0000"/></g></g><g id="patch_13"><path d="M 772.2 586.76 L 772.2 13.75" style="fill: none; stroke: #000000; stroke-width: 0.8; stroke-linejoin: miter; stroke-linecap: square"/></g><g id="patch_14"><path d="M 1061.64 586.76 L 1061.64 13.75" style="fill: none; stroke: #000000; stroke-width: 0.8; stroke-linejoin: miter; stroke-linecap: square"/></g><g id="patch_15"><path d="M 772.27 586.44 L 1061.42 586.44" style="fill: none; stroke: #000000; stroke-width: 0.8; stroke-linejoin: miter; stroke-linecap: square"/></g><g id="patch_16"><path d="M 772.27 14.04 L 1061.42 14.04" style="fill: none; stroke: #000000; stroke-width: 0.8; stroke-linejoin: miter; stroke-linecap: square"/></g><g id="line2d_148"><path d="M 786.18 13.75 L 786.65 20.91 L 787.12 28.08 L 787.59 35.24 L 788.06 42.4 L 788.53 49.57 L 789.06 56.73 L 789.59 63.89 L 790.12 71.05 L 790.65 78.22 L 791.18 85.38 L 793.53 92.54 L 801.77 99.7 L 806.47 106.87 L 811.18 114.03 L 818.23 121.19 L 825.29 128.35 L 829.56 135.52 L 833.82 142.68 L 837.2 149.84 L 840.58 157 L 844.99 164.17 L 849.4 171.33 L 852.74 178.49 L 856.07 185.66 L 859.4 192.82 L 861.64 199.98 L 863.87 207.14 L 866.11 214.31 L 868.34 221.47 L 870.58 228.63 L 872.17 235.79 L 873.75 242.96 L 875.34 250.12 L 876.93 257.28 L 878.52 264.44 L 880.46 271.61 L 882.4 278.77 L 884.34 285.93 L 886.28 293.1 L 888.22 300.26 L 889.81 307.42 L 891.4 314.58 L 892.98 321.75 L 894.57 328.91 L 896.16 336.07 L 897.51 343.23 L 898.87 350.4 L 900.22 357.56 L 901.57 364.72 L 902.92 371.88 L 904.34 379.05 L 905.75 386.21 L 907.16 393.37 L 908.57 400.54 L 909.98 407.7 L 910.69 414.86 L 911.39 422.02 L 912.1 429.19 L 912.8 436.35 L 913.51 443.51 L 914.3 450.67 L 915.1 457.84 L 915.89 465 L 916.69 472.16 L 917.48 479.32 L 918.27 486.49 L 919.07 493.65 L 919.86 500.81 L 920.66 507.97 L 921.45 515.14 L 922.39 522.3 L 923.33 529.46 L 924.27 536.63 L 925.21 543.79 L 926.16 550.95 L 927.1 558.11 L 928.04 565.28 L 928.98 572.44 L 929.92 579.6 L 930.86 586.76 " clip-path="url(#p26298f7945)" style="fill: none; stroke: #0000ff; stroke-width: 2; stroke-linecap: square"/><g clip-path="url(#p26298f7945)"><path d="M786.18 13.75h0M786.65 20.91h0M787.12 28.08h0M787.59 35.24h0M788.06 42.4h0M788.53 49.57h0M789.06 56.73h0M789.59 63.89h0M790.12 71.05h0M790.65 78.22h0M791.18 85.38h0M793.53 92.54h0M801.77 99.7h0M806.47 106.87h0M811.18 114.03h0M818.23 121.19h0M825.29 128.35h0M829.56 135.52h0M833.82 142.68h0M837.2 149.84h0M840.58 157h0M844.99 164.17h0M849.4 171.33h0M852.74 178.49h0M856.07 185.66h0M859.4 192.82h0M861.64 199.98h0M863.87 207.14h0M866.11 214.31h0M868.34 221.47h0M870.58 228.63h0M872.17 235.79h0M873.75 242.96h0M875.34 250.12h0M876.93 257.28h0M878.52 264.44h0M880.46 271.61h0M882.4 278.77h0M884.34 285.93h0M886.28 293.1h0M888.22 300.26h0M889.81 307.42h0M891.4 314.58h0M892.98 321.75h0M894.57 328.91h0M896.16 336.07h0M897.51 343.23h0M898.87 350.4h0M900.22 357.56h0M901.57 364.72h0M902.92 371.88h0M904.34 379.05h0M905.75 386.21h0M907.16 393.37h0M908.57 400.54h0M909.98 407.7h0M910.69 414.86h0M911.39 422.02h0M912.1 429.19h0M912.8 436.35h0M913.51 443.51h0M914.3 450.67h0M915.1 457.84h0M915.89 465h0M916.69 472.16h0M917.48 479.32h0M918.27 486.49h0M919.07 493.65h0M919.86 500.81h0M920.66 507.97h0M921.45 515.14h0M922.39 522.3h0M923.33 529.46h0M924.27 536.63h0M925.21 543.79h0M926.16 550.95h0M927.1 558.11h0M928.04 565.28h0M928.98 572.44h0M929.92 579.6h0M930.86 586.76h0" style="fill:none;stroke:#0000ff;stroke-width:8.6;stroke-linecap:round"/></g></g><g id="line2d_149"><path d="M 789.71 13.75 L 789.8 16.62 L 789.9 19.48 L 789.99 22.35 L 790.09 25.21 L 790.18 28.08 L 790.27 30.94 L 790.42 35.24 L 790.65 42.4 L 790.89 49.57 L 791.12 56.73 L 791.36 63.89 L 791.59 71.05 L 791.83 78.22 L 792.06 85.38 L 797.36 99.7 L 806.77 114.03 L 818.53 128.35 L 828.82 142.68 L 837.05 157 L 855.58 192.82 L 869.11 228.63 L 887.34 300.26 L 898.51 371.88 L 909.39 443.51 L 919.98 515.14 L 929.39 586.76 L 934.37 673.48 " clip-path="url(#p26298f7945)" style="fill: none; stroke: #ff0000; stroke-width: 2; stroke-linecap: square"/><g clip-path="url(#p26298f7945)"><path d="M789.71 13.75h0M789.8 16.62h0M789.9 19.48h0M789.99 22.35h0M790.09 25.21h0M790.18 28.08h0M790.27 30.94h0M790.42 35.24h0M790.65 42.4h0M790.89 49.57h0M791.12 56.73h0M791.36 63.89h0M791.59 71.05h0M791.83 78.22h0M792.06 85.38h0M797.36 99.7h0M806.77 114.03h0M818.53 128.35h0M828.82 142.68h0M837.05 157h0M855.58 192.82h0M869.11 228.63h0M887.34 300.26h0M898.51 371.88h0M909.39 443.51h0M919.98 515.14h0M929.39 586.76h0M937.62 730.02h0" style="fill:none;stroke:#ff0000;stroke-width:8.6;stroke-linecap:round"/></g></g><g id="line2d_150"><path d="M 794.41 13.75 L 794.72 16.62 L 795.03 19.48 L 795.33 22.35 L 795.64 25.21 L 795.94 28.08 L 796.25 30.94 L 796.71 35.24 L 797.47 42.4 L 798.24 49.57 L 799 56.73 L 799.77 63.89 L 800.53 71.05 L 801.3 78.22 L 802.06 85.38 L 809.41 99.7 L 821.47 114.03 L 834.7 128.35 L 845.88 142.68 L 853.52 157 L 867.93 192.82 L 878.52 228.63 L 891.75 300.26 L 902.04 371.88 L 910.86 443.51 L 921.16 515.14 L 930.27 586.76 L 936.5 673.48 " clip-path="url(#p26298f7945)" style="fill: none; stroke: #008000; stroke-width: 2; stroke-linecap: square"/><g clip-path="url(#p26298f7945)"><path d="M794.41 13.75h0M794.72 16.62h0M795.03 19.48h0M795.33 22.35h0M795.64 25.21h0M795.94 28.08h0M796.25 30.94h0M796.71 35.24h0M797.47 42.4h0M798.24 49.57h0M799 56.73h0M799.77 63.89h0M800.53 71.05h0M801.3 78.22h0M802.06 85.38h0M809.41 99.7h0M821.47 114.03h0M834.7 128.35h0M845.88 142.68h0M853.52 157h0M867.93 192.82h0M878.52 228.63h0M891.75 300.26h0M902.04 371.88h0M910.86 443.51h0M921.16 515.14h0M930.27 586.76h0M940.56 730.02h0" style="fill:none;stroke:#008000;stroke-width:8.6;stroke-linecap:round"/></g></g><g id="line2d_151"><path d="M 791.2 14.46 L 791.25 15.96 L 791.3 17.54 L 791.36 19.22 L 791.42 21.03 L 791.48 22.98 L 791.55 25.11 L 791.63 27.47 L 791.72 30.09 L 791.81 33.04 L 791.92 36.4 L 792.05 40.25 L 792.2 44.69 L 792.38 49.87 L 792.88 55.93 L 793.47 63.08 L 794.2 71.55 L 795.89 81.62 L 797.36 93.64 L 806.18 108.02 L 821.47 125.28 L 836.17 146.01 L 849.4 170.94 L 859.99 200.93 L 870.58 237.01 L 882.93 280.38 L 894.1 332.45 L 904.69 394.86 L 914.69 469.48 L 927.63 558.42 L 937.62 664.03 " clip-path="url(#p26298f7945)" style="fill: none; stroke: #ff00ff; stroke-width: 2; stroke-linecap: square"/><g clip-path="url(#p26298f7945)"><path d="M791.2 14.46h0M791.25 15.96h0M791.3 17.54h0M791.36 19.22h0M791.42 21.03h0M791.48 22.98h0M791.55 25.11h0M791.63 27.47h0M791.72 30.09h0M791.81 33.04h0M791.92 36.4h0M792.05 40.25h0M792.2 44.69h0M792.38 49.87h0M792.88 55.93h0M793.47 63.08h0M794.2 71.55h0M795.89 81.62h0M797.36 93.64h0M806.18 108.02h0M821.47 125.28h0M836.17 146.01h0M849.4 170.94h0M859.99 200.93h0M870.58 237.01h0M882.93 280.38h0M894.1 332.45h0M904.69 394.86h0M914.69 469.48h0M927.63 558.42h0M937.62 664.03h0" style="fill:none;stroke:#ff00ff;stroke-width:8.6;stroke-linecap:round"/></g></g></g><g id="axes_4"><g id="patch_17"><path d="M 1125.94 402.77 L 1415.52 402.77 L 1415.52 197.21 L 1125.94 197.21 z " style="fill: #97b6e1"/></g><g id="matplotlib.axis_7"><g id="xtick_15"><g id="line2d_152"><defs><path id="m4fe1ebdd52" d="M 0 0 L 0 6.2 " style="stroke: #000000; stroke-width: 2"/></defs><g><use href="#m4fe1ebdd52" x="1142.28" y="402.84" style="stroke: #000000; stroke-width: 2"/></g></g><g id="line2d_153"><defs><path id="m1434a1df1b" d="M 0 0 L 0 -6.2 " style="stroke: #000000; stroke-width: 2"/></defs><g><use href="#m1434a1df1b" x="1142.28" y="196.92" style="stroke: #000000; stroke-width: 2"/></g></g><g id="text_35"><text style="font-size: 16.4px; font-family: 'DejaVu Sans', 'Liberation Sans', sans-serif" transform="translate(1129.21 456) rotate(-45)">81°W</text></g></g><g id="xtick_16"><g id="line2d_154"><g><use href="#m4fe1ebdd52" x="1190.52" y="402.84" style="stroke: #000000; stroke-width: 2"/></g></g><g id="line2d_155"><g><use href="#m1434a1df1b" x="1190.52" y="196.92" style="stroke: #000000; stroke-width: 2"/></g></g><g id="text_36"><text style="font-size: 16.4px; font-family: 'DejaVu Sans', 'Liberation Sans', sans-serif" transform="translate(1177.48 456) rotate(-45)">78°W</text></g></g><g id="xtick_17"><g id="line2d_156"><g><use href="#m4fe1ebdd52" x="1238.76" y="402.84" style="stroke: #000000; stroke-width: 2"/></g></g><g id="line2d_157"><g><use href="#m1434a1df1b" x="1238.76" y="196.92" style="stroke: #000000; stroke-width: 2"/></g></g><g id="text_37"><text style="font-size: 16.4px; font-family: 'DejaVu Sans', 'Liberation Sans', sans-serif" transform="translate(1225.74 456) rotate(-45)">75°W</text></g></g><g id="xtick_18"><g id="line2d_158"><g><use href="#m4fe1ebdd52" x="1287" y="402.84" style="stroke: #000000; stroke-width: 2"/></g></g><g id="line2d_159"><g><use href="#m1434a1df1b" x="1287" y="196.92" style="stroke: #000000; stroke-width: 2"/></g></g><g id="text_38"><text style="font-size: 16.4px; font-family: 'DejaVu Sans', 'Liberation Sans', sans-serif" transform="translate(1274.01 456) rotate(-45)">72°W</text></g></g><g id="xtick_19"><g id="line2d_160"><g><use href="#m4fe1ebdd52" x="1335.24" y="402.84" style="stroke: #000000; stroke-width: 2"/></g></g><g id="line2d_161"><g><use href="#m1434a1df1b" x="1335.24" y="196.92" style="stroke: #000000; stroke-width: 2"/></g></g><g id="text_39"><text style="font-size: 16.4px; font-family: 'DejaVu Sans', 'Liberation Sans', sans-serif" transform="translate(1322.27 456) rotate(-45)">69°W</text></g></g><g id="xtick_20"><g id="line2d_162"><g><use href="#m4fe1ebdd52" x="1383.48" y="402.84" style="stroke: #000000; stroke-width: 2"/></g></g><g id="line2d_163"><g><use href="#m1434a1df1b" x="1383.48" y="196.92" style="stroke: #000000; stroke-width: 2"/></g></g><g id="text_40"><text style="font-size: 16.4px; font-family: 'DejaVu Sans', 'Liberation Sans', sans-serif" transform="translate(1370.53 456) rotate(-45)">66°W</text></g></g><g id="xtick_21"><g id="line2d_164"><defs><path id="m1bd83a09a3" d="M 0 0 L 0 2 " style="stroke: #000000; stroke-width: 1.2"/></defs><g><use href="#m1bd83a09a3" x="1125.72" y="402.84" style="stroke: #000000; stroke-width: 1.2"/></g></g><g id="line2d_165"><defs><path id="m8f6a66b58f" d="M 0 0 L 0 -2 " style="stroke: #000000; stroke-width: 1.2"/></defs><g><use href="#m8f6a66b58f" x="1125.72" y="196.92" style="stroke: #000000; stroke-width: 1.2"/></g></g></g><g id="xtick_22"><g id="line2d_166"><g><use href="#m1bd83a09a3" x="1158.12" y="402.84" style="stroke: #000000; stroke-width: 1.2"/></g></g><g id="line2d_167"><g><use href="#m8f6a66b58f" x="1158.12" y="196.92" style="stroke: #000000; stroke-width: 1.2"/></g></g></g><g id="xtick_23"><g id="line2d_168"><g><use href="#m1bd83a09a3" x="1173.96" y="402.84" style="stroke: #000000; stroke-width: 1.2"/></g></g><g id="line2d_169"><g><use href="#m8f6a66b58f" x="1173.96" y="196.92" style="stroke: #000000; stroke-width: 1.2"/></g></g></g><g id="xtick_24"><g id="line2d_170"><g><use href="#m1bd83a09a3" x="1206.36" y="402.84" style="stroke: #000000; stroke-width: 1.2"/></g></g><g id="line2d_171"><g><use href="#m8f6a66b58f" x="1206.36" y="196.92" style="stroke: #000000; stroke-width: 1.2"/></g></g></g><g id="xtick_25"><g id="line2d_172"><g><use href="#m1bd83a09a3" x="1222.2" y="402.84" style="stroke: #000000; stroke-width: 1.2"/></g></g><g id="line2d_173"><g><use href="#m8f6a66b58f" x="1222.2" y="196.92" style="stroke: #000000; stroke-width: 1.2"/></g></g></g><g id="xtick_26"><g id="line2d_174"><g><use href="#m1bd83a09a3" x="1254.6" y="402.84" style="stroke: #000000; stroke-width: 1.2"/></g></g><g id="line2d_175"><g><use href="#m8f6a66b58f" x="1254.6" y="196.92" style="stroke: #000000; stroke-width: 1.2"/></g></g></g><g id="xtick_27"><g id="line2d_176"><g><use href="#m1bd83a09a3" x="1270.44" y="402.84" style="stroke: #000000; stroke-width: 1.2"/></g></g><g id="line2d_177"><g><use href="#m8f6a66b58f" x="1270.44" y="196.92" style="stroke: #000000; stroke-width: 1.2"/></g></g></g><g id="xtick_28"><g id="line2d_178"><g><use href="#m1bd83a09a3" x="1302.84" y="402.84" style="stroke: #000000; stroke-width: 1.2"/></g></g><g id="line2d_179"><g><use href="#m8f6a66b58f" x="1302.84" y="196.92" style="stroke: #000000; stroke-width: 1.2"/></g></g></g><g id="xtick_29"><g id="line2d_180"><g><use href="#m1bd83a09a3" x="1318.68" y="402.84" style="stroke: #000000; stroke-width: 1.2"/></g></g><g id="line2d_181"><g><use href="#m8f6a66b58f" x="1318.68" y="196.92" style="stroke: #000000; stroke-width: 1.2"/></g></g></g><g id="xtick_30"><g id="line2d_182"><g><use href="#m1bd83a09a3" x="1351.08" y="402.84" style="stroke: #000000; stroke-width: 1.2"/></g></g><g id="line2d_183"><g><use href="#m8f6a66b58f" x="1351.08" y="196.92" style="stroke: #000000; stroke-width: 1.2"/></g></g></g><g id="xtick_31"><g id="line2d_184"><g><use href="#m1bd83a09a3" x="1366.92" y="402.84" style="stroke: #000000; stroke-width: 1.2"/></g></g><g id="line2d_185"><g><use href="#m8f6a66b58f" x="1366.92" y="196.92" style="stroke: #000000; stroke-width: 1.2"/></g></g></g><g id="xtick_32"><g id="line2d_186"><g><use href="#m1bd83a09a3" x="1399.32" y="402.84" style="stroke: #000000; stroke-width: 1.2"/></g></g><g id="line2d_187"><g><use href="#m8f6a66b58f" x="1399.32" y="196.92" style="stroke: #000000; stroke-width: 1.2"/></g></g></g><g id="xtick_33"><g id="line2d_188"><g><use href="#m1bd83a09a3" x="1415.88" y="402.84" style="stroke: #000000; stroke-width: 1.2"/></g></g><g id="line2d_189"><g><use href="#m8f6a66b58f" x="1415.88" y="196.92" style="stroke: #000000; stroke-width: 1.2"/></g></g></g></g><g id="matplotlib.axis_8"><g id="ytick_49"><g id="line2d_190"><defs><path id="mf09594706f" d="M 0 0 L -6.2 0 " style="stroke: #000000; stroke-width: 2"/></defs><g><use href="#mf09594706f" x="1125.72" y="196.92" style="stroke: #000000; stroke-width: 2"/></g></g><g id="line2d_191"><defs><path id="m01cc233068" d="M 0 0 L 6.2 0 " style="stroke: #000000; stroke-width: 2"/></defs><g><use href="#m01cc233068" x="1415.88" y="196.92" style="stroke: #000000; stroke-width: 2"/></g></g><g id="text_41"><text style="font-size: 16.4px; font-family: 'DejaVu Sans', 'Liberation Sans', sans-serif; text-anchor: end" x="1116.34" y="204.88" transform="rotate(-0 1116.34 204.88)">36°N</text></g></g><g id="ytick_50"><g id="line2d_192"><g><use href="#mf09594706f" x="1125.72" y="255.96" style="stroke: #000000; stroke-width: 2"/></g></g><g id="line2d_193"><g><use href="#m01cc233068" x="1415.88" y="255.96" style="stroke: #000000; stroke-width: 2"/></g></g><g id="text_42"><text style="font-size: 16.4px; font-family: 'DejaVu Sans', 'Liberation Sans', sans-serif; text-anchor: end" x="1116.34" y="263.35" transform="rotate(-0 1116.34 263.35)">33°N</text></g></g><g id="ytick_51"><g id="line2d_194"><g><use href="#mf09594706f" x="1125.72" y="312.12" style="stroke: #000000; stroke-width: 2"/></g></g><g id="line2d_195"><g><use href="#m01cc233068" x="1415.88" y="312.12" style="stroke: #000000; stroke-width: 2"/></g></g><g id="text_43"><text style="font-size: 16.4px; font-family: 'DejaVu Sans', 'Liberation Sans', sans-serif; text-anchor: end" x="1116.34" y="319.87" transform="rotate(-0 1116.34 319.87)">30°N</text></g></g><g id="ytick_52"><g id="line2d_196"><g><use href="#mf09594706f" x="1125.72" y="366.84" style="stroke: #000000; stroke-width: 2"/></g></g><g id="line2d_197"><g><use href="#m01cc233068" x="1415.88" y="366.84" style="stroke: #000000; stroke-width: 2"/></g></g><g id="text_44"><text style="font-size: 16.4px; font-family: 'DejaVu Sans', 'Liberation Sans', sans-serif; text-anchor: end" x="1116.34" y="374.7" transform="rotate(-0 1116.34 374.7)">27°N</text></g></g><g id="ytick_53"><g id="line2d_198"><defs><path id="md732b9c579" d="M 0 0 L -2 0 " style="stroke: #000000; stroke-width: 1.2"/></defs><g><use href="#md732b9c579" x="1125.72" y="402.84" style="stroke: #000000; stroke-width: 1.2"/></g></g><g id="line2d_199"><defs><path id="m58d2b23a09" d="M 0 0 L 2 0 " style="stroke: #000000; stroke-width: 1.2"/></defs><g><use href="#m58d2b23a09" x="1415.88" y="402.84" style="stroke: #000000; stroke-width: 1.2"/></g></g></g><g id="ytick_54"><g id="line2d_200"><g><use href="#md732b9c579" x="1125.72" y="384.84" style="stroke: #000000; stroke-width: 1.2"/></g></g><g id="line2d_201"><g><use href="#m58d2b23a09" x="1415.88" y="384.84" style="stroke: #000000; stroke-width: 1.2"/></g></g></g><g id="ytick_55"><g id="line2d_202"><g><use href="#md732b9c579" x="1125.72" y="348.84" style="stroke: #000000; stroke-width: 1.2"/></g></g><g id="line2d_203"><g><use href="#m58d2b23a09" x="1415.88" y="348.84" style="stroke: #000000; stroke-width: 1.2"/></g></g></g><g id="ytick_56"><g id="line2d_204"><g><use href="#md732b9c579" x="1125.72" y="330.84" style="stroke: #000000; stroke-width: 1.2"/></g></g><g id="line2d_205"><g><use href="#m58d2b23a09" x="1415.88" y="330.84" style="stroke: #000000; stroke-width: 1.2"/></g></g></g><g id="ytick_57"><g id="line2d_206"><g><use href="#md732b9c579" x="1125.72" y="293.4" style="stroke: #000000; stroke-width: 1.2"/></g></g><g id="line2d_207"><g><use href="#m58d2b23a09" x="1415.88" y="293.4" style="stroke: #000000; stroke-width: 1.2"/></g></g></g><g id="ytick_58"><g id="line2d_208"><g><use href="#md732b9c579" x="1125.72" y="274.68" style="stroke: #000000; stroke-width: 1.2"/></g></g><g id="line2d_209"><g><use href="#m58d2b23a09" x="1415.88" y="274.68" style="stroke: #000000; stroke-width: 1.2"/></g></g></g><g id="ytick_59"><g id="line2d_210"><g><use href="#md732b9c579" x="1125.72" y="236.52" style="stroke: #000000; stroke-width: 1.2"/></g></g><g id="line2d_211"><g><use href="#m58d2b23a09" x="1415.88" y="236.52" style="stroke: #000000; stroke-width: 1.2"/></g></g></g><g id="ytick_60"><g id="line2d_212"><g><use href="#md732b9c579" x="1125.72" y="217.08" style="stroke: #000000; stroke-width: 1.2"/></g></g><g id="line2d_213"><g><use href="#m58d2b23a09" x="1415.88" y="217.08" style="stroke: #000000; stroke-width: 1.2"/></g></g></g></g><g id="patch_18"><path d="M 1123.2 194.4 L 1210.82 194.4 L 1210.82 196.92 L 1213.92 198 L 1216.8 198.43 L 1219.68 198.72 L 1221.84 199.08 L 1224 199.8 L 1226.16 201.23 L 1226.52 204.11 L 1224.36 206.26 L 1221.84 207.7 L 1218.96 209.14 L 1216.44 210.58 L 1215 212.73 L 1215.36 215.25 L 1217.16 217.04 L 1217.16 219.2 L 1215.36 221.36 L 1214.14 225.09 L 1212.12 224.02 L 1210.82 223.73 L 1207.8 223.59 L 1205.28 224.02 L 1202.4 225.45 L 1199.74 227.32 L 1197.22 229.05 L 1195.27 230.63 L 1193.62 232.21 L 1192.46 234.01 L 1191.74 236.45 L 1191.38 238.97 L 1189.8 238.53 L 1188.58 238.39 L 1185.12 238.25 L 1181.95 238.39 L 1179.58 239.33 L 1177.49 240.62 L 1175.76 242.42 L 1174.68 244.72 L 1172.23 248.38 L 1171.01 252.69 L 1167.26 255.78 L 1162.37 259.52 L 1157.4 262.54 L 1151.86 266.28 L 1146.31 270.59 L 1143.86 274.26 L 1140.77 279.21 L 1138.32 284.1 L 1136.45 289.06 L 1135.51 293.95 L 1135.22 298.62 L 1135.73 305.88 L 1136.88 310.84 L 1138.25 315.08 L 1140.48 320.18 L 1142.86 325.5 L 1145.16 330.6 L 1147.46 335.85 L 1149.12 340.67 L 1150.2 344.98 L 1152 352.52 L 1153.58 357.91 L 1154.66 361.65 L 1156.32 364.74 L 1157.26 367.55 L 1157.62 372.79 L 1157.47 376.96 L 1157.26 381.27 L 1155.96 387.89 L 1154.02 395.07 L 1152.14 399.6 L 1150.92 402.12 L 1150.2 404.27 L 1141.2 404.27 L 1140.84 401.04 L 1140.26 397.66 L 1140.19 394.21 L 1139.4 391.7 L 1136.3 388.53 L 1132.92 386.52 L 1130.4 384.58 L 1129.1 381.63 L 1128.46 378.04 L 1127.52 375.16 L 1127.38 373.22 L 1128.82 372.07 L 1129.82 371.36 L 1127.88 370.64 L 1123.2 370.64 z " clip-path="url(#pc8345bb2b6)" style="fill: #d2b48c; stroke: #000000; stroke-width: 1.87"/></g><g id="patch_19"><path d="M 1145.81 362.8 L 1147.9 364.89 L 1148.33 366.97 L 1147.68 369.49 L 1146.24 371.79 L 1143.72 370.21 L 1141.42 367.69 L 1141.63 366.76 L 1143.72 365.32 z " clip-path="url(#pc8345bb2b6)" style="fill: #b3b3b3"/></g><g id="line2d_214"><defs><path id="ma212e8884f" d="M 0 0.94 C 0.25 0.94 0.49 0.84 0.66 0.66 C 0.84 0.49 0.94 0.25 0.94 0 C 0.94 -0.25 0.84 -0.49 0.66 -0.66 C 0.49 -0.84 0.25 -0.94 0 -0.94 C -0.25 -0.94 -0.49 -0.84 -0.66 -0.66 C -0.84 -0.49 -0.94 -0.25 -0.94 0 C -0.94 0.25 -0.84 0.49 -0.66 0.66 C -0.49 0.84 -0.25 0.94 0 0.94 z "/></defs><g clip-path="url(#pc8345bb2b6)"><path d="M1137.82 359.35h0" style="fill:none;stroke:#b3b3b3;stroke-width:1.87;stroke-linecap:round"/></g></g><g id="line2d_215"><defs><path id="me77b61da7f" d="M 0 0.72 C 0.19 0.72 0.37 0.64 0.51 0.51 C 0.64 0.37 0.72 0.19 0.72 0 C 0.72 -0.19 0.64 -0.37 0.51 -0.51 C 0.37 -0.64 0.19 -0.72 0 -0.72 C -0.19 -0.72 -0.37 -0.64 -0.51 -0.51 C -0.64 -0.37 -0.72 -0.19 -0.72 0 C -0.72 0.19 -0.64 0.37 -0.51 0.51 C -0.37 0.64 -0.19 0.72 0 0.72 z "/></defs><g clip-path="url(#pc8345bb2b6)"><path d="M1137.46 350.37h0" style="fill:none;stroke:#b3b3b3;stroke-width:1.44;stroke-linecap:round"/></g></g><g id="line2d_216"><path d="M 1191.24 232.35 L 1187.78 228.9 L 1182.96 225.67 L 1178.57 221.93 L 1177.42 217.4 L 1177.42 213.88 L 1179.72 211.58 L 1176.26 206.98 L 1172.88 202.31 L 1169.28 196.56 " clip-path="url(#pc8345bb2b6)" style="fill: none; stroke: #97b6e1; stroke-width: 1.3; stroke-linecap: square"/></g><g id="line2d_217"><path d="M 1170.43 249.67 L 1167.84 244.36 L 1165.82 239.25 L 1163.52 231.78 L 1161.22 224.3 L 1158.91 216.18 L 1156.61 205.83 L 1153.44 200.87 L 1152 198.86 L 1152 196.56 " clip-path="url(#pc8345bb2b6)" style="fill: none; stroke: #97b6e1; stroke-width: 1.3; stroke-linecap: square"/></g><g id="line2d_218"><path d="M 1167.91 251.47 L 1162.08 249.03 L 1157.76 247.38 L 1152 243.85 L 1147.32 239.25 L 1143 236.09 L 1139.26 233.5 L 1136.52 229.62 L 1134.65 225.45 L 1133.5 216.18 L 1131.12 212.73 L 1123.2 212.01 " clip-path="url(#pc8345bb2b6)" style="fill: none; stroke: #97b6e1; stroke-width: 1.3; stroke-linecap: square"/></g><g id="line2d_219"><path d="M 1154.95 247.81 L 1159.27 250.9 L 1159.92 258.23 " clip-path="url(#pc8345bb2b6)" style="fill: none; stroke: #97b6e1; stroke-width: 1.3; stroke-linecap: square"/></g><g id="line2d_220"><path d="M 1134.65 234.65 L 1138.68 235.37 " clip-path="url(#pc8345bb2b6)" style="fill: none; stroke: #97b6e1; stroke-width: 1.3; stroke-linecap: square"/></g><g id="line2d_221"><path d="M 1123.2 275.62 L 1126.3 277.99 L 1129.68 281.73 L 1134 286.55 " clip-path="url(#pc8345bb2b6)" style="fill: none; stroke: #97b6e1; stroke-width: 1.3; stroke-linecap: square"/></g><g id="line2d_222"><path d="M 1135.94 304.15 L 1132.42 307.03 L 1131.48 310.84 L 1131.26 319.68 L 1134.72 325.5 L 1137.1 332.4 L 1141.7 335.85 L 1145.16 341.6 L 1144.01 346.2 L 1141.7 343.9 " clip-path="url(#pc8345bb2b6)" style="fill: none; stroke: #97b6e1; stroke-width: 1.3; stroke-linecap: square"/></g><g id="line2d_223"><path d="M 1202.83 196.56 L 1206.29 199.44 L 1210.9 200.01 " clip-path="url(#pc8345bb2b6)" style="fill: none; stroke: #97b6e1; stroke-width: 1.3; stroke-linecap: square"/></g><g id="line2d_224"><path d="M 1144.44 272.75 L 1141.06 268.43 L 1138.68 262.32 " clip-path="url(#pc8345bb2b6)" style="fill: none; stroke: #97b6e1; stroke-width: 1.3; stroke-linecap: square"/></g><g id="line2d_225"><path d="M 1180.87 238.1 L 1172.52 229.62 L 1164.1 221.07 L 1154.88 220.85 L 1145.59 220.57 L 1144.66 217.04 L 1143.86 214.46 L 1141.56 213.88 L 1123.2 213.31 " clip-path="url(#pc8345bb2b6)" style="fill: none; stroke: #000000; stroke-width: 0.94; stroke-linecap: square"/></g><g id="line2d_226"><path d="M 1143.86 273.68 L 1140.19 269.37 L 1137.67 263.19 L 1135.22 257.01 L 1131.55 252.69 L 1127.88 247.95 L 1126.58 245.94 L 1123.2 242.56 " clip-path="url(#pc8345bb2b6)" style="fill: none; stroke: #000000; stroke-width: 0.94; stroke-linecap: square"/></g><g id="line2d_227"><path d="M 1123.2 296.82 L 1126.3 297.04 L 1130.4 297.33 L 1134.58 297.69 " clip-path="url(#pc8345bb2b6)" style="fill: none; stroke: #000000; stroke-width: 0.94; stroke-linecap: square"/></g><g id="line2d_228"><path d="M 1171.8 248.67 L 1169.64 251.54 L 1166.4 254.78 L 1161.72 258.37 L 1157.04 261.25 L 1151.28 264.84 L 1146.24 268.07 L 1144.44 270.95 L 1141.56 274.9 L 1139.4 279.21 L 1137.6 283.53 L 1135.8 288.56 L 1134.72 293.59 " clip-path="url(#pc8345bb2b6)" style="fill: none; stroke: #000000; stroke-width: 3.24; stroke-linecap: round"/></g><g id="line2d_229"><path d="M 1145.52 265.56 L 1145.16 268.79 " clip-path="url(#pc8345bb2b6)" style="fill: none; stroke: #000000; stroke-width: 2.52; stroke-linecap: round"/></g><g id="line2d_230"><path d="M 1221.84 198.36 L 1222.2 204.47 " clip-path="url(#pc8345bb2b6)" style="fill: none; stroke: #000000; stroke-width: 2.3; stroke-linecap: round"/></g><g id="line2d_231"><path d="M 1207.8 207.2 L 1211.4 208.78 L 1214.64 210.22 L 1217.88 209.5 " clip-path="url(#pc8345bb2b6)" style="fill: none; stroke: #000000; stroke-width: 2.88; stroke-linecap: round"/></g><g id="line2d_232"><path d="M 1207.44 215.61 L 1210.68 217.26 L 1214.28 218.12 L 1217.16 217.04 " clip-path="url(#pc8345bb2b6)" style="fill: none; stroke: #000000; stroke-width: 2.88; stroke-linecap: round"/></g><g id="line2d_233"><path d="M 1224 200.51 L 1225.8 202.31 L 1224.72 204.83 " clip-path="url(#pc8345bb2b6)" style="fill: none; stroke: #000000; stroke-width: 1.8; stroke-linecap: round"/></g><g id="line2d_234"><path d="M 1215.36 220.64 L 1214.5 223.87 " clip-path="url(#pc8345bb2b6)" style="fill: none; stroke: #000000; stroke-width: 2.16; stroke-linecap: round"/></g><g id="line2d_235"><path d="M 1204.56 223.73 L 1201.68 225.31 " clip-path="url(#pc8345bb2b6)" style="fill: none; stroke: #000000; stroke-width: 2.16; stroke-linecap: round"/></g><g id="line2d_236"><path d="M 1155.24 362.23 L 1157.04 366.54 L 1157.47 371.21 " clip-path="url(#pc8345bb2b6)" style="fill: none; stroke: #000000; stroke-width: 2.3; stroke-linecap: round"/></g><g id="line2d_237"><path d="M 1141.2 399.24 L 1142.28 401.76 L 1146.96 401.97 L 1150.92 400.68 " clip-path="url(#pc8345bb2b6)" style="fill: none; stroke: #000000; stroke-width: 2.16; stroke-linecap: round"/></g><g id="line2d_238"><path d="M 1228.61 196.2 L 1230.19 199.08 L 1231.06 202.38 L 1231.63 205.9 L 1231.63 208.49 L 1230.77 212.37 L 1227.96 213.67 L 1224.72 215.1 L 1222.2 216.33 L 1219.68 217.91 L 1217.88 219.56 L 1216.37 221.21 L 1214.14 225.09 " clip-path="url(#pc8345bb2b6)" style="fill: none; stroke: #000000; stroke-width: 1.87; stroke-linecap: round"/></g><g id="line2d_239"><path d="M 1183.46 361.15 L 1187.28 363.16 L 1191.46 365.1 L 1194.48 365.61 " clip-path="url(#pc8345bb2b6)" style="fill: none; stroke: #000000; stroke-width: 2.02; stroke-linecap: round"/></g><g id="line2d_240"><path d="M 1173.89 371.14 L 1176.48 373.37 L 1178.93 375.09 L 1182.46 373.15 L 1181.45 369.49 L 1183.46 371.14 L 1186.92 371.14 L 1190.45 371.14 L 1192.97 373.15 L 1193.69 374.59 " clip-path="url(#pc8345bb2b6)" style="fill: none; stroke: #000000; stroke-width: 2.88; stroke-linecap: round"/></g><g id="line2d_241"><path d="M 1191.46 368.7 L 1194.48 367.11 L 1198.94 367.76 L 1201.46 370.64 L 1205.5 373.15 L 1207.15 375.09 L 1206.5 378.11 L 1203.77 379.48 L 1203.19 382.64 L 1203.48 386.09 " clip-path="url(#pc8345bb2b6)" style="fill: none; stroke: #000000; stroke-width: 3.74; stroke-linecap: round"/></g><g id="line2d_242"><path d="M 1201.68 371.93 L 1204.92 376.96 " clip-path="url(#pc8345bb2b6)" style="fill: none; stroke: #000000; stroke-width: 3.6; stroke-linecap: round"/></g><g id="line2d_243"><path d="M 1191.67 386.88 L 1194.48 390.11 L 1195.2 392.63 L 1193.47 394.35 L 1191.46 394.14 " clip-path="url(#pc8345bb2b6)" style="fill: none; stroke: #000000; stroke-width: 2.38; stroke-linecap: round"/></g><g id="line2d_244"><path d="M 1187.93 396.15 L 1186.7 398.59 L 1188.43 401.11 L 1189.44 402.84 " clip-path="url(#pc8345bb2b6)" style="fill: none; stroke: #000000; stroke-width: 3.02; stroke-linecap: round"/></g><g id="line2d_245"><path d="M 1197.43 401.83 L 1201.46 399.6 L 1206 398.09 L 1208.95 394.14 L 1210.46 392.41 L 1212.48 392.77 L 1216.01 395.65 L 1219.46 398.59 L 1220.83 401.11 " clip-path="url(#pc8345bb2b6)" style="fill: none; stroke: #000000; stroke-width: 2.38; stroke-linecap: round"/></g><g id="line2d_246"><path d="M 1170.14 388.1 L 1170 391.12 " clip-path="url(#pc8345bb2b6)" style="fill: none; stroke: #000000; stroke-width: 2.59; stroke-linecap: round"/></g><g id="line2d_247"><defs><path id="m3c31b022aa" d="M 0 1.37 C 0.36 1.37 0.71 1.22 0.97 0.97 C 1.22 0.71 1.37 0.36 1.37 0 C 1.37 -0.36 1.22 -0.71 0.97 -0.97 C 0.71 -1.22 0.36 -1.37 0 -1.37 C -0.36 -1.37 -0.71 -1.22 -0.97 -0.97 C -1.22 -0.71 -1.37 -0.36 -1.37 0 C -1.37 0.36 -1.22 0.71 -0.97 0.97 C -0.71 1.22 -0.36 1.37 0 1.37 z "/></defs><g clip-path="url(#pc8345bb2b6)"><use href="#m3c31b022aa" x="1187.64" y="366.12"/></g></g><g id="line2d_248"><defs><path id="me8a8084a8f" d="M 0 1.15 C 0.31 1.15 0.6 1.03 0.81 0.81 C 1.03 0.6 1.15 0.31 1.15 0 C 1.15 -0.31 1.03 -0.6 0.81 -0.81 C 0.6 -1.03 0.31 -1.15 0 -1.15 C -0.31 -1.15 -0.6 -1.03 -0.81 -0.81 C -1.03 -0.6 -1.15 -0.31 -1.15 0 C -1.15 0.31 -1.03 0.6 -0.81 0.81 C -0.6 1.03 -0.31 1.15 0 1.15 z "/></defs><g clip-path="url(#pc8345bb2b6)"><use href="#me8a8084a8f" x="1197.72" y="379.08"/></g></g><g id="line2d_249"><defs><path id="m9f954126c5" d="M 0 1.08 C 0.29 1.08 0.56 0.97 0.76 0.76 C 0.97 0.56 1.08 0.29 1.08 0 C 1.08 -0.29 0.97 -0.56 0.76 -0.76 C 0.56 -0.97 0.29 -1.08 0 -1.08 C -0.29 -1.08 -0.56 -0.97 -0.76 -0.76 C -0.97 -0.56 -1.08 -0.29 -1.08 0 C -1.08 0.29 -0.97 0.56 -0.76 0.76 C -0.56 0.97 -0.29 1.08 0 1.08 z "/></defs><g clip-path="url(#pc8345bb2b6)"><use href="#m9f954126c5" x="1197.72" y="382.68"/></g></g><g id="line2d_250"><defs><path id="mc90a55d76d" d="M 0 1.22 C 0.32 1.22 0.64 1.1 0.87 0.87 C 1.1 0.64 1.22 0.32 1.22 0 C 1.22 -0.32 1.1 -0.64 0.87 -0.87 C 0.64 -1.1 0.32 -1.22 0 -1.22 C -0.32 -1.22 -0.64 -1.1 -0.87 -0.87 C -1.1 -0.64 -1.22 -0.32 -1.22 0 C -1.22 0.32 -1.1 0.64 -0.87 0.87 C -0.64 1.1 -0.32 1.22 0 1.22 z "/></defs><g clip-path="url(#pc8345bb2b6)"><use href="#mc90a55d76d" x="1201.32" y="383.4"/></g></g><g id="line2d_251"><defs><path id="m2447282ff5" d="M 0 0.72 C 0.19 0.72 0.37 0.64 0.51 0.51 C 0.64 0.37 0.72 0.19 0.72 0 C 0.72 -0.19 0.64 -0.37 0.51 -0.51 C 0.37 -0.64 0.19 -0.72 0 -0.72 C -0.19 -0.72 -0.37 -0.64 -0.51 -0.51 C -0.64 -0.37 -0.72 -0.19 -0.72 0 C -0.72 0.19 -0.64 0.37 -0.51 0.51 C -0.37 0.64 -0.19 0.72 0 0.72 z "/></defs><g clip-path="url(#pc8345bb2b6)"><use href="#m2447282ff5" x="1171.8" y="394.92"/></g></g><g id="line2d_252"><g clip-path="url(#pc8345bb2b6)"><use href="#m2447282ff5" x="1171.8" y="397.08"/></g></g><g id="line2d_253"><defs><path id="m0c7b9120dd" d="M 0 0.58 C 0.15 0.58 0.3 0.52 0.41 0.41 C 0.52 0.3 0.58 0.15 0.58 0 C 0.58 -0.15 0.52 -0.3 0.41 -0.41 C 0.3 -0.52 0.15 -0.58 0 -0.58 C -0.15 -0.58 -0.3 -0.52 -0.41 -0.41 C -0.52 -0.3 -0.58 -0.15 -0.58 0 C -0.58 0.15 -0.52 0.3 -0.41 0.41 C -0.3 0.52 -0.15 0.58 0 0.58 z "/></defs><g clip-path="url(#pc8345bb2b6)"><use href="#m0c7b9120dd" x="1173.24" y="383.4"/></g></g><g id="line2d_254"><defs><path id="m207df4b51d" d="M 0 0.43 C 0.11 0.43 0.22 0.39 0.31 0.31 C 0.39 0.22 0.43 0.11 0.43 0 C 0.43 -0.11 0.39 -0.22 0.31 -0.31 C 0.22 -0.39 0.11 -0.43 0 -0.43 C -0.11 -0.43 -0.22 -0.39 -0.31 -0.31 C -0.39 -0.22 -0.43 -0.11 -0.43 0 C -0.43 0.11 -0.39 0.22 -0.31 0.31 C -0.22 0.39 -0.11 0.43 0 0.43 z "/></defs><g clip-path="url(#pc8345bb2b6)"><use href="#m207df4b51d" x="1176.84" y="384.84"/></g></g><g id="line2d_255"><g clip-path="url(#pc8345bb2b6)"><use href="#me8a8084a8f" x="1192.68" y="375.48"/></g></g><g id="line2d_256"><path d="M 1401.41 269.37 L 1403.28 268.29 L 1405.15 267.28 " clip-path="url(#pc8345bb2b6)" style="fill: none; stroke: #000000; stroke-width: 2.88; stroke-linecap: round"/></g><g id="line2d_257"><path d="M 1210.82 197.21 L 1415.52 197.21 L 1415.52 402.4 L 1151.14 402.4 " clip-path="url(#pc8345bb2b6)" style="fill: none; stroke: #000000; stroke-width: 1.87; stroke-linejoin: miter; stroke-linecap: square"/></g><g id="line2d_258"><path d="M 1141.06 402.4 L 1125.94 402.4 L 1125.94 370.64 " clip-path="url(#pc8345bb2b6)" style="fill: none; stroke: #000000; stroke-width: 1.87; stroke-linejoin: miter; stroke-linecap: square"/></g><g id="line2d_259"><path d="M 1235.66 394.43 L 1236.46 395.65 L 1237.25 396.87 L 1237.9 398.02 " clip-path="url(#pc8345bb2b6)" style="fill: none; stroke: #000000; stroke-width: 6.48; stroke-linecap: round"/><defs><path id="m097206eef1" d="M 0 3.67 C 0.97 3.67 1.91 3.29 2.6 2.6 C 3.29 1.91 3.67 0.97 3.67 0 C 3.67 -0.97 3.29 -1.91 2.6 -2.6 C 1.91 -3.29 0.97 -3.67 0 -3.67 C -0.97 -3.67 -1.91 -3.29 -2.6 -2.6 C -3.29 -1.91 -3.67 -0.97 -3.67 0 C -3.67 0.97 -3.29 1.91 -2.6 2.6 C -1.91 3.29 -0.97 3.67 0 3.67 z "/></defs><g clip-path="url(#pc8345bb2b6)"><use href="#m097206eef1" x="1235.88" y="394.2"/><use href="#m097206eef1" x="1236.6" y="395.64"/><use href="#m097206eef1" x="1237.32" y="397.08"/><use href="#m097206eef1" x="1238.04" y="397.8"/></g></g><g id="line2d_260"><defs><path id="mb1df0f0e28" d="M 0 3.1 C 0.82 3.1 1.61 2.77 2.19 2.19 C 2.77 1.61 3.1 0.82 3.1 0 C 3.1 -0.82 2.77 -1.61 2.19 -2.19 C 1.61 -2.77 0.82 -3.1 0 -3.1 C -0.82 -3.1 -1.61 -2.77 -2.19 -2.19 C -2.77 -1.61 -3.1 -0.82 -3.1 0 C -3.1 0.82 -2.77 1.61 -2.19 2.19 C -1.61 2.77 -0.82 3.1 0 3.1 z " style="stroke: #000000; stroke-width: 0.94"/></defs><g clip-path="url(#pc8345bb2b6)"><use href="#mb1df0f0e28" x="1238.04" y="397.8" style="fill: #ff0000; stroke: #000000; stroke-width: 0.94"/></g></g></g><g id="text_45"><text style="font-weight: 700; font-size: 16.3px; font-family: 'DejaVu Sans', 'Liberation Sans', sans-serif; text-anchor: start" x="1096.92" y="26.35" transform="rotate(-0 1096.92 26.35)">Comparison Date: 2025-10-21</text></g><g id="text_46"><text style="font-weight: 700; font-size: 16.3px; font-family: 'DejaVu Sans', 'Liberation Sans', sans-serif; text-anchor: start" x="1096.92" y="64.61" transform="rotate(-0 1096.92 64.61)">Glider: sg683</text></g><g id="text_47"><text style="font-weight: 700; font-size: 16.3px; font-family: 'DejaVu Sans', 'Liberation Sans', sans-serif; text-anchor: start" x="1096.92" y="83.74" transform="rotate(-0 1096.92 83.74)">Profiles: 5</text></g><g id="text_48"><text style="font-weight: 700; font-size: 16.3px; font-family: 'DejaVu Sans', 'Liberation Sans', sans-serif; text-anchor: start" x="1096.92" y="102.87" transform="rotate(-0 1096.92 102.87)">First: 2025-10-21 02:00:49</text></g><g id="text_49"><text style="font-weight: 700; font-size: 16.3px; font-family: 'DejaVu Sans', 'Liberation Sans', sans-serif; text-anchor: start" x="1096.92" y="122" transform="rotate(-0 1096.92 122)">Last: 2025-10-21 20:48:29</text></g><g id="text_50"><text style="font-weight: 700; font-size: 16.3px; font-family: 'DejaVu Sans', 'Liberation Sans', sans-serif; text-anchor: start" x="1096.92" y="141.13" transform="rotate(-0 1096.92 141.13)">Method: Nearest-Neighbor</text></g><g id="text_51"><text style="font-style: italic; font-size: 12.5px; font-family: 'DejaVu Sans', 'Liberation Sans', sans-serif; text-anchor: start" x="246.96" y="660.67" transform="rotate(-0 246.96 660.67)">Ocean Heat Content (kJ/cm^2) - Glider: 61.0299,  RTOFS: 55.9166,  ESPC: 38.6339,  CMEMS: 71.9370,</text></g><g id="legend_1"><g id="patch_20"><path d="M 1214.74 574.36 L 1327.55 574.36 Q 1330.75 574.36 1330.75 571.16 L 1330.75 473.14 Q 1330.75 469.94 1327.55 469.94 L 1214.74 469.94 Q 1211.54 469.94 1211.54 473.14 L 1211.54 571.16 Q 1211.54 574.36 1214.74 574.36 z " style="fill: #ffffff; opacity: 0.8; stroke: #cccccc; stroke-linejoin: miter"/></g><g id="line2d_261"><path d="M 1219.22 484.18 L 1235.22 484.18 L 1251.22 484.18 " style="fill: none; stroke: #0000ff; stroke-width: 2; stroke-linecap: square"/><g><path d="M1235.22 484.18h0" style="fill:none;stroke:#0000ff;stroke-width:8.6;stroke-linecap:round"/></g></g><g id="text_52"><text style="font-size: 16px; font-family: 'DejaVu Sans', 'Liberation Sans', sans-serif; text-anchor: start" x="1264.02" y="489.78" transform="rotate(-0 1264.02 489.78)">sg683</text></g><g id="line2d_262"><path d="M 1219.22 508.71 L 1235.22 508.71 L 1251.22 508.71 " style="fill: none; stroke: #ff0000; stroke-width: 2; stroke-linecap: square"/><g><path d="M1235.22 508.71h0" style="fill:none;stroke:#ff0000;stroke-width:8.6;stroke-linecap:round"/></g></g><g id="text_53"><text style="font-size: 16px; font-family: 'DejaVu Sans', 'Liberation Sans', sans-serif; text-anchor: start" x="1264.02" y="514.31" transform="rotate(-0 1264.02 514.31)">RTOFS</text></g><g id="line2d_263"><path d="M 1219.22 533.23 L 1235.22 533.23 L 1251.22 533.23 " style="fill: none; stroke: #008000; stroke-width: 2; stroke-linecap: square"/><g><path d="M1235.22 533.23h0" style="fill:none;stroke:#008000;stroke-width:8.6;stroke-linecap:round"/></g></g><g id="text_54"><text style="font-size: 16px; font-family: 'DejaVu Sans', 'Liberation Sans', sans-serif; text-anchor: start" x="1264.02" y="538.83" transform="rotate(-0 1264.02 538.83)">ESPC</text></g><g id="line2d_264"><path d="M 1219.22 557.76 L 1235.22 557.76 L 1251.22 557.76 " style="fill: none; stroke: #ff00ff; stroke-width: 2; stroke-linecap: square"/><g><path d="M1235.22 557.76h0" style="fill:none;stroke:#ff00ff;stroke-width:8.6;stroke-linecap:round"/></g></g><g id="text_55"><text style="font-size: 16px; font-family: 'DejaVu Sans', 'Liberation Sans', sans-serif; text-anchor: start" x="1264.02" y="563.36" transform="rotate(-0 1264.02 563.36)">CMEMS</text></g></g></g><defs><clipPath id="pdf5bd7e26a"><rect x="63.72" y="13.75" width="288.86" height="573.01"/></clipPath><clipPath id="pc8701a8b06"><rect x="418.03" y="13.75" width="289.15" height="573.01"/></clipPath><clipPath id="p26298f7945"><rect x="772.27" y="13.75" width="289.15" height="573.01"/></clipPath><clipPath id="pc8345bb2b6"><rect x="1125.94" y="197.21" width="289.58" height="205.56"/></clipPath></defs></svg> 
</body></html>
